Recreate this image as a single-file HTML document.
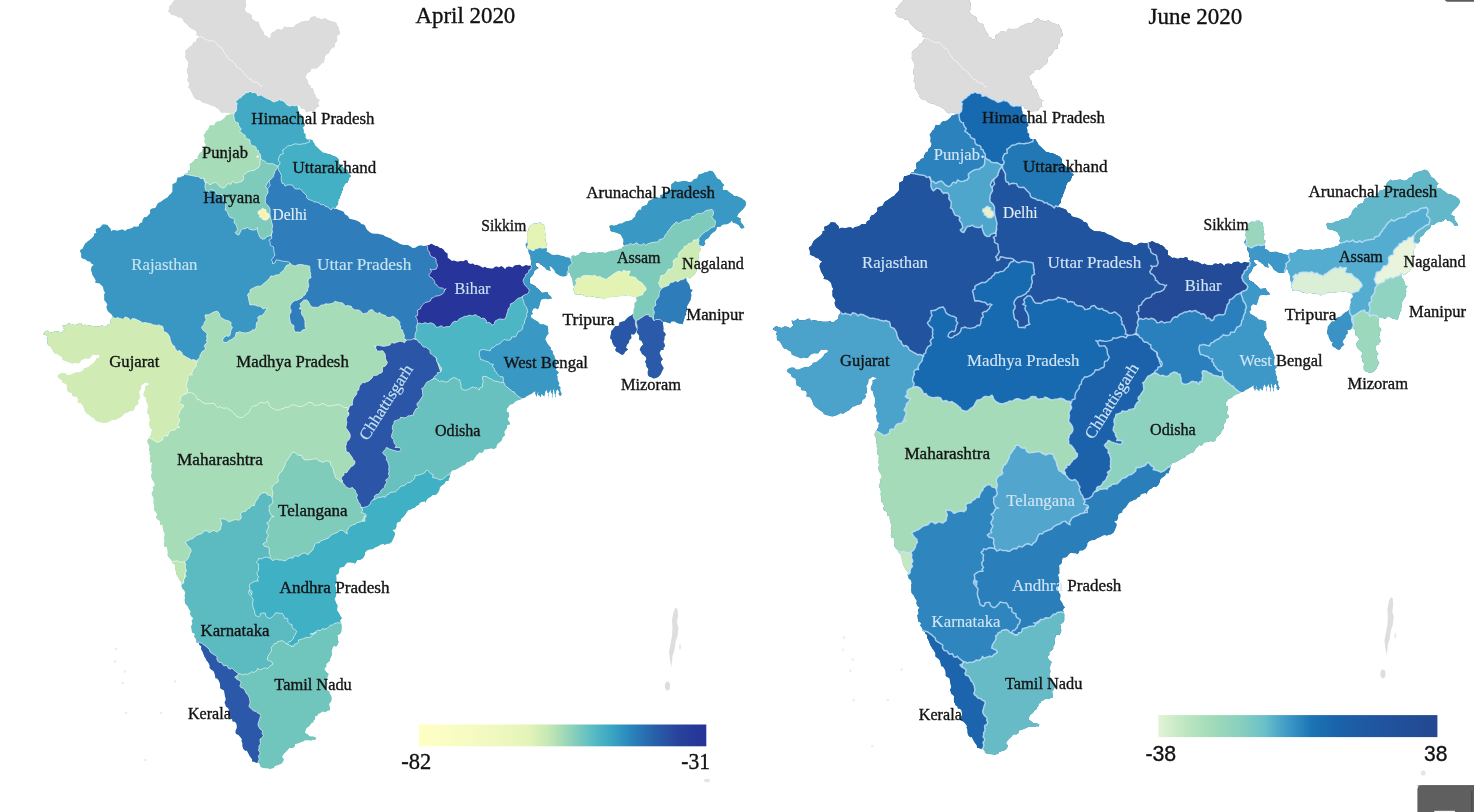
<!DOCTYPE html>
<html><head><meta charset="utf-8"><title>India maps</title>
<style>
html,body{margin:0;padding:0;background:#fff;}
body{width:1474px;height:812px;overflow:hidden;position:relative;}
svg{position:absolute;left:0;top:0;display:block;}
text{font-family:inherit;}
</style></head><body>
<svg width="1474" height="812" viewBox="0 0 1474 812">
<defs>
<linearGradient id="gl" x1="0" x2="1" y1="0" y2="0">
<stop offset="0" stop-color="#ffffc4"/><stop offset="0.10" stop-color="#fafdc4"/><stop offset="0.25" stop-color="#f1f9c0"/><stop offset="0.38" stop-color="#e4f4b9"/>
<stop offset="0.45" stop-color="#c6e8b4"/><stop offset="0.53" stop-color="#8fd2ba"/><stop offset="0.60" stop-color="#5bbec2"/><stop offset="0.67" stop-color="#3aa5c4"/>
<stop offset="0.74" stop-color="#2984bc"/><stop offset="0.82" stop-color="#2860aa"/><stop offset="0.90" stop-color="#28439c"/><stop offset="1" stop-color="#263297"/>
</linearGradient>
<linearGradient id="gr" x1="0" x2="1" y1="0" y2="0">
<stop offset="0" stop-color="#e2f4d6"/><stop offset="0.08" stop-color="#c4e8c4"/><stop offset="0.18" stop-color="#a5dcb9"/><stop offset="0.30" stop-color="#86cfbf"/>
<stop offset="0.38" stop-color="#6bc0c8"/><stop offset="0.46" stop-color="#3f9bc8"/><stop offset="0.55" stop-color="#1b74b4"/><stop offset="0.65" stop-color="#1a62aa"/>
<stop offset="0.80" stop-color="#21549f"/><stop offset="1" stop-color="#234891"/>
</linearGradient>
</defs>
<g transform="translate(0,0)">
<clipPath id="clipL"><polygon points="176.2,-1.2 177.8,-4.2 177.9,-7.2 178.8,-8.7 179.4,-10.7 178.1,-12.4 176.2,-15.0 244.5,-15.0 243.5,-12.2 243.5,-9.8 243.1,-7.5 243.9,-5.0 244.6,-3.2 244.5,-1.2 245.7,0.1 245.8,2.5 246.3,5.8 244.8,8.6 245.5,11.2 248.0,13.3 250.2,13.8 251.7,15.1 251.9,18.4 253.8,20.0 255.5,21.4 258.6,21.8 259.0,23.5 260.0,26.2 261.0,28.3 262.2,30.3 263.9,32.2 263.8,35.0 265.5,35.5 267.0,36.1 268.0,37.4 270.0,38.0 270.7,36.2 271.1,33.3 273.3,32.1 275.0,31.2 275.9,30.0 278.0,29.1 279.6,29.1 281.9,30.3 283.1,27.9 285.0,26.2 286.9,27.4 290.2,26.9 292.3,26.9 294.4,26.6 295.7,24.6 297.5,23.8 299.6,23.0 301.1,21.6 304.0,21.5 305.8,20.5 307.5,21.2 309.5,20.0 310.7,17.6 313.3,16.4 315.5,16.2 316.6,18.0 318.8,17.8 320.7,19.5 323.3,18.8 325.0,18.0 326.7,19.2 329.0,20.6 330.8,21.2 332.3,21.6 335.0,22.0 336.5,23.3 337.4,25.6 338.8,27.8 338.8,30.0 340.1,31.7 339.8,34.3 337.9,35.2 336.9,36.6 337.4,39.0 337.0,41.2 334.7,43.7 335.1,47.1 332.9,47.5 331.2,48.8 329.8,51.0 328.9,53.3 326.3,54.6 325.0,56.2 324.5,59.6 323.8,62.6 321.2,63.8 320.1,65.4 318.4,66.8 316.2,68.8 314.0,68.3 311.0,69.0 310.6,71.6 307.5,73.0 306.9,74.4 305.4,76.0 306.4,78.9 308.0,79.9 308.0,82.5 308.9,84.7 310.8,85.8 310.4,88.0 312.8,88.3 313.8,91.2 314.4,93.5 315.5,94.8 316.1,97.3 318.3,99.5 321.2,100.0 319.0,100.4 318.2,102.8 318.5,104.8 319.5,106.2 317.5,106.9 316.4,107.8 314.8,110.6 312.5,111.2 310.6,111.2 308.6,111.5 306.2,112.5 304.7,109.5 302.9,108.6 301.2,108.8 299.7,105.9 297.5,105.0 298.0,107.6 297.9,109.8 298.7,111.3 298.8,113.8 301.0,114.6 301.9,116.2 303.2,119.0 303.0,121.2 303.9,123.1 305.0,125.6 302.9,127.6 303.8,130.0 303.8,133.0 305.6,134.1 305.5,137.5 307.1,139.5 309.5,139.5 312.5,140.0 313.1,141.8 314.3,143.3 315.2,145.4 317.5,147.5 319.7,149.8 321.3,151.1 322.7,152.6 325.0,153.0 327.0,153.8 330.3,154.4 333.3,155.9 336.2,157.0 338.1,158.8 339.1,160.5 338.8,163.8 340.8,165.2 343.0,167.5 345.4,168.9 347.5,170.0 347.7,171.6 348.3,173.8 350.2,175.1 351.2,176.2 349.5,177.3 348.7,179.5 347.5,182.5 345.1,183.5 344.1,185.4 343.0,187.6 343.1,189.4 342.0,191.2 341.0,194.4 339.9,196.7 339.5,198.7 337.5,200.0 339.5,197.5 338.4,200.2 338.1,201.9 338.1,204.3 335.8,206.7 335.0,208.8 336.7,209.1 338.3,209.7 341.3,210.7 343.6,211.7 345.0,214.5 348.0,215.9 349.1,218.5 351.6,219.2 353.7,219.8 355.0,220.0 358.1,221.3 360.1,222.5 361.5,224.2 363.1,224.3 365.0,225.5 366.0,228.3 367.7,230.6 370.3,232.5 372.1,233.4 375.0,233.8 377.9,233.8 380.5,234.5 382.7,234.7 385.0,236.2 388.0,237.6 390.9,238.6 392.6,240.0 395.0,241.2 397.0,242.1 399.6,243.8 402.3,244.7 405.0,245.0 407.9,244.9 409.5,246.0 411.3,246.9 412.4,248.0 415.3,247.7 417.5,246.2 419.2,245.6 421.5,245.5 423.5,246.1 426.2,245.8 429.4,244.9 431.2,243.8 433.5,245.0 435.4,246.0 437.5,246.2 439.8,247.9 441.7,248.3 443.8,250.0 445.1,252.2 447.3,253.3 447.5,255.8 447.5,258.0 449.9,259.3 451.9,261.0 453.6,260.5 455.5,261.0 457.5,261.8 460.5,260.9 463.4,261.2 465.4,260.0 467.5,260.5 468.1,262.8 470.4,263.9 472.8,263.5 475.0,265.0 476.7,264.7 479.0,265.5 481.2,266.8 482.9,267.7 485.0,266.8 487.0,268.1 489.3,268.2 490.9,268.4 493.0,268.4 495.0,266.8 497.2,266.6 498.7,267.6 501.3,266.1 503.6,267.4 505.0,269.2 506.4,267.2 508.5,266.6 510.4,266.8 512.5,267.5 514.5,265.5 517.1,264.9 519.8,264.7 522.5,266.8 523.9,266.0 526.0,265.0 528.3,265.7 531.2,265.5 531.8,266.0 531.0,263.5 531.7,261.3 530.6,259.3 530.7,256.8 530.1,255.1 529.0,253.3 528.5,250.9 528.8,249.0 526.6,247.8 525.4,244.8 526.8,242.6 527.4,240.4 527.0,238.4 527.2,235.0 526.9,232.1 528.6,230.8 528.5,228.3 529.4,226.5 530.5,225.6 532.2,224.5 533.5,223.3 535.2,223.2 537.6,223.2 540.2,222.0 542.2,224.2 544.3,225.0 544.1,226.8 545.2,229.4 545.0,231.7 545.2,233.4 546.1,236.0 545.9,238.4 545.6,240.8 545.9,242.4 547.6,243.6 546.3,245.9 545.9,247.6 547.1,249.1 546.5,251.8 548.3,252.2 550.2,253.4 551.4,254.6 553.6,255.1 556.4,254.8 558.6,254.7 561.2,255.7 563.6,256.0 565.9,257.2 568.7,257.6 570.8,258.9 571.2,256.8 572.8,255.6 575.4,256.0 578.3,255.2 579.5,253.4 580.9,252.5 582.9,251.8 585.4,252.6 587.5,253.1 590.4,253.4 593.5,252.4 596.3,253.0 598.9,252.3 601.1,252.2 603.0,252.2 605.7,253.0 606.9,252.0 608.9,251.4 612.0,250.6 614.1,250.8 615.5,250.1 617.1,250.3 618.9,248.8 621.8,248.5 622.3,247.0 624.3,245.9 622.9,243.7 623.5,241.8 623.5,239.5 621.8,236.8 621.1,234.8 618.5,233.4 615.7,232.6 614.1,232.1 611.8,231.8 610.3,230.5 610.1,228.4 609.2,226.6 611.0,225.1 613.8,225.7 616.8,225.1 619.7,223.6 621.5,223.7 623.5,222.6 626.0,221.3 628.5,220.9 630.2,220.4 632.0,220.1 632.9,218.4 635.2,216.7 635.6,214.7 636.0,213.4 638.0,210.7 639.7,209.4 641.8,210.1 641.0,208.2 642.3,206.5 644.2,205.7 646.8,205.1 648.0,202.6 648.5,200.9 651.4,199.8 653.5,198.4 655.5,198.2 657.2,197.6 660.3,197.9 660.2,195.0 663.1,194.5 664.2,192.0 666.8,191.8 668.5,190.9 671.5,189.3 671.0,187.9 671.0,185.9 671.5,184.1 673.3,182.9 675.2,180.9 677.1,182.1 680.2,181.7 682.9,181.0 685.2,180.9 687.3,181.4 688.7,182.1 691.9,181.7 693.8,179.3 696.9,178.4 697.9,176.5 698.5,174.8 700.7,174.1 702.7,173.4 705.0,172.2 707.0,172.3 709.4,170.8 712.2,171.1 713.6,172.5 715.1,174.7 716.1,176.7 717.2,178.6 720.3,180.0 721.8,182.6 723.0,183.9 724.4,185.0 722.7,186.8 722.8,190.0 724.7,190.0 726.9,190.0 728.9,192.0 731.1,193.4 732.6,194.6 734.2,195.9 737.0,195.9 739.7,197.5 741.5,197.9 742.8,199.2 744.7,200.4 745.6,201.6 746.1,204.2 745.1,206.6 743.6,208.4 742.1,209.9 740.3,211.7 738.2,214.1 737.0,216.7 739.1,217.8 741.0,218.6 740.3,220.3 741.1,222.6 743.0,224.8 744.5,227.6 743.1,228.2 741.1,228.4 739.7,226.5 738.9,225.3 736.1,223.4 733.0,222.7 731.9,220.4 729.9,222.8 726.9,224.3 724.4,224.3 722.4,224.7 720.3,226.8 718.5,227.0 716.9,227.0 716.3,229.4 715.3,230.9 714.2,231.7 712.3,233.0 710.3,235.1 709.2,237.1 708.2,238.3 706.7,239.1 705.2,240.1 704.6,242.1 705.4,243.7 703.5,246.1 701.1,245.9 699.4,246.8 701.1,249.7 699.5,251.2 698.9,253.5 698.7,256.6 698.6,258.4 698.2,260.1 698.0,263.3 697.3,265.2 696.9,268.5 696.5,271.4 694.9,274.3 692.4,276.2 690.2,278.5 688.7,278.2 686.9,276.8 686.1,276.7 686.2,278.5 686.6,280.9 688.6,283.4 689.8,286.2 690.3,289.3 692.7,290.0 690.8,292.8 691.4,295.0 691.1,296.7 690.6,300.1 689.3,302.1 688.6,303.4 687.1,305.9 687.0,308.4 686.9,310.1 686.0,312.6 686.3,314.5 684.8,316.6 684.4,318.4 683.5,321.2 682.7,324.2 680.7,323.8 678.5,323.4 676.7,322.7 674.4,321.3 671.4,321.4 670.2,323.4 667.1,322.5 665.2,321.7 662.7,322.1 663.1,325.3 663.5,328.4 663.3,331.2 665.1,333.0 665.9,334.7 664.4,336.8 664.4,339.6 663.4,341.9 664.4,343.4 665.1,346.3 663.5,347.7 663.5,350.1 661.0,350.1 659.5,353.0 660.3,354.7 661.0,356.8 662.9,359.3 660.9,361.4 661.0,363.2 661.9,365.1 663.7,367.9 662.7,370.1 661.8,371.8 660.7,374.3 658.5,376.8 656.0,378.1 653.5,378.5 651.4,377.2 649.3,376.8 647.9,375.0 647.7,371.8 648.4,369.1 646.5,366.8 646.3,365.4 646.0,363.5 645.0,361.7 646.3,359.5 646.0,357.3 643.5,355.1 642.0,353.9 641.1,352.0 639.7,349.6 641.0,346.8 643.2,344.4 642.1,342.1 641.1,340.4 639.3,340.1 639.0,337.6 639.4,335.9 637.7,333.4 636.0,332.6 634.1,334.5 631.0,334.3 631.2,336.1 631.4,338.2 629.3,340.1 629.0,342.5 626.8,345.1 626.0,347.7 628.0,349.3 626.6,350.7 625.1,351.8 624.3,353.5 622.6,355.1 620.3,354.1 618.5,352.6 616.8,352.0 615.1,350.1 616.3,347.2 614.8,346.7 613.5,345.1 612.1,342.0 611.7,339.5 610.1,338.4 610.4,336.4 611.0,333.4 611.1,331.0 612.4,329.9 613.5,328.4 615.2,326.0 618.5,325.9 619.1,324.5 619.4,322.6 621.8,321.7 624.5,320.9 626.8,318.4 628.8,316.8 630.3,315.9 631.8,315.1 633.5,313.4 633.5,310.1 634.1,308.4 634.7,306.6 634.3,303.4 635.8,302.0 636.8,300.9 636.5,299.1 636.0,297.5 633.3,296.4 630.1,295.9 628.0,295.1 626.4,295.6 624.6,295.8 621.8,295.9 618.7,296.3 616.0,296.8 613.6,296.4 611.8,296.3 610.1,296.7 608.8,298.1 606.7,298.0 604.0,299.3 601.8,298.7 600.8,297.7 598.4,297.5 595.6,297.2 592.3,296.6 590.0,297.1 586.8,296.7 583.9,295.8 581.7,294.3 578.3,294.8 575.1,294.2 574.5,292.3 573.4,290.0 573.7,288.6 574.4,286.9 573.0,284.5 572.8,282.3 572.5,279.5 571.6,277.3 570.8,275.9 570.2,273.5 568.2,271.9 567.6,274.3 566.6,276.1 563.6,276.5 560.3,276.1 557.8,274.4 555.3,272.7 554.6,270.7 553.6,269.4 551.5,267.3 549.4,266.0 550.0,267.9 550.2,269.4 551.1,271.0 548.6,270.6 546.1,269.4 545.1,267.8 543.5,266.8 541.8,264.9 540.2,264.3 539.1,262.8 536.8,262.7 535.2,263.5 535.8,265.5 536.8,266.8 538.5,268.1 536.0,269.4 534.3,271.0 533.5,273.5 532.8,275.0 531.0,276.9 529.8,278.2 529.7,280.2 530.1,283.6 532.7,284.8 535.2,286.1 536.2,287.6 537.7,288.6 539.3,289.9 540.2,291.1 542.0,292.5 543.5,292.4 545.6,292.1 547.7,292.0 548.3,293.9 549.4,295.3 550.6,296.1 551.9,298.0 552.0,298.4 550.0,298.7 548.7,299.2 545.3,298.8 542.0,299.2 540.9,300.5 540.3,302.6 539.9,304.0 539.4,305.9 538.8,307.7 537.8,309.3 535.3,308.0 533.2,308.8 531.9,311.8 532.8,314.1 530.7,315.1 531.1,317.6 532.5,318.5 534.4,319.7 536.6,321.0 538.6,322.2 539.6,324.0 541.4,324.3 543.6,324.3 545.7,325.2 547.8,326.0 548.2,329.4 548.2,331.8 548.7,333.5 546.6,336.1 546.0,337.5 545.3,339.4 546.4,341.2 547.0,342.8 548.1,344.4 549.5,346.1 550.9,347.6 550.8,349.4 552.9,351.3 552.8,353.6 554.5,356.1 554.9,358.0 555.2,358.4 556.2,361.3 556.8,363.4 556.2,365.1 556.3,366.8 556.0,370.1 557.8,371.3 558.9,372.6 556.9,374.7 557.7,376.7 557.5,378.9 558.0,380.5 559.4,383.4 558.5,385.8 560.5,387.1 560.2,390.1 560.8,391.9 561.7,393.4 561.0,395.9 559.1,395.1 558.4,393.5 560.2,390.9 561.0,392.9 561.2,394.3 559.9,395.7 558.9,397.1 559.6,395.7 560.1,393.2 558.9,391.8 557.5,389.3 556.1,391.3 556.2,393.1 555.0,395.8 555.8,398.1 555.9,395.6 554.9,394.4 554.3,392.3 554.1,390.1 554.2,388.4 553.1,390.4 552.8,393.6 552.5,395.8 552.5,398.4 551.8,396.3 552.2,394.2 550.8,392.1 550.8,389.3 549.5,391.7 548.4,393.4 548.4,395.7 548.8,398.8 548.8,396.8 548.9,394.0 547.5,392.7 546.8,390.1 545.3,391.6 545.0,393.8 544.2,396.4 544.8,398.1 543.8,395.9 542.5,395.0 541.2,392.7 542.8,390.9 542.0,392.8 541.4,394.4 540.8,397.6 539.4,395.5 537.9,394.9 538.3,392.8 538.5,390.9 537.3,393.9 536.8,397.1 535.9,395.2 535.2,393.6 535.2,390.9 533.4,392.3 531.8,393.4 529.0,395.0 526.8,395.9 525.1,397.4 523.3,398.1 521.8,398.4 520.3,399.7 518.5,400.1 515.9,401.1 513.5,403.4 512.0,404.3 509.9,404.8 508.5,406.8 506.7,409.1 506.8,411.8 508.8,412.6 509.2,415.2 508.9,417.3 507.6,418.5 508.0,420.2 509.5,421.9 510.1,424.3 507.1,425.3 506.8,428.5 505.4,430.2 504.3,431.8 504.5,433.2 505.1,435.2 502.7,437.2 501.8,440.2 499.5,442.6 498.0,443.5 496.8,445.2 496.4,447.5 493.7,449.2 492.4,448.4 490.1,448.5 487.2,449.3 484.1,449.6 483.4,451.8 481.5,453.0 479.6,452.2 478.3,453.8 476.7,455.0 475.0,457.5 474.1,459.0 473.0,460.4 471.1,460.2 469.6,461.5 466.8,462.3 465.0,465.0 463.0,465.6 461.8,466.3 459.6,467.6 457.5,468.8 455.0,470.0 452.5,470.3 451.3,471.5 450.6,473.1 450.0,475.0 449.8,477.0 448.7,478.8 448.3,481.1 445.7,481.1 444.5,483.6 442.5,485.0 440.8,486.2 439.5,487.8 439.4,489.8 438.0,492.6 435.8,494.8 432.5,495.0 430.5,496.9 429.0,497.5 427.4,498.8 426.3,500.6 425.0,503.0 425.0,501.2 423.2,501.6 421.3,502.0 419.4,503.0 419.0,504.7 416.4,505.8 415.0,507.5 412.3,508.4 410.6,509.7 408.8,509.8 406.7,512.2 405.0,515.0 402.8,517.4 401.1,518.7 400.6,521.2 397.5,522.5 396.5,524.1 396.6,526.5 395.4,529.2 392.5,530.0 393.6,531.3 395.1,532.9 394.7,535.5 393.8,537.5 392.6,540.2 391.7,541.9 389.2,543.7 386.6,543.8 385.0,545.0 383.2,544.1 380.8,544.6 378.2,546.3 375.0,547.5 372.6,549.3 369.4,549.6 367.3,550.3 365.0,552.5 365.0,554.7 364.1,556.5 362.8,558.5 360.0,560.0 357.1,560.1 356.4,562.0 355.0,563.8 353.3,562.8 351.6,562.7 350.0,562.6 347.5,562.5 345.5,564.6 344.5,566.2 342.6,567.2 340.0,567.5 339.0,570.2 339.1,572.2 338.2,573.9 336.2,575.0 336.4,577.5 336.5,579.5 336.4,581.1 336.7,583.1 335.0,585.0 335.7,587.0 336.0,588.5 336.4,590.8 336.1,592.9 336.2,595.0 335.5,597.2 334.5,598.9 335.4,600.8 336.1,603.1 337.5,605.0 337.5,607.1 337.0,610.2 338.8,612.7 340.0,615.0 340.9,617.0 342.3,617.9 340.8,619.2 340.1,621.2 341.1,622.9 341.2,625.0 341.4,627.1 340.8,628.5 341.7,630.7 342.5,632.5 341.7,630.1 341.0,628.5 341.4,626.7 342.0,624.0 341.3,625.7 341.5,628.6 341.0,631.7 340.0,634.0 337.1,634.9 337.8,637.5 337.5,639.2 338.5,641.7 337.8,644.1 336.2,646.5 334.1,645.7 332.6,647.0 332.2,649.1 331.3,651.4 331.8,653.7 331.2,656.5 330.0,658.5 330.2,660.6 328.1,662.6 326.2,664.0 326.5,666.6 324.4,668.4 325.0,670.2 326.9,672.5 328.8,674.0 328.1,675.5 327.4,677.3 326.8,679.8 327.1,682.1 327.5,684.0 326.2,686.7 327.0,688.0 326.8,690.1 329.3,691.6 330.0,694.0 331.3,696.1 331.6,697.8 331.7,699.9 330.4,702.6 329.1,704.0 329.6,706.7 330.1,708.3 330.0,710.2 327.9,710.6 325.7,711.9 322.5,711.5 319.9,713.2 318.1,713.9 317.4,715.8 315.0,716.5 315.2,719.0 313.7,720.4 313.2,722.2 311.0,723.6 310.0,725.2 308.8,726.5 306.5,728.1 305.7,729.9 305.0,732.8 307.8,734.4 310.0,736.5 313.2,736.6 316.2,737.8 315.0,740.2 313.2,739.6 311.4,740.4 309.1,740.3 306.8,740.2 305.0,740.2 303.1,741.4 301.4,742.0 299.1,742.9 297.6,743.5 295.0,744.0 294.7,746.4 292.7,747.9 291.2,747.9 289.3,748.1 287.5,750.2 285.2,752.4 283.3,754.4 282.0,756.9 283.8,759.0 283.4,761.1 281.7,763.6 280.0,764.3 277.5,765.2 274.7,766.1 273.9,767.9 271.5,768.4 270.0,769.0 267.7,768.2 265.6,768.3 262.5,767.8 260.6,767.0 259.9,764.6 258.7,763.0 256.2,762.8 254.3,761.7 252.2,761.6 252.0,759.0 250.0,756.5 249.1,754.8 248.1,753.1 246.9,750.6 245.3,750.7 243.6,749.2 242.5,746.5 242.5,743.3 241.5,740.8 242.0,739.2 240.5,737.3 238.5,735.0 236.2,734.0 235.5,732.7 235.6,730.5 236.8,728.1 236.8,725.8 236.4,723.8 234.9,721.8 232.5,721.5 232.1,719.1 230.3,718.4 229.6,716.2 228.6,715.1 228.5,712.0 228.8,709.0 227.3,707.4 226.0,706.7 225.2,704.2 224.5,702.4 225.3,701.1 225.8,698.9 225.0,696.5 224.6,693.9 224.0,690.5 222.1,689.6 220.1,688.3 220.1,686.1 220.0,684.0 219.4,682.1 218.6,680.4 217.2,678.5 215.4,678.2 215.1,676.0 214.8,674.4 213.8,671.5 211.8,670.0 209.6,668.2 209.6,665.3 208.5,662.9 207.5,661.5 206.3,660.2 205.8,658.5 204.5,656.8 203.5,653.9 202.5,651.5 201.1,649.1 201.3,646.0 199.6,645.3 198.8,642.8 195.9,642.0 196.2,639.9 195.6,638.6 194.0,636.6 195.0,634.0 192.1,632.5 191.8,631.0 191.5,628.9 191.0,626.3 192.5,624.0 191.9,622.0 191.6,620.7 193.3,618.3 191.3,616.6 190.0,614.0 190.6,611.3 188.8,609.0 188.1,606.9 187.2,605.8 185.2,603.5 184.7,600.2 185.0,597.5 184.6,595.2 185.4,593.4 184.9,591.7 184.4,590.2 182.5,588.8 181.7,586.4 181.2,585.0 181.6,582.3 179.5,580.0 178.1,577.5 177.4,575.9 176.3,574.6 176.1,571.8 175.4,569.7 175.0,567.5 174.9,564.8 172.4,563.0 171.2,560.0 169.2,557.8 168.1,556.6 167.4,554.9 167.8,553.0 167.5,550.0 166.8,547.1 164.8,547.0 163.8,545.2 164.2,542.9 164.5,541.4 164.4,539.5 163.8,537.5 164.6,536.0 164.7,533.8 163.5,531.4 163.2,529.2 162.7,527.6 162.6,524.5 160.0,525.0 160.3,521.9 159.1,520.2 156.9,519.1 155.8,516.6 157.3,515.1 156.2,512.5 154.1,509.9 154.2,507.6 154.2,505.8 153.4,502.7 153.8,500.0 153.4,497.7 151.8,494.8 151.7,492.5 153.0,490.9 153.5,488.7 152.5,487.5 154.8,485.4 154.2,482.4 152.7,480.5 152.0,479.1 151.4,477.6 151.2,475.0 152.0,472.2 151.2,470.0 151.6,467.2 151.4,464.7 152.7,463.5 150.3,462.2 150.0,460.0 150.1,457.6 150.5,455.5 149.3,453.8 149.9,451.9 148.8,450.0 148.8,450.0 149.6,447.6 149.1,445.3 147.5,442.5 147.6,440.0 148.4,438.6 150.0,436.2 151.5,433.3 151.2,431.7 152.5,430.0 149.9,428.1 149.4,425.1 148.9,422.7 150.0,420.0 149.3,417.5 149.1,414.9 147.2,412.9 147.5,410.0 148.0,406.7 147.9,404.5 146.6,402.2 146.2,400.0 145.7,397.6 143.7,395.9 143.5,394.0 143.8,392.5 145.1,389.9 145.5,387.7 145.0,386.2 148.1,385.1 150.0,383.8 147.7,383.3 145.0,382.5 143.6,384.0 141.2,385.0 141.2,386.5 140.9,388.7 140.0,390.3 138.8,392.5 139.8,394.6 139.5,397.2 139.9,399.1 137.5,400.0 138.7,402.2 137.8,404.5 135.0,406.2 134.3,409.4 132.8,410.9 130.0,411.1 127.5,412.5 125.3,412.9 123.2,414.8 121.8,416.5 120.0,417.5 117.8,418.4 115.5,420.3 112.3,419.8 110.0,421.2 107.2,422.4 104.6,423.1 102.5,422.8 100.0,422.0 97.5,421.5 95.4,420.5 94.3,418.4 92.5,417.5 90.1,415.9 88.2,414.1 86.6,413.4 85.0,411.2 84.0,408.5 83.4,406.7 82.2,404.6 80.8,403.1 77.5,402.5 78.1,399.4 77.3,397.3 75.7,396.5 73.7,396.4 71.9,395.6 72.3,393.6 70.0,392.5 67.5,391.2 67.1,387.9 66.8,386.3 66.7,384.5 64.8,383.6 62.5,382.5 61.9,380.2 60.0,378.9 58.6,377.9 57.5,376.2 58.2,374.9 60.0,373.8 62.1,373.1 63.6,373.1 65.6,373.2 66.8,375.0 70.0,375.0 72.6,373.8 75.3,372.8 77.5,372.2 80.0,372.5 81.2,371.5 83.2,370.4 84.3,368.1 87.5,367.5 89.1,366.6 91.1,364.7 93.1,363.2 95.0,361.2 96.1,359.5 96.7,358.3 98.4,358.0 100.0,356.2 98.0,354.5 95.0,355.0 93.0,354.6 91.1,356.6 89.7,358.6 87.5,358.8 85.7,358.3 83.2,359.3 81.0,360.6 80.0,362.5 77.9,363.6 76.3,363.1 74.0,362.8 72.5,363.8 70.0,362.7 67.2,361.7 64.8,360.8 62.5,360.0 62.5,358.7 61.6,356.7 59.2,355.5 57.0,353.7 55.0,353.8 53.4,352.1 52.8,350.4 51.2,347.9 50.0,346.2 48.1,345.3 47.4,343.1 47.5,340.0 46.6,338.4 48.0,336.5 45.6,335.1 43.0,334.2 45.0,331.8 47.2,330.6 49.2,331.9 52.5,332.5 55.1,331.1 57.7,331.4 59.6,331.8 60.8,333.2 63.1,331.1 64.8,329.8 63.2,327.9 62.5,325.0 64.7,325.5 66.6,325.0 68.9,322.8 70.8,325.0 72.5,324.6 75.0,325.0 77.4,324.2 79.1,323.1 81.3,323.1 82.1,325.4 84.6,324.7 87.5,325.0 89.2,325.4 91.3,325.8 94.1,326.2 97.2,326.3 100.0,326.2 102.4,325.1 103.5,327.1 106.0,326.5 107.8,324.6 110.0,323.8 110.6,321.5 110.6,319.9 112.5,317.5 112.5,316.2 111.5,314.3 110.4,313.4 107.9,311.3 106.7,308.6 106.4,306.3 107.5,305.0 106.3,302.6 104.4,300.5 104.2,299.0 104.3,297.0 104.1,294.8 105.0,292.5 103.6,290.2 103.3,288.0 102.5,286.2 100.7,284.7 99.7,283.6 97.0,282.9 95.0,282.5 95.8,280.7 94.5,278.1 93.7,276.9 92.5,275.0 91.9,272.7 90.9,269.7 91.7,266.5 93.8,265.0 91.0,263.2 90.1,261.6 87.5,261.2 85.3,259.2 83.4,258.9 81.2,257.5 81.2,255.1 81.1,253.6 80.0,251.2 80.5,249.8 82.5,248.7 84.0,245.8 85.0,243.8 86.7,242.2 88.9,240.5 90.8,239.0 92.5,237.5 94.0,235.7 94.2,233.4 96.5,233.0 95.6,230.8 96.2,228.8 97.8,228.3 99.6,227.7 101.0,226.6 102.5,224.5 105.5,224.5 107.5,225.0 108.5,226.6 110.5,228.4 111.2,231.2 113.1,230.1 115.1,230.2 117.1,230.7 120.0,230.0 121.5,229.6 123.4,229.7 125.2,231.1 127.1,229.3 130.0,228.8 132.5,227.8 133.9,226.4 136.7,226.7 138.8,226.2 139.0,224.4 140.3,223.1 142.4,222.2 142.5,220.0 144.2,217.3 146.5,217.0 148.3,215.2 150.2,213.3 150.0,210.0 151.9,208.6 155.3,208.0 156.7,205.5 157.5,203.8 159.1,202.6 160.5,202.0 162.8,200.2 165.0,198.8 167.8,197.3 169.2,195.1 170.7,193.9 172.5,191.5 172.4,189.2 172.5,187.5 172.5,184.2 174.9,183.0 176.4,182.2 176.9,179.8 177.5,177.5 179.2,177.4 181.1,176.8 183.5,176.0 185.0,173.8 186.7,173.8 188.8,172.5 188.8,175.0 187.7,172.4 188.9,170.3 190.5,170.0 190.1,166.7 189.7,164.3 192.5,162.5 194.3,161.2 194.7,159.8 197.9,159.1 197.8,157.2 198.7,155.3 200.0,153.0 202.1,152.2 202.3,149.8 204.8,147.4 205.8,144.3 204.5,142.5 204.5,140.5 204.8,138.0 203.6,135.2 205.5,132.5 206.6,130.6 208.1,129.8 209.1,127.0 210.0,125.0 212.1,125.5 214.4,125.0 215.5,122.7 217.5,121.2 219.1,121.4 221.3,120.6 223.0,119.2 225.0,117.5 226.5,115.3 228.5,115.1 230.0,113.8 228.8,112.5 226.3,112.9 223.3,113.1 221.2,112.5 220.0,111.2 218.8,109.2 216.7,108.0 215.1,106.7 213.1,105.9 210.0,105.0 207.2,103.5 204.5,103.2 201.6,102.0 200.0,100.0 196.9,99.7 194.4,98.0 193.0,95.8 192.5,93.8 190.9,91.3 190.0,88.7 188.1,87.6 189.4,85.1 188.8,82.5 187.0,80.3 187.7,78.8 188.3,76.5 188.3,74.5 187.0,73.2 186.8,70.0 187.5,67.8 188.3,66.5 188.2,64.8 188.4,63.1 187.8,61.3 186.5,59.9 185.2,57.0 185.5,55.0 185.5,52.9 185.3,51.5 185.8,50.1 187.5,48.8 189.0,47.2 190.3,46.5 192.2,45.0 193.3,42.2 195.7,41.8 196.2,40.0 197.5,38.0 200.0,37.0 198.1,35.6 196.1,35.3 196.9,32.7 195.0,30.0 193.5,29.9 191.6,28.6 189.0,27.0 187.5,25.0 186.3,23.8 184.2,22.2 183.4,20.9 182.5,18.8 180.6,17.6 178.2,17.5 177.1,16.3 175.0,15.5 173.2,15.3 171.0,14.8 170.4,13.0 168.0,11.2 169.4,9.0 168.8,6.2 171.2,5.0 172.5,2.4 174.1,0.8"/></clipPath>
<g clip-path="url(#clipL)" stroke="#ffffff" stroke-opacity="0.6" stroke-width="1" stroke-linejoin="round">
<polygon points="176.2,-1.2 177.8,-4.2 177.9,-7.2 178.8,-8.7 179.4,-10.7 178.1,-12.4 176.2,-15.0 244.5,-15.0 243.5,-12.2 243.5,-9.8 243.1,-7.5 243.9,-5.0 244.6,-3.2 244.5,-1.2 245.7,0.1 245.8,2.5 246.3,5.8 244.8,8.6 245.5,11.2 248.0,13.3 250.2,13.8 251.7,15.1 251.9,18.4 253.8,20.0 255.5,21.4 258.6,21.8 259.0,23.5 260.0,26.2 261.0,28.3 262.2,30.3 263.9,32.2 263.8,35.0 265.5,35.5 267.0,36.1 268.0,37.4 270.0,38.0 270.7,36.2 271.1,33.3 273.3,32.1 275.0,31.2 275.9,30.0 278.0,29.1 279.6,29.1 281.9,30.3 283.1,27.9 285.0,26.2 286.9,27.4 290.2,26.9 292.3,26.9 294.4,26.6 295.7,24.6 297.5,23.8 299.6,23.0 301.1,21.6 304.0,21.5 305.8,20.5 307.5,21.2 309.5,20.0 310.7,17.6 313.3,16.4 315.5,16.2 316.6,18.0 318.8,17.8 320.7,19.5 323.3,18.8 325.0,18.0 326.7,19.2 329.0,20.6 330.8,21.2 332.3,21.6 335.0,22.0 336.5,23.3 337.4,25.6 338.8,27.8 338.8,30.0 340.1,31.7 339.8,34.3 337.9,35.2 336.9,36.6 337.4,39.0 337.0,41.2 334.7,43.7 335.1,47.1 332.9,47.5 331.2,48.8 329.8,51.0 328.9,53.3 326.3,54.6 325.0,56.2 324.5,59.6 323.8,62.6 321.2,63.8 320.1,65.4 318.4,66.8 316.2,68.8 314.0,68.3 311.0,69.0 310.6,71.6 307.5,73.0 306.9,74.4 305.4,76.0 306.4,78.9 308.0,79.9 308.0,82.5 308.9,84.7 310.8,85.8 310.4,88.0 312.8,88.3 313.8,91.2 314.4,93.5 315.5,94.8 316.1,97.3 318.3,99.5 321.2,100.0 319.0,100.4 318.2,102.8 318.5,104.8 319.5,106.2 317.5,106.9 316.4,107.8 314.8,110.6 312.5,111.2 310.6,111.2 308.6,111.5 306.2,112.5 304.7,109.5 302.9,108.6 301.2,108.8 299.7,105.9 297.5,105.0 298.0,107.6 297.9,109.8 298.7,111.3 298.8,113.8 301.0,114.6 301.9,116.2 303.2,119.0 303.0,121.2 303.9,123.1 305.0,125.6 302.9,127.6 303.8,130.0 303.8,133.0 305.6,134.1 305.5,137.5 307.1,139.5 309.5,139.5 312.5,140.0 313.1,141.8 314.3,143.3 315.2,145.4 317.5,147.5 319.7,149.8 321.3,151.1 322.7,152.6 325.0,153.0 327.0,153.8 330.3,154.4 333.3,155.9 336.2,157.0 338.1,158.8 339.1,160.5 338.8,163.8 340.8,165.2 343.0,167.5 345.4,168.9 347.5,170.0 347.7,171.6 348.3,173.8 350.2,175.1 351.2,176.2 349.5,177.3 348.7,179.5 347.5,182.5 345.1,183.5 344.1,185.4 343.0,187.6 343.1,189.4 342.0,191.2 341.0,194.4 339.9,196.7 339.5,198.7 337.5,200.0 339.5,197.5 338.4,200.2 338.1,201.9 338.1,204.3 335.8,206.7 335.0,208.8 336.7,209.1 338.3,209.7 341.3,210.7 343.6,211.7 345.0,214.5 348.0,215.9 349.1,218.5 351.6,219.2 353.7,219.8 355.0,220.0 358.1,221.3 360.1,222.5 361.5,224.2 363.1,224.3 365.0,225.5 366.0,228.3 367.7,230.6 370.3,232.5 372.1,233.4 375.0,233.8 377.9,233.8 380.5,234.5 382.7,234.7 385.0,236.2 388.0,237.6 390.9,238.6 392.6,240.0 395.0,241.2 397.0,242.1 399.6,243.8 402.3,244.7 405.0,245.0 407.9,244.9 409.5,246.0 411.3,246.9 412.4,248.0 415.3,247.7 417.5,246.2 419.2,245.6 421.5,245.5 423.5,246.1 426.2,245.8 429.4,244.9 431.2,243.8 433.5,245.0 435.4,246.0 437.5,246.2 439.8,247.9 441.7,248.3 443.8,250.0 445.1,252.2 447.3,253.3 447.5,255.8 447.5,258.0 449.9,259.3 451.9,261.0 453.6,260.5 455.5,261.0 457.5,261.8 460.5,260.9 463.4,261.2 465.4,260.0 467.5,260.5 468.1,262.8 470.4,263.9 472.8,263.5 475.0,265.0 476.7,264.7 479.0,265.5 481.2,266.8 482.9,267.7 485.0,266.8 487.0,268.1 489.3,268.2 490.9,268.4 493.0,268.4 495.0,266.8 497.2,266.6 498.7,267.6 501.3,266.1 503.6,267.4 505.0,269.2 506.4,267.2 508.5,266.6 510.4,266.8 512.5,267.5 514.5,265.5 517.1,264.9 519.8,264.7 522.5,266.8 523.9,266.0 526.0,265.0 528.3,265.7 531.2,265.5 531.8,266.0 531.0,263.5 531.7,261.3 530.6,259.3 530.7,256.8 530.1,255.1 529.0,253.3 528.5,250.9 528.8,249.0 526.6,247.8 525.4,244.8 526.8,242.6 527.4,240.4 527.0,238.4 527.2,235.0 526.9,232.1 528.6,230.8 528.5,228.3 529.4,226.5 530.5,225.6 532.2,224.5 533.5,223.3 535.2,223.2 537.6,223.2 540.2,222.0 542.2,224.2 544.3,225.0 544.1,226.8 545.2,229.4 545.0,231.7 545.2,233.4 546.1,236.0 545.9,238.4 545.6,240.8 545.9,242.4 547.6,243.6 546.3,245.9 545.9,247.6 547.1,249.1 546.5,251.8 548.3,252.2 550.2,253.4 551.4,254.6 553.6,255.1 556.4,254.8 558.6,254.7 561.2,255.7 563.6,256.0 565.9,257.2 568.7,257.6 570.8,258.9 571.2,256.8 572.8,255.6 575.4,256.0 578.3,255.2 579.5,253.4 580.9,252.5 582.9,251.8 585.4,252.6 587.5,253.1 590.4,253.4 593.5,252.4 596.3,253.0 598.9,252.3 601.1,252.2 603.0,252.2 605.7,253.0 606.9,252.0 608.9,251.4 612.0,250.6 614.1,250.8 615.5,250.1 617.1,250.3 618.9,248.8 621.8,248.5 622.3,247.0 624.3,245.9 622.9,243.7 623.5,241.8 623.5,239.5 621.8,236.8 621.1,234.8 618.5,233.4 615.7,232.6 614.1,232.1 611.8,231.8 610.3,230.5 610.1,228.4 609.2,226.6 611.0,225.1 613.8,225.7 616.8,225.1 619.7,223.6 621.5,223.7 623.5,222.6 626.0,221.3 628.5,220.9 630.2,220.4 632.0,220.1 632.9,218.4 635.2,216.7 635.6,214.7 636.0,213.4 638.0,210.7 639.7,209.4 641.8,210.1 641.0,208.2 642.3,206.5 644.2,205.7 646.8,205.1 648.0,202.6 648.5,200.9 651.4,199.8 653.5,198.4 655.5,198.2 657.2,197.6 660.3,197.9 660.2,195.0 663.1,194.5 664.2,192.0 666.8,191.8 668.5,190.9 671.5,189.3 671.0,187.9 671.0,185.9 671.5,184.1 673.3,182.9 675.2,180.9 677.1,182.1 680.2,181.7 682.9,181.0 685.2,180.9 687.3,181.4 688.7,182.1 691.9,181.7 693.8,179.3 696.9,178.4 697.9,176.5 698.5,174.8 700.7,174.1 702.7,173.4 705.0,172.2 707.0,172.3 709.4,170.8 712.2,171.1 713.6,172.5 715.1,174.7 716.1,176.7 717.2,178.6 720.3,180.0 721.8,182.6 723.0,183.9 724.4,185.0 722.7,186.8 722.8,190.0 724.7,190.0 726.9,190.0 728.9,192.0 731.1,193.4 732.6,194.6 734.2,195.9 737.0,195.9 739.7,197.5 741.5,197.9 742.8,199.2 744.7,200.4 745.6,201.6 746.1,204.2 745.1,206.6 743.6,208.4 742.1,209.9 740.3,211.7 738.2,214.1 737.0,216.7 739.1,217.8 741.0,218.6 740.3,220.3 741.1,222.6 743.0,224.8 744.5,227.6 743.1,228.2 741.1,228.4 739.7,226.5 738.9,225.3 736.1,223.4 733.0,222.7 731.9,220.4 729.9,222.8 726.9,224.3 724.4,224.3 722.4,224.7 720.3,226.8 718.5,227.0 716.9,227.0 716.3,229.4 715.3,230.9 714.2,231.7 712.3,233.0 710.3,235.1 709.2,237.1 708.2,238.3 706.7,239.1 705.2,240.1 704.6,242.1 705.4,243.7 703.5,246.1 701.1,245.9 699.4,246.8 701.1,249.7 699.5,251.2 698.9,253.5 698.7,256.6 698.6,258.4 698.2,260.1 698.0,263.3 697.3,265.2 696.9,268.5 696.5,271.4 694.9,274.3 692.4,276.2 690.2,278.5 688.7,278.2 686.9,276.8 686.1,276.7 686.2,278.5 686.6,280.9 688.6,283.4 689.8,286.2 690.3,289.3 692.7,290.0 690.8,292.8 691.4,295.0 691.1,296.7 690.6,300.1 689.3,302.1 688.6,303.4 687.1,305.9 687.0,308.4 686.9,310.1 686.0,312.6 686.3,314.5 684.8,316.6 684.4,318.4 683.5,321.2 682.7,324.2 680.7,323.8 678.5,323.4 676.7,322.7 674.4,321.3 671.4,321.4 670.2,323.4 667.1,322.5 665.2,321.7 662.7,322.1 663.1,325.3 663.5,328.4 663.3,331.2 665.1,333.0 665.9,334.7 664.4,336.8 664.4,339.6 663.4,341.9 664.4,343.4 665.1,346.3 663.5,347.7 663.5,350.1 661.0,350.1 659.5,353.0 660.3,354.7 661.0,356.8 662.9,359.3 660.9,361.4 661.0,363.2 661.9,365.1 663.7,367.9 662.7,370.1 661.8,371.8 660.7,374.3 658.5,376.8 656.0,378.1 653.5,378.5 651.4,377.2 649.3,376.8 647.9,375.0 647.7,371.8 648.4,369.1 646.5,366.8 646.3,365.4 646.0,363.5 645.0,361.7 646.3,359.5 646.0,357.3 643.5,355.1 642.0,353.9 641.1,352.0 639.7,349.6 641.0,346.8 643.2,344.4 642.1,342.1 641.1,340.4 639.3,340.1 639.0,337.6 639.4,335.9 637.7,333.4 636.0,332.6 634.1,334.5 631.0,334.3 631.2,336.1 631.4,338.2 629.3,340.1 629.0,342.5 626.8,345.1 626.0,347.7 628.0,349.3 626.6,350.7 625.1,351.8 624.3,353.5 622.6,355.1 620.3,354.1 618.5,352.6 616.8,352.0 615.1,350.1 616.3,347.2 614.8,346.7 613.5,345.1 612.1,342.0 611.7,339.5 610.1,338.4 610.4,336.4 611.0,333.4 611.1,331.0 612.4,329.9 613.5,328.4 615.2,326.0 618.5,325.9 619.1,324.5 619.4,322.6 621.8,321.7 624.5,320.9 626.8,318.4 628.8,316.8 630.3,315.9 631.8,315.1 633.5,313.4 633.5,310.1 634.1,308.4 634.7,306.6 634.3,303.4 635.8,302.0 636.8,300.9 636.5,299.1 636.0,297.5 633.3,296.4 630.1,295.9 628.0,295.1 626.4,295.6 624.6,295.8 621.8,295.9 618.7,296.3 616.0,296.8 613.6,296.4 611.8,296.3 610.1,296.7 608.8,298.1 606.7,298.0 604.0,299.3 601.8,298.7 600.8,297.7 598.4,297.5 595.6,297.2 592.3,296.6 590.0,297.1 586.8,296.7 583.9,295.8 581.7,294.3 578.3,294.8 575.1,294.2 574.5,292.3 573.4,290.0 573.7,288.6 574.4,286.9 573.0,284.5 572.8,282.3 572.5,279.5 571.6,277.3 570.8,275.9 570.2,273.5 568.2,271.9 567.6,274.3 566.6,276.1 563.6,276.5 560.3,276.1 557.8,274.4 555.3,272.7 554.6,270.7 553.6,269.4 551.5,267.3 549.4,266.0 550.0,267.9 550.2,269.4 551.1,271.0 548.6,270.6 546.1,269.4 545.1,267.8 543.5,266.8 541.8,264.9 540.2,264.3 539.1,262.8 536.8,262.7 535.2,263.5 535.8,265.5 536.8,266.8 538.5,268.1 536.0,269.4 534.3,271.0 533.5,273.5 532.8,275.0 531.0,276.9 529.8,278.2 529.7,280.2 530.1,283.6 532.7,284.8 535.2,286.1 536.2,287.6 537.7,288.6 539.3,289.9 540.2,291.1 542.0,292.5 543.5,292.4 545.6,292.1 547.7,292.0 548.3,293.9 549.4,295.3 550.6,296.1 551.9,298.0 552.0,298.4 550.0,298.7 548.7,299.2 545.3,298.8 542.0,299.2 540.9,300.5 540.3,302.6 539.9,304.0 539.4,305.9 538.8,307.7 537.8,309.3 535.3,308.0 533.2,308.8 531.9,311.8 532.8,314.1 530.7,315.1 531.1,317.6 532.5,318.5 534.4,319.7 536.6,321.0 538.6,322.2 539.6,324.0 541.4,324.3 543.6,324.3 545.7,325.2 547.8,326.0 548.2,329.4 548.2,331.8 548.7,333.5 546.6,336.1 546.0,337.5 545.3,339.4 546.4,341.2 547.0,342.8 548.1,344.4 549.5,346.1 550.9,347.6 550.8,349.4 552.9,351.3 552.8,353.6 554.5,356.1 554.9,358.0 555.2,358.4 556.2,361.3 556.8,363.4 556.2,365.1 556.3,366.8 556.0,370.1 557.8,371.3 558.9,372.6 556.9,374.7 557.7,376.7 557.5,378.9 558.0,380.5 559.4,383.4 558.5,385.8 560.5,387.1 560.2,390.1 560.8,391.9 561.7,393.4 561.0,395.9 559.1,395.1 558.4,393.5 560.2,390.9 561.0,392.9 561.2,394.3 559.9,395.7 558.9,397.1 559.6,395.7 560.1,393.2 558.9,391.8 557.5,389.3 556.1,391.3 556.2,393.1 555.0,395.8 555.8,398.1 555.9,395.6 554.9,394.4 554.3,392.3 554.1,390.1 554.2,388.4 553.1,390.4 552.8,393.6 552.5,395.8 552.5,398.4 551.8,396.3 552.2,394.2 550.8,392.1 550.8,389.3 549.5,391.7 548.4,393.4 548.4,395.7 548.8,398.8 548.8,396.8 548.9,394.0 547.5,392.7 546.8,390.1 545.3,391.6 545.0,393.8 544.2,396.4 544.8,398.1 543.8,395.9 542.5,395.0 541.2,392.7 542.8,390.9 542.0,392.8 541.4,394.4 540.8,397.6 539.4,395.5 537.9,394.9 538.3,392.8 538.5,390.9 537.3,393.9 536.8,397.1 535.9,395.2 535.2,393.6 535.2,390.9 533.4,392.3 531.8,393.4 529.0,395.0 526.8,395.9 525.1,397.4 523.3,398.1 521.8,398.4 520.3,399.7 518.5,400.1 515.9,401.1 513.5,403.4 512.0,404.3 509.9,404.8 508.5,406.8 506.7,409.1 506.8,411.8 508.8,412.6 509.2,415.2 508.9,417.3 507.6,418.5 508.0,420.2 509.5,421.9 510.1,424.3 507.1,425.3 506.8,428.5 505.4,430.2 504.3,431.8 504.5,433.2 505.1,435.2 502.7,437.2 501.8,440.2 499.5,442.6 498.0,443.5 496.8,445.2 496.4,447.5 493.7,449.2 492.4,448.4 490.1,448.5 487.2,449.3 484.1,449.6 483.4,451.8 481.5,453.0 479.6,452.2 478.3,453.8 476.7,455.0 475.0,457.5 474.1,459.0 473.0,460.4 471.1,460.2 469.6,461.5 466.8,462.3 465.0,465.0 463.0,465.6 461.8,466.3 459.6,467.6 457.5,468.8 455.0,470.0 452.5,470.3 451.3,471.5 450.6,473.1 450.0,475.0 449.8,477.0 448.7,478.8 448.3,481.1 445.7,481.1 444.5,483.6 442.5,485.0 440.8,486.2 439.5,487.8 439.4,489.8 438.0,492.6 435.8,494.8 432.5,495.0 430.5,496.9 429.0,497.5 427.4,498.8 426.3,500.6 425.0,503.0 425.0,501.2 423.2,501.6 421.3,502.0 419.4,503.0 419.0,504.7 416.4,505.8 415.0,507.5 412.3,508.4 410.6,509.7 408.8,509.8 406.7,512.2 405.0,515.0 402.8,517.4 401.1,518.7 400.6,521.2 397.5,522.5 396.5,524.1 396.6,526.5 395.4,529.2 392.5,530.0 393.6,531.3 395.1,532.9 394.7,535.5 393.8,537.5 392.6,540.2 391.7,541.9 389.2,543.7 386.6,543.8 385.0,545.0 383.2,544.1 380.8,544.6 378.2,546.3 375.0,547.5 372.6,549.3 369.4,549.6 367.3,550.3 365.0,552.5 365.0,554.7 364.1,556.5 362.8,558.5 360.0,560.0 357.1,560.1 356.4,562.0 355.0,563.8 353.3,562.8 351.6,562.7 350.0,562.6 347.5,562.5 345.5,564.6 344.5,566.2 342.6,567.2 340.0,567.5 339.0,570.2 339.1,572.2 338.2,573.9 336.2,575.0 336.4,577.5 336.5,579.5 336.4,581.1 336.7,583.1 335.0,585.0 335.7,587.0 336.0,588.5 336.4,590.8 336.1,592.9 336.2,595.0 335.5,597.2 334.5,598.9 335.4,600.8 336.1,603.1 337.5,605.0 337.5,607.1 337.0,610.2 338.8,612.7 340.0,615.0 340.9,617.0 342.3,617.9 340.8,619.2 340.1,621.2 341.1,622.9 341.2,625.0 341.4,627.1 340.8,628.5 341.7,630.7 342.5,632.5 341.7,630.1 341.0,628.5 341.4,626.7 342.0,624.0 341.3,625.7 341.5,628.6 341.0,631.7 340.0,634.0 337.1,634.9 337.8,637.5 337.5,639.2 338.5,641.7 337.8,644.1 336.2,646.5 334.1,645.7 332.6,647.0 332.2,649.1 331.3,651.4 331.8,653.7 331.2,656.5 330.0,658.5 330.2,660.6 328.1,662.6 326.2,664.0 326.5,666.6 324.4,668.4 325.0,670.2 326.9,672.5 328.8,674.0 328.1,675.5 327.4,677.3 326.8,679.8 327.1,682.1 327.5,684.0 326.2,686.7 327.0,688.0 326.8,690.1 329.3,691.6 330.0,694.0 331.3,696.1 331.6,697.8 331.7,699.9 330.4,702.6 329.1,704.0 329.6,706.7 330.1,708.3 330.0,710.2 327.9,710.6 325.7,711.9 322.5,711.5 319.9,713.2 318.1,713.9 317.4,715.8 315.0,716.5 315.2,719.0 313.7,720.4 313.2,722.2 311.0,723.6 310.0,725.2 308.8,726.5 306.5,728.1 305.7,729.9 305.0,732.8 307.8,734.4 310.0,736.5 313.2,736.6 316.2,737.8 315.0,740.2 313.2,739.6 311.4,740.4 309.1,740.3 306.8,740.2 305.0,740.2 303.1,741.4 301.4,742.0 299.1,742.9 297.6,743.5 295.0,744.0 294.7,746.4 292.7,747.9 291.2,747.9 289.3,748.1 287.5,750.2 285.2,752.4 283.3,754.4 282.0,756.9 283.8,759.0 283.4,761.1 281.7,763.6 280.0,764.3 277.5,765.2 274.7,766.1 273.9,767.9 271.5,768.4 270.0,769.0 267.7,768.2 265.6,768.3 262.5,767.8 260.6,767.0 259.9,764.6 258.7,763.0 256.2,762.8 254.3,761.7 252.2,761.6 252.0,759.0 250.0,756.5 249.1,754.8 248.1,753.1 246.9,750.6 245.3,750.7 243.6,749.2 242.5,746.5 242.5,743.3 241.5,740.8 242.0,739.2 240.5,737.3 238.5,735.0 236.2,734.0 235.5,732.7 235.6,730.5 236.8,728.1 236.8,725.8 236.4,723.8 234.9,721.8 232.5,721.5 232.1,719.1 230.3,718.4 229.6,716.2 228.6,715.1 228.5,712.0 228.8,709.0 227.3,707.4 226.0,706.7 225.2,704.2 224.5,702.4 225.3,701.1 225.8,698.9 225.0,696.5 224.6,693.9 224.0,690.5 222.1,689.6 220.1,688.3 220.1,686.1 220.0,684.0 219.4,682.1 218.6,680.4 217.2,678.5 215.4,678.2 215.1,676.0 214.8,674.4 213.8,671.5 211.8,670.0 209.6,668.2 209.6,665.3 208.5,662.9 207.5,661.5 206.3,660.2 205.8,658.5 204.5,656.8 203.5,653.9 202.5,651.5 201.1,649.1 201.3,646.0 199.6,645.3 198.8,642.8 195.9,642.0 196.2,639.9 195.6,638.6 194.0,636.6 195.0,634.0 192.1,632.5 191.8,631.0 191.5,628.9 191.0,626.3 192.5,624.0 191.9,622.0 191.6,620.7 193.3,618.3 191.3,616.6 190.0,614.0 190.6,611.3 188.8,609.0 188.1,606.9 187.2,605.8 185.2,603.5 184.7,600.2 185.0,597.5 184.6,595.2 185.4,593.4 184.9,591.7 184.4,590.2 182.5,588.8 181.7,586.4 181.2,585.0 181.6,582.3 179.5,580.0 178.1,577.5 177.4,575.9 176.3,574.6 176.1,571.8 175.4,569.7 175.0,567.5 174.9,564.8 172.4,563.0 171.2,560.0 169.2,557.8 168.1,556.6 167.4,554.9 167.8,553.0 167.5,550.0 166.8,547.1 164.8,547.0 163.8,545.2 164.2,542.9 164.5,541.4 164.4,539.5 163.8,537.5 164.6,536.0 164.7,533.8 163.5,531.4 163.2,529.2 162.7,527.6 162.6,524.5 160.0,525.0 160.3,521.9 159.1,520.2 156.9,519.1 155.8,516.6 157.3,515.1 156.2,512.5 154.1,509.9 154.2,507.6 154.2,505.8 153.4,502.7 153.8,500.0 153.4,497.7 151.8,494.8 151.7,492.5 153.0,490.9 153.5,488.7 152.5,487.5 154.8,485.4 154.2,482.4 152.7,480.5 152.0,479.1 151.4,477.6 151.2,475.0 152.0,472.2 151.2,470.0 151.6,467.2 151.4,464.7 152.7,463.5 150.3,462.2 150.0,460.0 150.1,457.6 150.5,455.5 149.3,453.8 149.9,451.9 148.8,450.0 148.8,450.0 149.6,447.6 149.1,445.3 147.5,442.5 147.6,440.0 148.4,438.6 150.0,436.2 151.5,433.3 151.2,431.7 152.5,430.0 149.9,428.1 149.4,425.1 148.9,422.7 150.0,420.0 149.3,417.5 149.1,414.9 147.2,412.9 147.5,410.0 148.0,406.7 147.9,404.5 146.6,402.2 146.2,400.0 145.7,397.6 143.7,395.9 143.5,394.0 143.8,392.5 145.1,389.9 145.5,387.7 145.0,386.2 148.1,385.1 150.0,383.8 147.7,383.3 145.0,382.5 143.6,384.0 141.2,385.0 141.2,386.5 140.9,388.7 140.0,390.3 138.8,392.5 139.8,394.6 139.5,397.2 139.9,399.1 137.5,400.0 138.7,402.2 137.8,404.5 135.0,406.2 134.3,409.4 132.8,410.9 130.0,411.1 127.5,412.5 125.3,412.9 123.2,414.8 121.8,416.5 120.0,417.5 117.8,418.4 115.5,420.3 112.3,419.8 110.0,421.2 107.2,422.4 104.6,423.1 102.5,422.8 100.0,422.0 97.5,421.5 95.4,420.5 94.3,418.4 92.5,417.5 90.1,415.9 88.2,414.1 86.6,413.4 85.0,411.2 84.0,408.5 83.4,406.7 82.2,404.6 80.8,403.1 77.5,402.5 78.1,399.4 77.3,397.3 75.7,396.5 73.7,396.4 71.9,395.6 72.3,393.6 70.0,392.5 67.5,391.2 67.1,387.9 66.8,386.3 66.7,384.5 64.8,383.6 62.5,382.5 61.9,380.2 60.0,378.9 58.6,377.9 57.5,376.2 58.2,374.9 60.0,373.8 62.1,373.1 63.6,373.1 65.6,373.2 66.8,375.0 70.0,375.0 72.6,373.8 75.3,372.8 77.5,372.2 80.0,372.5 81.2,371.5 83.2,370.4 84.3,368.1 87.5,367.5 89.1,366.6 91.1,364.7 93.1,363.2 95.0,361.2 96.1,359.5 96.7,358.3 98.4,358.0 100.0,356.2 98.0,354.5 95.0,355.0 93.0,354.6 91.1,356.6 89.7,358.6 87.5,358.8 85.7,358.3 83.2,359.3 81.0,360.6 80.0,362.5 77.9,363.6 76.3,363.1 74.0,362.8 72.5,363.8 70.0,362.7 67.2,361.7 64.8,360.8 62.5,360.0 62.5,358.7 61.6,356.7 59.2,355.5 57.0,353.7 55.0,353.8 53.4,352.1 52.8,350.4 51.2,347.9 50.0,346.2 48.1,345.3 47.4,343.1 47.5,340.0 46.6,338.4 48.0,336.5 45.6,335.1 43.0,334.2 45.0,331.8 47.2,330.6 49.2,331.9 52.5,332.5 55.1,331.1 57.7,331.4 59.6,331.8 60.8,333.2 63.1,331.1 64.8,329.8 63.2,327.9 62.5,325.0 64.7,325.5 66.6,325.0 68.9,322.8 70.8,325.0 72.5,324.6 75.0,325.0 77.4,324.2 79.1,323.1 81.3,323.1 82.1,325.4 84.6,324.7 87.5,325.0 89.2,325.4 91.3,325.8 94.1,326.2 97.2,326.3 100.0,326.2 102.4,325.1 103.5,327.1 106.0,326.5 107.8,324.6 110.0,323.8 110.6,321.5 110.6,319.9 112.5,317.5 112.5,316.2 111.5,314.3 110.4,313.4 107.9,311.3 106.7,308.6 106.4,306.3 107.5,305.0 106.3,302.6 104.4,300.5 104.2,299.0 104.3,297.0 104.1,294.8 105.0,292.5 103.6,290.2 103.3,288.0 102.5,286.2 100.7,284.7 99.7,283.6 97.0,282.9 95.0,282.5 95.8,280.7 94.5,278.1 93.7,276.9 92.5,275.0 91.9,272.7 90.9,269.7 91.7,266.5 93.8,265.0 91.0,263.2 90.1,261.6 87.5,261.2 85.3,259.2 83.4,258.9 81.2,257.5 81.2,255.1 81.1,253.6 80.0,251.2 80.5,249.8 82.5,248.7 84.0,245.8 85.0,243.8 86.7,242.2 88.9,240.5 90.8,239.0 92.5,237.5 94.0,235.7 94.2,233.4 96.5,233.0 95.6,230.8 96.2,228.8 97.8,228.3 99.6,227.7 101.0,226.6 102.5,224.5 105.5,224.5 107.5,225.0 108.5,226.6 110.5,228.4 111.2,231.2 113.1,230.1 115.1,230.2 117.1,230.7 120.0,230.0 121.5,229.6 123.4,229.7 125.2,231.1 127.1,229.3 130.0,228.8 132.5,227.8 133.9,226.4 136.7,226.7 138.8,226.2 139.0,224.4 140.3,223.1 142.4,222.2 142.5,220.0 144.2,217.3 146.5,217.0 148.3,215.2 150.2,213.3 150.0,210.0 151.9,208.6 155.3,208.0 156.7,205.5 157.5,203.8 159.1,202.6 160.5,202.0 162.8,200.2 165.0,198.8 167.8,197.3 169.2,195.1 170.7,193.9 172.5,191.5 172.4,189.2 172.5,187.5 172.5,184.2 174.9,183.0 176.4,182.2 176.9,179.8 177.5,177.5 179.2,177.4 181.1,176.8 183.5,176.0 185.0,173.8 186.7,173.8 188.8,172.5 188.8,175.0 187.7,172.4 188.9,170.3 190.5,170.0 190.1,166.7 189.7,164.3 192.5,162.5 194.3,161.2 194.7,159.8 197.9,159.1 197.8,157.2 198.7,155.3 200.0,153.0 202.1,152.2 202.3,149.8 204.8,147.4 205.8,144.3 204.5,142.5 204.5,140.5 204.8,138.0 203.6,135.2 205.5,132.5 206.6,130.6 208.1,129.8 209.1,127.0 210.0,125.0 212.1,125.5 214.4,125.0 215.5,122.7 217.5,121.2 219.1,121.4 221.3,120.6 223.0,119.2 225.0,117.5 226.5,115.3 228.5,115.1 230.0,113.8 228.8,112.5 226.3,112.9 223.3,113.1 221.2,112.5 220.0,111.2 218.8,109.2 216.7,108.0 215.1,106.7 213.1,105.9 210.0,105.0 207.2,103.5 204.5,103.2 201.6,102.0 200.0,100.0 196.9,99.7 194.4,98.0 193.0,95.8 192.5,93.8 190.9,91.3 190.0,88.7 188.1,87.6 189.4,85.1 188.8,82.5 187.0,80.3 187.7,78.8 188.3,76.5 188.3,74.5 187.0,73.2 186.8,70.0 187.5,67.8 188.3,66.5 188.2,64.8 188.4,63.1 187.8,61.3 186.5,59.9 185.2,57.0 185.5,55.0 185.5,52.9 185.3,51.5 185.8,50.1 187.5,48.8 189.0,47.2 190.3,46.5 192.2,45.0 193.3,42.2 195.7,41.8 196.2,40.0 197.5,38.0 200.0,37.0 198.1,35.6 196.1,35.3 196.9,32.7 195.0,30.0 193.5,29.9 191.6,28.6 189.0,27.0 187.5,25.0 186.3,23.8 184.2,22.2 183.4,20.9 182.5,18.8 180.6,17.6 178.2,17.5 177.1,16.3 175.0,15.5 173.2,15.3 171.0,14.8 170.4,13.0 168.0,11.2 169.4,9.0 168.8,6.2 171.2,5.0 172.5,2.4 174.1,0.8" fill="#a6dcb8" stroke="none"/>
<polygon points="150.0,-20.0 350.0,-20.0 350.0,125.0 150.0,125.0" fill="#dcdcdc"/>
<polygon points="197.5,361.2 197.6,359.4 199.7,358.0 200.0,355.0 201.0,353.7 201.8,351.8 203.3,350.8 205.0,350.0 205.3,348.1 204.2,346.0 205.8,343.6 207.5,342.5 206.3,340.9 207.0,338.7 206.5,336.0 207.2,334.5 206.2,332.5 204.3,331.2 203.1,330.0 201.5,327.7 202.4,326.0 203.8,325.0 204.4,322.3 206.2,320.0 205.4,317.7 205.0,315.0 207.1,314.7 208.4,314.7 210.3,314.0 212.5,312.5 214.7,311.7 217.5,311.2 219.5,313.9 220.0,316.2 221.1,317.6 222.7,318.6 225.0,320.0 226.6,320.4 228.5,320.8 231.2,322.5 230.7,325.1 232.5,327.5 231.5,329.2 230.9,330.6 230.6,332.5 230.0,335.0 228.9,336.4 226.6,335.8 223.8,337.5 223.0,339.2 222.5,341.2 224.1,342.3 226.2,342.5 228.0,341.7 229.2,340.2 230.9,339.9 232.5,338.8 233.9,337.8 235.3,336.3 235.8,334.2 236.2,332.5 238.1,332.5 239.6,331.6 241.8,332.5 245.2,333.0 247.5,332.5 249.5,332.1 251.2,331.1 252.5,329.8 255.0,330.0 256.1,327.5 256.2,325.0 256.8,322.2 258.5,321.4 258.2,319.1 257.5,317.5 259.7,315.8 261.7,315.8 263.1,314.2 265.0,312.5 265.4,310.5 267.5,308.8 265.3,308.0 263.1,309.0 261.6,307.5 260.0,306.2 257.4,306.1 254.8,305.0 252.5,304.7 250.0,305.0 249.5,302.8 248.8,300.0 248.3,297.0 247.5,295.0 248.7,293.2 250.1,292.8 250.0,290.0 252.1,288.5 253.7,287.9 255.9,286.7 257.5,286.2 260.5,286.2 263.1,284.2 264.8,282.4 266.7,281.5 267.5,280.0 269.8,278.1 270.8,275.9 273.6,276.2 275.8,274.9 277.5,275.0 279.7,274.2 281.5,271.8 284.2,269.9 285.0,267.5 286.9,265.1 289.1,264.7 290.0,263.0 290.7,260.8 291.6,259.1 293.9,259.8 296.2,258.5 296.2,255.7 298.1,253.9 299.1,252.3 300.0,250.0 290.0,200.0 260.0,150.0 150.0,150.0 20.0,250.0 20.0,340.0 21.9,340.4 23.8,340.3 25.6,341.1 26.9,341.7 29.2,340.8 32.3,341.5 34.9,342.9 36.3,344.3 37.5,345.4 39.6,346.2 42.5,345.8 44.2,346.1 46.5,346.8 48.9,345.8 51.0,344.8 52.3,343.8 54.7,342.8 57.0,343.6 60.0,345.0 61.6,342.4 64.0,341.2 65.8,341.4 68.3,341.9 71.0,342.6 72.7,341.9 74.5,341.3 76.0,341.6 77.9,341.9 80.2,342.8 83.5,342.0 85.6,341.9 87.2,341.3 88.9,340.7 91.0,341.8 92.8,343.0 95.6,343.0 97.3,343.8 100.0,345.0 150.0,350.0 151.6,350.5 153.7,352.1 156.2,352.6 159.2,352.7 160.7,353.8 161.9,355.6 164.1,355.4 165.5,355.8 167.8,356.6 170.5,356.6 172.2,357.4 173.8,357.8 176.8,359.3 180.0,360.0 183.1,360.6 184.5,358.8 186.8,359.5 188.3,360.4 190.7,360.1 192.1,360.8 194.2,361.5" fill="#3a97c3"/>
<polygon points="271.2,235.0 271.6,236.6 271.7,238.5 268.8,240.0 270.3,242.3 270.0,245.0 271.4,245.9 273.5,246.9 273.8,250.0 274.0,252.0 275.0,255.0 273.9,256.5 273.2,258.1 271.2,260.0 272.7,261.7 272.5,263.8 275.0,262.9 276.1,259.8 278.0,260.1 280.0,260.5 283.0,261.3 286.2,261.4 288.4,261.8 290.0,263.0 290.0,263.0 291.4,264.2 292.6,265.2 295.1,266.0 297.7,264.8 300.0,264.5 302.9,264.7 304.3,265.2 306.7,265.4 309.6,266.2 310.0,269.5 310.0,271.7 310.8,273.5 310.4,275.3 311.2,277.5 308.5,279.2 308.0,281.9 308.7,284.6 308.8,286.2 307.7,288.7 307.7,290.9 306.1,292.2 305.0,295.0 303.2,295.9 302.2,297.7 300.0,298.8 297.6,300.1 295.3,300.6 293.8,301.2 291.5,303.6 290.1,305.9 290.0,308.2 291.2,310.0 290.9,312.8 289.5,314.5 289.4,316.8 290.0,320.0 290.3,322.0 291.1,323.9 292.7,324.8 294.0,325.7 293.8,328.8 294.8,331.9 297.3,332.1 299.3,331.9 301.2,332.5 301.7,330.6 303.7,329.6 306.2,328.8 305.1,327.2 305.0,325.1 304.9,323.3 305.0,321.2 304.4,319.3 303.8,317.6 302.7,315.7 301.8,314.7 301.2,312.5 302.1,309.8 299.0,308.5 301.0,306.8 300.0,303.8 302.0,301.7 303.8,300.0 306.8,299.9 308.3,301.5 309.5,303.6 310.0,305.0 312.0,307.0 314.1,307.3 315.7,307.2 317.5,307.5 319.7,306.2 321.5,304.9 323.9,305.0 325.0,303.8 328.1,304.0 330.4,303.8 333.4,302.9 335.0,301.2 337.2,302.0 339.3,302.4 342.6,303.0 344.3,304.6 345.0,306.2 347.8,305.5 350.0,306.1 351.4,306.3 352.2,308.3 355.0,310.0 356.8,309.8 359.4,310.3 361.5,311.9 362.5,313.8 364.7,313.5 367.7,312.7 368.7,310.7 370.0,310.0 372.3,309.6 374.3,311.9 375.6,312.7 377.6,313.4 380.0,312.5 381.8,314.5 385.1,315.2 387.2,317.3 390.0,317.5 392.9,316.2 394.9,317.5 396.3,318.8 398.0,320.0 400.0,322.5 399.6,324.5 400.7,326.2 400.3,328.9 402.5,330.0 402.7,331.4 403.5,333.3 404.5,335.8 403.8,338.8 405.8,339.2 406.9,340.5 408.5,343.2 410.9,343.9 413.6,343.9 415.7,343.6 417.0,345.2 419.4,344.7 421.5,345.0 422.7,346.2 425.7,346.3 427.3,344.8 430.0,345.0 450.0,300.0 450.0,240.0 340.0,150.0 280.0,160.0 278.3,161.8 277.5,163.1 275.9,165.3 273.9,166.6 272.5,169.3 274.0,171.9 273.3,174.3 270.8,176.0 269.4,177.8 269.1,180.2 269.5,183.4 270.2,185.4 268.6,187.4 267.0,189.7 264.3,191.1 263.7,193.2 263.6,195.5 264.4,197.8 262.0,200.0 261.7,201.9 262.7,203.5 264.0,204.1 265.3,206.0 265.4,208.3 265.6,210.8 263.7,213.2 264.4,215.4 265.4,217.7 265.2,219.6 266.3,221.1 267.3,222.3 269.7,222.9 269.8,225.4 270.6,227.3 271.2,229.4 272.3,231.9" fill="#2f7ebb"/>
<polygon points="112.5,316.2 113.5,317.6 115.1,318.5 117.5,317.5 119.1,318.2 121.1,318.7 123.2,319.4 125.0,317.0 127.7,317.8 129.0,318.6 130.7,320.2 132.3,318.6 135.0,318.8 137.6,320.1 140.2,321.3 142.8,322.9 145.0,322.5 147.2,323.0 148.6,323.3 150.9,323.7 153.2,324.9 155.0,325.0 156.7,325.4 159.1,324.9 160.6,325.7 162.5,326.2 163.4,328.5 163.4,330.3 164.0,331.7 166.2,332.5 167.5,333.3 168.7,335.1 170.0,337.5 170.1,339.3 171.0,342.0 172.5,345.0 174.6,346.2 175.2,348.6 176.4,350.1 177.5,351.2 179.4,350.5 181.5,351.9 182.8,354.9 185.0,356.2 187.8,357.9 189.5,358.5 191.2,360.0 193.8,359.6 195.9,360.5 197.5,361.2 196.3,363.7 196.2,365.9 195.0,367.5 193.3,369.4 192.4,371.4 191.7,373.4 192.5,375.0 189.3,374.9 187.5,377.5 188.2,379.7 187.1,381.9 186.2,385.0 186.7,387.7 187.8,388.9 187.5,391.2 186.2,393.8 186.1,396.3 187.1,397.9 185.8,398.8 184.0,400.0 184.5,401.9 185.4,404.1 185.2,407.2 186.0,410.0 184.1,412.6 184.6,414.8 182.7,416.4 181.5,418.1 181.0,420.4 179.6,422.6 181.7,425.0 181.6,428.2 181.0,430.4 179.5,431.3 179.0,433.9 178.5,436.4 179.4,438.4 179.4,440.2 180.1,441.8 179.2,444.2 177.5,445.0 179.4,447.5 180.0,450.0 20.0,450.0 20.0,310.0 100.0,318.0 102.2,317.5 103.2,316.5 105.1,315.1 107.6,315.8 109.2,316.3" fill="#d0ecb4"/>
<polygon points="151.2,438.8 153.0,440.0 154.3,440.7 155.9,441.8 157.5,442.5 160.3,441.3 162.5,440.0 163.1,436.8 164.8,435.7 167.5,436.2 168.5,433.3 170.0,431.2 172.2,430.1 175.0,430.0 176.2,428.1 177.4,427.3 180.0,427.5 177.4,426.0 178.2,423.9 178.8,422.5 180.0,419.6 178.6,417.5 177.5,416.2 178.8,414.3 179.7,412.8 180.0,410.0 181.2,409.0 182.7,407.7 183.8,405.0 181.2,404.5 178.8,402.5 181.0,400.1 180.5,398.3 181.2,396.2 183.8,394.6 186.2,393.8 188.8,392.5 191.3,392.7 193.8,393.8 195.2,395.3 196.4,397.0 197.5,400.0 199.9,399.5 201.6,402.1 203.9,403.0 206.0,403.5 207.5,403.8 209.5,403.6 212.5,403.3 215.1,404.0 215.7,405.6 217.5,407.5 220.5,406.7 222.4,407.8 224.1,408.4 226.6,407.7 227.8,409.0 230.0,410.0 231.8,411.3 233.4,412.8 235.0,414.0 236.2,416.2 238.0,416.9 240.0,417.5 242.2,417.6 243.5,416.6 245.5,414.8 247.5,413.8 249.5,411.6 250.4,409.3 251.6,407.5 252.5,406.2 254.5,405.9 256.6,405.4 257.8,404.2 260.0,402.5 261.9,402.5 264.7,403.1 267.5,401.2 268.6,402.9 269.1,405.2 271.2,407.5 274.1,409.1 275.4,409.8 277.5,410.0 279.1,410.0 280.9,409.2 283.6,408.5 285.6,407.2 287.5,407.5 289.2,406.9 290.7,405.8 292.3,405.0 295.0,405.0 297.2,406.0 299.2,406.6 302.5,406.2 304.4,405.2 306.1,404.7 307.4,402.9 310.0,402.5 312.4,402.8 313.0,404.4 315.3,405.5 317.4,405.0 320.0,405.0 321.8,403.2 324.6,404.2 327.2,405.7 330.0,406.2 332.0,405.3 334.7,405.2 336.9,404.5 340.0,405.0 341.5,405.7 343.0,407.0 344.7,407.5 347.5,407.5 348.2,410.8 347.9,413.0 348.8,415.0 350.6,417.0 349.5,418.7 349.2,420.3 352.5,421.0 353.6,423.5 354.4,424.9 356.2,426.4 358.1,428.7 360.0,430.0 370.0,500.0 368.8,503.0 367.0,504.2 365.7,505.9 364.0,507.9 362.0,507.4 360.4,507.1 359.1,509.9 357.6,510.2 355.9,511.2 355.8,513.9 355.8,516.3 354.3,517.5 352.4,518.4 350.0,520.0 300.0,560.0 250.0,600.0 200.0,600.0 150.0,610.0 120.0,560.0 120.0,450.0 122.4,450.2 124.0,450.1 126.9,448.8 128.4,448.3 130.0,446.7 132.9,447.4 133.8,445.9 135.6,444.0 138.1,444.9 139.9,445.0 141.8,443.7 143.8,442.4 145.8,440.5 146.8,438.5 149.4,438.2" fill="#a6dcb8"/>
<polygon points="342.5,482.5 342.6,480.5 341.2,478.8 342.2,476.2 344.1,475.1 343.8,472.5 346.6,472.8 348.5,469.9 349.9,468.4 350.3,467.0 352.5,466.2 354.7,463.9 355.0,461.2 353.1,459.7 352.2,457.3 350.3,454.8 348.8,452.5 346.1,451.5 346.0,448.4 345.6,446.3 346.2,445.0 346.6,442.1 348.8,440.0 350.1,437.7 350.3,435.5 349.8,433.5 349.2,432.3 347.5,430.0 345.8,427.5 346.4,425.4 346.5,424.0 346.9,422.2 346.2,420.0 346.8,417.6 348.8,415.0 348.9,412.8 347.6,411.3 348.7,408.9 349.6,406.0 352.5,405.0 352.4,402.4 353.0,399.5 353.8,397.7 355.0,396.2 356.4,394.7 356.8,393.3 356.8,391.3 358.8,390.0 359.0,388.1 359.6,385.8 361.0,384.4 362.5,382.5 364.6,382.7 366.7,381.8 368.8,380.9 370.0,380.0 372.2,377.9 373.3,375.2 375.7,375.6 377.5,375.0 379.3,373.5 381.5,373.0 382.5,371.4 382.5,368.8 382.7,366.9 385.2,366.2 386.5,364.5 387.5,362.5 386.4,360.6 385.5,358.5 385.5,356.4 385.0,353.8 384.1,352.6 382.8,350.7 380.5,350.9 377.5,351.2 375.8,348.3 375.7,346.4 373.8,345.5 375.3,346.7 377.4,345.2 379.6,345.6 382.5,346.2 384.4,346.3 386.9,345.8 390.0,345.0 391.6,342.6 394.4,343.2 396.8,342.3 400.0,341.2 402.1,341.6 404.7,342.7 405.6,340.8 407.5,340.0 410.3,339.9 412.0,339.5 413.8,338.8 416.2,339.8 419.3,339.1 421.2,339.9 422.3,341.6 423.9,340.7 426.5,340.9 428.7,340.7 430.0,340.0 450.0,400.0 420.0,470.0 380.0,520.0 376.8,520.2 375.2,518.9 374.6,517.2 372.8,517.7 370.5,516.7 367.8,516.9 365.5,517.0 364.7,514.9 362.7,513.4 359.7,512.3 357.8,511.0 357.5,508.5 355.5,509.0 354.0,509.0 352.0,509.6 349.7,508.3 347.8,508.7 346.2,508.3 344.9,507.2 343.4,505.8 344.3,504.0 343.7,502.1 341.4,501.9 340.0,500.0 338.5,497.9 340.2,496.3 339.1,494.7 338.8,492.6 340.7,490.1 343.0,487.6 342.7,485.4" fill="#2b56a8"/>
<polygon points="203.8,178.8 204.3,180.8 205.4,182.3 205.1,185.0 205.0,187.5 205.8,190.3 207.5,192.5 209.3,191.0 210.7,189.7 213.2,190.2 215.0,191.2 216.2,193.4 217.9,195.1 219.9,194.4 222.5,195.0 223.7,197.8 223.2,200.4 225.0,202.5 225.8,204.1 225.6,206.5 225.6,208.0 225.0,210.0 226.6,210.6 227.7,212.8 228.6,215.3 230.0,217.5 233.1,218.3 234.8,219.8 233.9,221.7 234.6,223.3 236.2,225.0 236.8,226.9 237.7,229.8 236.6,231.0 235.0,232.5 236.8,234.6 238.8,235.0 240.2,232.4 241.2,230.3 242.5,228.8 245.1,228.7 247.5,227.5 249.7,229.3 252.5,230.0 254.4,229.9 256.0,229.6 257.5,227.5 257.2,230.0 258.0,232.5 258.7,234.6 260.0,237.5 262.6,239.2 265.0,238.8 266.4,236.9 267.8,236.4 269.9,235.6 271.2,236.2 271.5,234.0 272.3,231.1 271.9,229.3 272.5,227.5 272.6,225.2 271.9,222.9 271.2,220.0 270.4,216.8 270.1,214.6 270.0,212.5 270.1,209.2 268.9,206.6 267.5,205.0 265.8,203.7 265.2,201.3 265.7,199.5 265.5,197.5 266.4,195.2 268.1,192.5 267.7,189.4 266.2,187.5 265.9,186.0 266.8,184.1 267.7,182.2 270.0,180.0 272.0,178.3 273.5,176.6 273.8,174.4 274.5,173.2 275.0,171.2 277.0,168.6 277.5,166.2 278.6,163.9 276.1,161.7 275.7,159.7 274.8,158.1 273.0,156.5 273.2,154.2 274.6,152.7 275.0,150.0 272.4,149.5 270.9,149.3 268.7,148.2 267.3,149.4 264.9,150.6 263.3,153.1 260.8,151.7 259.0,152.0 256.5,152.2 253.7,151.5 251.7,151.2 248.9,149.9 246.7,148.7 244.7,149.1 242.7,148.2 240.0,150.0 237.9,151.1 236.4,151.6 233.6,151.6 231.7,150.9 229.5,151.8 227.4,152.1 226.3,153.1 225.4,154.5 223.4,155.4 222.3,157.1 220.3,159.0 217.8,160.1 215.0,160.0 214.9,162.8 213.6,165.0 211.7,166.6 209.5,166.3 208.1,168.4 205.4,168.7 203.6,170.4 201.6,170.4 200.0,170.0 201.3,172.6 203.2,174.3 203.3,176.6" fill="#7fcbbb"/>
<polygon points="230.0,113.8 233.2,113.3 234.9,112.7 236.2,110.5 238.5,109.8 240.0,110.0 240.5,112.7 242.6,114.8 244.2,115.7 245.3,117.4 246.9,119.8 248.1,121.2 248.2,123.8 247.6,125.9 248.7,128.3 250.0,130.0 252.3,131.0 254.5,132.6 255.8,134.7 256.5,137.9 257.7,139.5 259.3,140.1 260.3,141.4 260.2,143.4 261.4,145.7 262.5,147.5 262.2,149.2 262.5,150.9 261.1,152.9 261.9,154.4 262.5,156.2 260.5,158.0 260.1,161.4 260.0,163.8 259.6,165.8 258.0,168.0 256.3,168.6 255.0,170.0 253.1,170.5 250.2,170.8 247.6,172.0 245.0,173.8 243.2,175.6 243.8,178.8 242.0,181.4 239.9,181.8 238.8,182.5 237.3,182.8 234.9,182.9 232.5,181.2 231.5,182.9 230.9,184.5 229.0,183.7 227.5,183.8 225.8,186.4 224.3,187.7 222.5,188.0 220.7,186.8 219.4,186.3 217.5,183.8 215.6,182.4 212.8,183.1 210.0,185.0 207.5,182.8 205.0,182.5 204.8,180.1 203.8,178.0 200.7,178.7 198.6,176.7 196.6,176.6 195.0,176.2 192.0,175.7 188.8,175.0 186.9,174.7 184.2,174.3 181.8,175.3 180.2,175.9 177.0,175.7 175.0,175.0 187.5,125.0 189.7,124.9 192.3,124.2 194.0,122.7 196.2,121.6 199.0,121.2 200.9,120.1 202.5,121.3 203.9,122.8 207.1,122.7 207.9,121.5 208.8,119.5 211.8,119.2 213.0,118.4 215.0,117.5 217.4,116.0 219.2,115.2 221.5,116.0 222.5,113.6 225.0,112.8 226.2,114.5 228.4,114.2" fill="#a6dcb8"/>
<polygon points="236.2,111.2 236.7,108.3 236.5,105.4 237.3,103.5 235.4,101.8 237.5,100.0 239.4,98.1 241.3,97.4 242.3,95.5 243.8,95.0 246.0,92.7 248.7,92.4 250.0,91.2 252.3,92.7 255.0,92.5 257.1,94.0 257.5,95.8 259.2,95.5 261.2,95.0 263.6,96.7 265.9,98.0 267.5,98.8 270.3,99.7 271.9,101.1 273.8,102.0 276.5,101.1 278.5,100.4 280.0,98.8 280.6,100.6 282.8,100.7 285.0,102.5 287.1,105.0 290.0,106.2 291.5,105.5 293.5,105.6 295.4,105.9 297.5,105.0 298.1,107.6 298.9,108.7 300.0,110.5 301.3,113.0 302.2,115.6 305.2,115.4 307.5,117.5 307.1,120.6 306.6,123.3 307.5,125.3 307.3,128.1 308.2,130.9 309.3,134.1 309.6,136.5 310.9,138.7 312.5,140.0 312.0,141.5 310.6,143.3 310.2,145.0 309.3,147.4 307.4,148.4 304.4,149.9 302.6,151.0 299.3,151.5 296.8,152.8 295.0,155.0 292.8,155.7 290.4,156.3 288.9,158.8 286.6,159.9 284.4,161.8 281.9,164.2 279.9,165.1 278.0,166.2 275.0,165.0 272.7,163.6 270.0,163.8 266.7,163.3 265.0,161.2 262.3,160.2 260.5,158.0 260.7,155.1 258.8,152.5 258.4,150.5 256.2,149.9 256.3,147.9 255.0,146.2 252.5,145.8 250.6,144.2 250.0,142.1 250.0,140.0 247.9,139.0 246.4,138.3 245.4,137.2 245.0,135.0 243.5,134.6 242.1,132.9 239.7,131.6 241.2,128.8 239.6,127.1 238.5,125.1 238.2,122.8 236.2,122.5 234.5,120.2 234.3,118.5 233.8,116.2 233.8,114.8 234.4,112.8" fill="#42aac5"/>
<polygon points="309.5,139.5 309.4,142.0 307.2,142.7 304.8,143.7 302.5,143.8 300.4,144.4 298.3,144.2 295.0,143.8 293.0,144.5 291.6,145.3 289.4,145.6 287.5,146.2 285.5,148.1 283.9,149.4 282.5,150.0 283.0,151.5 283.1,153.9 280.4,154.5 279.5,156.2 278.3,159.1 278.7,161.0 280.0,162.5 279.6,164.7 278.0,166.2 278.3,168.0 278.3,169.8 280.0,172.5 281.4,175.3 281.2,177.9 281.2,180.0 282.0,183.3 284.2,183.9 285.0,186.2 286.5,185.2 289.1,184.8 291.0,185.1 292.5,185.0 293.7,187.5 295.0,188.7 297.1,189.1 300.0,188.8 302.2,191.1 303.8,192.9 305.0,193.8 306.5,195.6 306.8,197.9 308.0,199.2 310.0,200.0 310.0,200.0 312.2,200.5 313.9,202.1 315.8,201.9 317.5,202.5 319.8,203.3 320.9,204.8 323.7,204.5 325.0,206.2 327.1,206.7 329.1,208.1 331.2,210.0 332.8,207.6 335.0,208.8 337.3,206.7 339.9,205.9 341.7,204.6 344.7,205.3 347.1,205.3 348.8,203.1 350.0,201.3 352.1,202.4 353.9,201.6 355.5,201.1 357.3,200.4 360.0,200.0 360.0,130.0 310.0,130.0 308.4,132.5 308.5,134.6 309.5,136.9" fill="#44b0c6"/>
<polygon points="262.5,208.2 264.1,209.1 266.2,210.0 265.9,212.3 268.8,213.8 269.5,217.0 268.4,218.5 267.0,220.0 265.0,220.0 262.5,219.5 261.9,217.8 259.5,217.0 260.0,215.1 258.0,213.8 258.1,211.2 260.0,210.5" fill="#f7f3b4"/>
<polygon points="427.5,246.2 427.6,247.9 427.8,250.6 429.6,251.9 430.0,255.0 431.4,256.3 433.3,257.4 435.1,257.8 436.1,259.5 436.2,262.5 437.1,263.9 437.5,266.2 436.1,269.2 433.5,269.5 431.6,269.8 430.0,268.8 431.5,270.9 430.5,272.8 428.8,275.0 429.8,276.9 431.9,277.8 433.8,280.0 434.9,282.1 434.6,283.7 436.7,284.7 437.5,286.2 439.7,287.8 442.7,288.1 444.3,289.5 446.2,288.8 444.8,289.9 443.8,292.5 442.4,294.1 439.9,295.3 438.0,295.9 435.0,296.2 433.7,297.6 431.7,298.0 430.3,301.0 428.1,301.9 425.0,302.5 423.6,304.1 421.4,306.2 420.3,309.0 417.5,310.0 417.7,313.0 417.6,315.7 415.5,316.2 416.3,317.9 417.3,319.9 417.6,321.9 417.5,323.8 419.0,326.3 420.5,327.7 421.7,328.8 424.1,329.3 425.7,330.1 427.6,331.1 428.3,332.4 430.0,335.0 500.0,330.0 540.0,300.0 545.0,250.0 420.0,230.0 420.8,232.6 422.0,234.6 423.5,237.2 425.0,239.5 426.5,242.0 426.7,244.7" fill="#27349a"/>
<polygon points="431.2,380.0 433.1,379.1 433.8,377.5 434.9,375.9 436.9,375.2 437.5,372.5 439.7,372.3 440.9,371.6 441.6,369.8 441.2,367.5 439.5,365.8 438.8,363.8 436.6,361.4 436.7,358.4 435.3,356.7 433.8,356.2 432.2,354.6 430.3,353.5 430.0,352.0 430.0,350.0 428.2,349.0 425.9,347.1 424.1,347.2 422.5,346.2 420.8,343.3 418.5,342.2 417.5,340.0 415.8,338.6 413.8,338.8 415.0,337.5 415.1,334.4 415.8,332.2 417.0,330.0 416.2,326.8 417.5,323.8 417.5,323.8 419.7,322.9 421.4,323.8 422.9,323.6 425.0,322.5 427.9,323.8 430.1,322.7 433.0,323.5 435.0,325.0 436.1,327.3 438.5,327.0 441.2,325.7 443.8,327.5 446.4,326.6 449.8,326.6 450.9,325.1 452.5,322.5 455.0,321.1 456.9,321.6 458.5,319.6 460.0,318.4 462.5,317.5 464.4,316.3 466.7,316.3 468.2,315.6 470.0,315.0 472.0,316.0 474.2,314.9 476.1,314.8 477.5,316.2 479.4,316.7 481.4,318.5 483.4,318.1 485.0,318.8 486.6,321.0 486.6,322.9 489.1,322.3 491.2,323.8 491.7,325.2 494.2,324.2 495.1,321.0 496.9,320.1 499.3,318.9 501.6,319.1 503.4,319.3 505.5,318.5 506.0,316.8 506.6,314.4 507.6,311.8 508.1,308.9 510.1,306.7 510.5,303.8 513.5,302.6 515.6,300.5 517.7,298.4 520.3,297.6 522.7,296.3 524.1,296.8 526.4,296.7 528.3,296.1 529.8,295.6 532.5,296.8 533.8,298.5 535.5,299.5 537.4,301.3 540.0,300.0 539.3,301.5 539.0,303.7 538.5,307.0 537.5,309.4 536.7,311.1 535.8,312.4 537.2,314.7 536.7,316.8 537.8,318.9 539.8,321.0 540.9,322.9 540.4,325.9 539.4,327.6 540.7,329.7 540.5,331.6 539.0,334.1 539.7,336.5 539.4,338.5 540.0,340.0 520.0,400.0 450.0,420.0 449.9,417.8 450.6,415.9 450.0,414.3 449.5,411.7 449.0,408.5 447.1,407.2 445.9,405.2 443.8,405.0 443.9,401.9 442.0,400.1 441.5,398.3 440.1,395.5 437.3,393.8 435.2,391.2 433.5,388.4 433.2,386.4 433.1,384.2 432.1,381.7" fill="#4db6c4"/>
<polygon points="431.2,379.9 433.3,378.9 435.0,378.4 437.4,379.9 439.5,381.5 441.7,380.9 443.8,381.5 446.1,382.3 448.7,381.2 450.0,379.2 451.8,378.5 453.4,377.6 456.7,378.4 457.7,379.6 460.1,380.1 460.0,381.7 461.0,384.1 460.9,386.8 461.8,389.0 464.2,390.1 466.9,389.9 468.9,389.2 470.1,388.4 471.9,387.2 473.3,387.1 475.2,388.0 476.7,387.6 477.8,388.8 479.2,390.1 479.8,387.8 482.6,386.8 482.5,383.8 483.4,381.7 482.6,379.1 482.6,376.7 484.3,376.3 486.8,376.7 488.7,378.0 491.8,379.2 492.9,380.5 495.5,381.2 498.4,381.7 500.7,382.7 502.8,382.0 504.3,383.4 505.9,380.8 508.0,380.1 509.8,379.6 512.6,379.2 514.1,378.9 515.9,377.7 516.4,375.8 518.3,374.7 519.4,372.0 520.0,370.0 519.5,373.1 520.8,375.5 521.9,377.3 522.9,378.7 524.6,380.5 526.6,380.5 527.7,382.6 527.1,384.3 528.8,385.8 529.2,387.8 531.3,387.8 533.7,388.0 535.1,389.6 535.9,392.0 535.1,393.5 535.8,396.1 536.6,397.3 538.5,398.3 540.0,400.0 540.0,401.5 539.0,403.5 537.1,405.8 535.1,406.1 532.0,406.9 529.7,407.2 526.6,408.5 525.3,410.8 524.8,413.3 524.0,414.7 521.2,415.8 520.0,418.0 520.0,420.0 480.0,470.0 440.0,500.0 437.3,498.9 435.4,500.1 434.3,501.7 431.2,503.1 428.7,503.9 427.1,505.5 424.9,506.8 422.4,506.2 419.5,506.8 417.5,507.9 415.8,508.7 413.6,509.3 410.9,508.2 408.6,507.7 406.6,507.0 404.4,507.0 403.3,509.5 400.0,510.0 398.1,509.6 395.8,511.0 393.7,510.5 392.1,512.0 390.0,512.4 388.4,512.2 387.3,509.7 385.4,507.1 383.2,506.1 381.6,506.3 379.1,505.0 377.4,504.0 375.0,505.0 374.0,502.2 372.5,500.0 374.4,498.5 374.4,496.1 376.2,494.5 378.1,494.3 380.0,492.5 381.1,490.2 383.0,488.8 384.4,487.3 385.0,485.0 386.9,482.2 385.5,480.1 387.3,478.8 388.8,477.5 389.2,475.8 388.4,473.9 389.0,471.7 388.8,470.0 388.8,468.1 389.1,466.4 388.3,463.7 387.6,461.2 386.2,460.0 386.6,458.2 386.2,456.2 384.3,455.0 382.5,452.5 384.2,450.5 385.6,449.5 386.2,447.5 388.1,448.1 389.5,449.0 392.5,450.0 395.6,450.8 397.6,451.3 400.0,451.2 401.2,448.8 399.9,447.9 397.9,447.5 395.0,447.5 396.2,445.7 394.4,443.5 393.7,441.6 393.8,440.0 392.7,439.0 391.5,437.2 391.7,434.8 392.5,432.5 393.1,430.6 392.3,429.0 392.5,425.7 393.8,423.8 394.3,420.9 397.5,420.0 399.6,419.2 400.6,417.3 404.0,417.8 406.2,417.5 408.1,415.8 409.9,415.8 412.2,415.0 413.8,415.0 413.5,413.2 414.5,411.3 416.1,408.6 418.8,407.5 417.0,405.4 417.2,403.1 419.2,401.6 420.0,400.0 421.3,398.1 422.9,395.8 422.5,392.5 422.5,390.5 421.6,388.6 423.7,387.4 425.0,385.0 426.0,383.3 427.1,381.9 429.5,380.9 431.2,380.0" fill="#68c1be"/>
<polygon points="531.8,266.0 530.9,267.5 531.0,269.4 528.9,270.0 528.5,272.7 525.8,274.3 525.1,276.9 523.7,278.5 523.0,281.1 523.7,282.3 524.3,284.4 526.2,286.6 527.6,287.8 529.3,290.3 528.5,292.8 526.9,294.2 525.1,294.5 522.6,296.1 522.7,296.3 522.4,298.6 523.5,300.9 524.1,303.3 524.4,304.9 526.1,306.7 527.1,308.9 527.7,311.8 526.5,314.3 526.8,316.2 525.6,318.5 524.7,320.8 524.4,323.5 522.9,325.2 522.7,327.7 522.1,329.6 520.2,331.0 518.1,331.8 516.8,334.4 515.6,336.9 513.5,336.9 511.6,337.0 511.0,339.4 509.1,340.2 507.6,340.2 505.6,340.0 504.3,339.4 502.6,341.1 501.0,342.1 500.1,343.6 497.9,344.4 495.9,345.3 493.7,347.3 491.7,347.8 490.9,349.2 490.0,351.1 488.8,350.4 486.7,350.3 485.2,349.8 483.3,349.4 481.8,349.9 480.0,350.3 479.2,353.4 479.4,355.4 480.1,357.6 480.6,359.6 483.4,360.1 485.8,361.3 488.4,361.7 490.2,363.9 493.4,364.2 492.4,366.9 494.3,368.4 494.5,370.7 496.0,371.6 496.8,373.4 498.8,375.4 500.1,376.7 503.0,376.8 503.4,380.1 503.3,381.5 504.3,383.4 505.0,385.4 506.8,386.8 508.3,388.1 511.0,390.1 512.2,391.5 514.3,391.8 515.4,394.0 516.8,395.1 518.1,396.2 520.1,397.6 521.8,398.4 522.2,400.5 523.8,401.7 523.2,404.5 524.5,407.3 524.2,409.4 525.6,412.3 527.1,414.1 529.5,415.2 528.9,417.4 530.0,420.0 600.0,420.0 600.0,200.0 515.0,200.0 515.0,264.0 516.8,262.8 519.5,264.2 521.3,264.8 522.9,264.0 524.9,263.0 528.2,263.0 529.3,264.5" fill="#3a98c4"/>
<polygon points="526.8,247.8 528.9,249.1 530.6,249.5 532.1,250.6 534.1,250.5 535.2,248.8 537.6,248.6 539.4,247.6 542.4,248.3 543.9,248.1 545.9,247.8 547.4,245.9 548.4,243.8 549.3,241.8 549.7,240.5 550.2,238.4 551.4,235.7 552.1,234.0 550.5,232.2 549.6,230.9 550.3,227.6 551.8,225.4 550.3,223.7 550.2,221.6 548.4,222.0 546.4,221.6 544.7,222.1 542.9,221.7 541.4,222.8 538.8,222.2 536.5,223.8 534.1,223.5 532.1,223.6 529.6,223.7 527.8,222.7 525.1,221.6 524.9,223.6 524.6,225.3 526.1,226.7 526.2,228.6 526.3,231.4 525.6,233.5 524.4,235.9 525.1,238.4 525.1,240.5 527.7,242.1 528.1,244.6" fill="#e4f4b4"/>
<polygon points="571.2,256.8 570.8,260.1 572.3,263.1 570.3,265.2 568.2,266.9 568.7,269.4 567.4,272.3 566.9,274.3 567.3,276.9 567.6,279.9 567.8,282.1 568.0,285.0 568.0,420.0 700.0,420.0 770.0,300.0 770.0,150.0 560.0,150.0" fill="#7ecbbb"/>
<polygon points="624.3,245.9 626.8,245.1 628.6,244.9 630.1,243.4 632.5,244.5 634.4,244.1 636.8,242.6 637.6,244.0 639.5,244.9 641.7,244.9 643.5,243.4 645.7,245.1 648.6,243.5 651.8,242.6 655.1,242.1 656.9,242.0 658.5,241.8 659.2,239.6 661.2,239.2 663.5,238.4 664.5,236.7 665.0,235.2 666.9,233.4 667.9,231.0 669.4,230.2 670.2,228.4 671.8,226.1 673.5,224.3 674.8,223.6 676.3,221.8 678.5,223.4 680.5,222.5 682.3,221.2 685.2,220.1 687.8,219.8 689.5,219.8 691.2,218.6 691.9,216.7 694.7,215.8 696.5,214.1 698.6,213.4 700.3,213.8 702.3,213.0 703.8,212.5 705.2,210.9 707.9,210.0 710.0,210.0 711.9,209.2 713.6,211.7 713.2,214.9 711.9,216.7 712.5,218.2 714.2,219.6 715.4,221.1 715.3,223.4 714.8,225.4 714.4,226.8 711.9,227.4 710.3,228.4 708.1,230.3 705.2,231.8 703.2,233.5 701.1,235.1 700.0,237.0 698.6,238.4 696.9,241.0 696.9,243.1 697.4,244.6 699.1,246.0 700.2,248.5 703.2,249.2 704.0,247.0 704.8,245.6 706.4,245.6 708.2,246.0 710.0,246.2 711.9,246.8 760.0,260.0 770.0,150.0 600.0,150.0 600.0,240.0 602.2,239.5 603.3,240.4 605.1,241.4 606.8,240.4 608.1,239.1 610.4,240.8 612.5,241.5 614.3,242.3 616.3,244.7 619.2,244.4 621.8,244.0" fill="#3a98c4"/>
<polygon points="701.1,245.9 698.9,245.4 698.5,242.8 699.1,240.6 698.6,238.4 696.7,239.8 693.6,240.1 692.7,241.8 691.5,243.3 688.6,243.4 687.1,245.8 684.3,246.4 683.6,248.5 681.7,250.0 680.6,251.1 678.5,253.5 678.2,255.6 678.8,257.0 676.9,258.3 675.2,258.5 673.0,260.9 673.5,263.5 673.2,266.2 671.9,268.5 670.3,269.2 668.3,269.1 666.9,271.8 665.3,274.2 663.5,275.2 660.9,275.6 660.2,278.5 659.8,280.6 658.5,282.7 659.3,284.6 660.2,286.8 661.9,288.5 662.6,290.1 662.6,292.0 665.2,293.5 667.2,293.0 669.8,291.8 672.3,292.0 674.1,291.6 675.0,289.8 677.8,290.7 681.0,290.9 684.1,290.3 686.9,290.2 689.3,288.9 691.2,288.6 692.8,286.1 693.5,284.1 695.6,283.0 696.6,281.0 699.1,280.5 701.8,280.3 703.3,281.7 705.5,279.7 707.6,278.6 710.2,278.4 711.9,276.8 713.7,274.0 713.0,272.1 712.8,270.4 714.8,268.1 715.1,266.0 714.1,262.8 714.4,260.8 714.0,258.4 713.7,256.4 715.0,254.6 713.3,251.8 712.6,248.9 711.9,246.8 709.8,247.5 707.3,248.1 705.4,248.6 703.6,247.5" fill="#cdebb4"/>
<polygon points="686.1,276.7 685.2,278.3 682.8,279.6 680.2,280.0 678.1,281.8 675.2,280.8 673.0,282.3 670.2,282.5 668.7,285.4 667.0,286.0 665.2,286.7 663.1,287.4 661.9,288.4 660.8,289.7 659.4,291.7 659.1,294.6 659.1,296.3 657.7,298.4 655.6,300.9 655.5,302.8 656.0,305.0 654.8,306.3 653.2,307.1 653.1,309.1 654.3,311.7 654.2,313.8 653.4,315.4 653.5,318.4 654.3,320.9 655.2,322.4 656.6,324.2 658.5,326.7 660.6,327.4 662.0,326.5 664.4,326.8 666.4,327.1 667.8,328.0 670.2,328.4 672.2,327.1 673.3,325.6 676.2,325.5 677.8,326.6 679.7,327.9 682.4,329.1 685.1,329.3 687.6,328.2 689.0,326.8 690.5,326.2 692.7,327.4 694.2,327.2 696.3,326.4 698.0,324.8 699.9,325.6 702.0,327.1 703.6,328.4 705.4,326.1 705.8,324.4 705.6,322.6 705.0,320.8 703.3,318.3 702.7,315.8 700.8,314.2 700.1,312.4 699.2,310.8 701.6,308.8 703.3,307.7 704.9,305.3 704.7,303.2 703.7,301.6 702.1,300.2 701.5,297.1 702.0,295.0 702.6,293.4 703.4,292.0 703.6,290.0 701.4,289.0 698.7,287.5 697.1,286.8 695.3,286.2 695.6,283.9 693.9,281.0 692.3,280.6 690.2,280.0 687.1,278.6" fill="#2e7cba"/>
<polygon points="636.8,320.1 638.5,319.7 640.2,318.4 642.5,317.0 645.2,315.1 646.7,314.9 648.5,314.2 649.4,316.5 651.8,316.7 652.5,318.3 653.5,320.1 654.3,320.9 655.7,319.5 658.1,319.5 660.7,319.8 662.7,322.1 665.2,324.0 667.2,324.9 668.6,326.7 670.7,327.2 673.4,327.2 675.7,325.9 677.8,326.9 680.6,327.7 682.8,326.8 684.5,326.5 686.9,325.1 686.9,386.8 636.8,386.8 636.8,333.4 636.0,331.2 636.3,329.7 637.3,327.5 637.0,325.2 636.1,322.5" fill="#2a5aa9"/>
<polygon points="633.5,313.7 633.1,315.3 633.5,317.6 635.2,320.1 635.5,321.6 635.4,323.8 636.0,326.7 637.4,329.6 636.0,332.6 635.4,334.0 634.0,335.5 635.0,338.1 634.5,340.2 635.1,342.0 636.4,343.1 635.2,345.4 637.3,346.5 637.5,348.3 636.8,351.0 636.6,354.4 635.8,356.1 636.1,359.0 635.0,360.8 633.7,362.2 633.4,364.8 633.1,368.2 635.2,370.1 633.6,371.2 632.6,372.9 629.9,371.5 627.6,371.6 624.8,372.0 622.3,372.3 620.2,371.0 618.6,370.8 616.4,371.4 614.7,373.7 612.4,372.5 609.6,373.1 607.5,372.0 605.9,371.5 603.4,370.1 603.4,320.1 606.8,319.4 608.5,317.5 610.4,318.1 612.5,315.5 614.8,314.0 617.4,313.3 619.5,311.9 620.9,312.2 622.9,312.7 624.8,313.7 627.5,313.3 629.7,311.5 631.8,311.3 633.5,310.1 632.9,311.8" fill="#2a56a7"/>
<polygon points="573.7,288.6 574.4,286.9 575.4,285.3 576.8,282.9 575.4,280.2 576.7,279.1 577.9,277.7 580.2,278.5 582.1,276.1 584.9,275.6 587.1,275.6 590.2,275.6 592.1,276.1 594.8,275.2 597.1,276.9 600.1,276.4 602.2,278.1 604.8,278.8 606.3,279.8 608.0,277.7 610.0,276.8 611.4,275.6 613.9,273.8 615.5,272.7 617.4,271.7 618.9,271.0 620.4,271.8 623.0,271.9 623.5,270.1 626.4,271.6 627.9,271.0 630.1,271.0 629.6,272.9 628.5,275.2 629.6,276.5 631.8,276.8 635.2,277.2 636.8,279.3 639.3,281.5 641.8,282.7 643.8,285.2 645.2,286.8 646.0,288.6 646.0,290.2 646.0,290.2 644.4,291.3 643.5,292.5 642.4,295.0 640.3,295.3 638.7,295.9 636.8,296.7 634.2,297.3 632.0,298.5 630.1,298.4 570.1,311.7 570.0,308.5 568.2,307.0 566.8,306.2 566.9,303.6 567.9,302.0 567.9,299.6 567.3,297.9 567.1,295.7 568.9,293.1 569.8,289.9 570.1,286.7 571.8,288.8" fill="#e3f3b3"/>
<polygon points="361.2,507.5 360.6,505.3 360.0,503.8 358.4,502.0 357.8,499.9 356.6,497.8 357.5,495.0 356.0,492.9 355.4,490.6 353.6,488.8 352.5,487.5 349.5,488.4 347.2,487.5 345.3,485.9 343.8,483.8 342.5,482.5 340.0,481.2 338.8,479.5 336.3,478.6 335.4,477.1 335.0,475.0 333.7,472.3 333.6,470.3 332.5,467.5 330.9,465.2 330.4,463.0 330.0,461.2 328.3,461.7 326.5,460.6 324.8,461.5 322.5,462.5 321.2,461.6 318.9,460.9 316.9,459.2 315.0,458.8 313.1,459.1 311.0,459.6 308.2,459.9 305.0,460.0 302.8,458.5 302.2,457.0 301.7,455.2 299.9,455.5 297.5,455.0 296.4,454.0 295.0,452.4 292.4,452.4 291.2,453.8 290.6,455.7 289.0,457.4 287.5,460.0 286.0,461.7 285.3,463.3 285.0,465.5 283.8,467.5 282.7,470.2 281.2,472.1 279.4,472.9 278.8,475.0 277.7,477.0 277.8,478.7 278.6,480.6 277.5,482.5 275.3,483.1 273.6,484.9 272.4,486.5 271.8,488.3 272.5,491.2 272.9,493.1 272.7,494.8 272.0,497.5 269.0,498.3 267.7,499.9 266.5,500.9 264.4,503.5 262.0,505.0 262.0,565.0 264.5,563.5 267.0,563.4 268.6,564.8 270.9,566.0 273.3,565.9 275.0,566.4 277.3,567.6 279.2,567.0 280.8,567.3 283.2,567.0 285.9,568.5 287.9,569.8 290.2,569.0 292.6,568.9 294.9,570.1 297.0,570.4 300.0,570.0 350.0,540.0 351.5,538.1 351.2,536.1 351.5,534.5 353.5,533.4 354.2,531.1 354.7,528.9 355.4,527.4 357.3,526.7 359.2,526.4 360.3,525.0 361.3,523.5 362.3,521.5 362.3,519.9 363.9,518.3 364.3,516.0 366.8,517.2 368.7,516.2 370.0,515.0 369.6,513.4 368.0,511.6 366.0,509.7 363.5,508.1" fill="#80ccbb"/>
<polygon points="185.5,542.2 187.0,540.8 188.7,540.3 190.4,539.3 191.9,538.9 193.8,537.7 196.3,535.5 198.9,534.5 202.0,533.6 203.4,532.1 204.0,530.7 207.3,531.0 209.1,532.6 211.7,531.5 214.2,530.1 215.2,531.3 217.3,532.0 218.9,530.6 220.6,529.4 220.9,526.6 221.9,523.7 220.6,520.7 220.6,518.6 223.2,519.0 225.7,519.2 227.5,521.0 228.8,522.0 230.9,521.2 232.1,520.5 234.9,519.8 237.1,519.6 238.5,520.5 241.0,518.6 241.3,516.4 240.4,514.1 242.0,512.1 243.6,511.6 245.9,511.2 247.4,509.0 250.0,507.8 251.3,505.8 254.4,505.6 255.1,502.6 255.8,501.2 257.0,499.4 258.3,498.2 258.4,496.4 260.0,495.0 262.2,493.0 264.6,492.9 266.2,492.5 267.0,494.7 268.8,495.3 270.6,495.6 272.0,497.5 272.3,499.4 273.0,502.0 271.5,504.3 269.1,505.8 269.3,508.6 269.1,510.9 270.0,512.7 270.4,514.1 271.5,515.7 274.2,516.7 271.5,516.9 270.4,518.6 269.3,521.2 266.6,523.0 268.3,525.1 268.7,527.0 267.9,528.8 266.3,531.5 267.1,533.4 268.5,535.2 267.0,537.9 266.2,539.7 267.2,541.5 264.5,542.7 262.8,544.1 264.6,546.4 266.6,546.6 269.1,547.9 269.3,550.0 269.1,553.0 270.3,556.0 269.8,558.1 271.0,560.1 270.4,562.8 272.0,564.2 272.5,566.8 272.7,569.9 273.9,572.2 274.0,573.8 274.4,576.5 275.9,579.0 276.7,580.3 278.8,581.6 281.2,583.2 282.5,585.2 282.7,587.2 284.2,589.0 285.3,591.3 284.8,594.4 286.5,596.3 286.1,598.0 285.0,600.0 310.0,650.0 260.0,690.0 257.3,689.7 255.0,689.2 253.4,688.8 250.3,689.7 248.2,690.0 245.0,689.9 243.0,687.5 240.6,688.9 238.9,689.4 237.1,689.7 235.3,689.4 232.5,689.5 230.0,690.0 190.0,640.0 187.9,639.0 187.4,637.2 185.1,636.2 183.2,633.9 183.2,630.9 181.9,629.1 179.6,626.6 180.2,624.8 180.4,622.8 180.1,620.5 179.4,618.1 180.5,616.1 181.3,614.7 179.7,612.6 179.6,609.3 179.3,607.7 178.1,606.2 175.8,604.8 174.7,602.6 175.0,600.0 175.5,597.4 176.1,595.7 176.4,593.7 178.2,592.5 178.4,591.0 180.5,589.3 180.4,586.2 181.0,584.9 183.7,583.0 183.6,579.8 184.5,577.5 186.3,576.4 184.8,573.4 185.7,571.9 184.3,569.8 184.8,567.1 185.1,564.9 184.2,561.9 185.9,560.7 187.4,559.4 188.6,557.5 189.3,555.6 189.6,553.7 191.2,551.7 190.6,548.6 188.7,547.0 187.4,545.4 186.2,543.6" fill="#5bbbc0"/>
<polygon points="269.8,558.1 271.4,558.9 272.3,560.6 274.5,559.9 275.5,558.8 277.0,559.4 279.1,560.1 281.9,560.0 283.9,560.7 285.7,560.7 287.7,559.1 289.6,558.1 291.1,558.0 293.0,558.1 294.7,555.6 296.9,556.1 298.5,556.4 301.1,554.3 302.5,553.4 304.9,553.0 306.4,554.0 308.4,554.6 309.5,552.6 311.3,551.7 313.1,549.2 313.8,547.3 314.9,544.5 316.4,542.8 319.3,542.8 320.7,540.9 323.2,540.0 325.7,539.0 328.6,538.0 330.0,536.2 331.5,535.0 334.2,533.6 335.9,533.1 337.5,532.5 339.4,530.7 342.5,530.0 344.7,532.3 347.5,533.8 346.7,531.0 348.0,529.4 348.8,527.5 350.1,526.3 352.5,525.0 355.5,524.1 357.5,522.5 360.7,521.9 362.4,521.2 365.0,521.2 364.8,517.9 366.2,516.2 365.8,514.2 364.1,513.4 361.2,512.5 362.9,510.0 361.2,507.5 363.2,507.6 365.0,507.0 367.2,506.6 368.7,505.2 370.0,504.5 371.1,501.5 372.5,500.0 372.5,500.0 375.1,499.3 376.7,498.4 377.7,497.2 380.0,497.5 382.9,496.6 385.3,497.3 386.5,494.9 389.0,494.1 390.0,492.5 393.3,492.1 395.4,491.9 397.5,490.0 399.1,488.2 400.8,486.2 403.0,485.9 405.0,485.0 407.4,482.7 409.8,482.6 412.3,480.8 414.5,478.6 415.0,476.6 415.0,475.0 417.4,475.5 419.4,474.9 420.7,474.4 422.9,473.8 425.0,472.5 425.7,471.0 427.5,470.0 428.9,471.6 430.4,473.4 433.2,474.7 432.5,477.5 435.8,478.1 437.7,478.7 440.0,480.0 441.9,479.4 443.4,478.7 445.9,476.6 447.5,475.0 449.6,474.6 450.3,472.6 451.8,472.2 453.8,471.2 455.7,472.5 457.8,473.0 459.1,473.5 459.7,475.6 461.2,476.5 463.5,477.7 463.4,480.9 466.1,482.7 467.7,482.8 469.5,482.1 471.5,484.4 472.8,486.7 474.7,487.8 476.2,488.1 478.0,488.5 480.0,490.0 400.0,600.0 350.0,660.0 300.0,660.0 299.2,658.6 297.3,657.9 296.8,655.9 296.2,653.3 294.7,650.6 293.6,648.1 293.7,646.3 291.3,646.1 289.6,646.3 287.7,643.7 288.4,642.1 290.9,641.2 292.3,639.6 293.4,638.6 293.9,636.1 295.3,634.8 296.1,632.5 296.6,631.0 294.8,629.5 292.8,628.4 291.9,626.3 292.1,624.6 289.5,623.8 287.7,622.0 288.0,620.2 287.4,618.4 284.5,618.2 284.0,616.2 282.5,613.7 280.4,613.3 278.1,613.1 275.7,612.7 274.2,615.0 272.6,616.5 270.4,618.2 268.7,618.2 266.6,616.9 265.6,615.3 265.3,613.1 262.2,613.0 260.2,613.7 260.2,615.7 258.9,616.9 257.2,616.2 255.7,615.6 254.6,613.0 254.7,610.7 253.8,609.3 253.0,607.0 252.5,604.2 252.8,601.7 253.2,599.1 251.7,597.1 250.0,595.2 248.5,592.7 249.3,590.1 250.3,592.4 251.9,595.1 251.6,593.3 252.4,591.7 250.0,590.0 249.7,586.8 249.3,584.9 250.7,583.7 252.5,582.4 255.3,581.1 258.3,581.1 257.3,578.9 258.9,577.3 257.4,575.2 257.0,572.2 258.8,570.1 258.3,567.1 258.9,564.3 257.7,563.6 256.4,561.9 258.5,560.1 258.9,558.1 261.1,559.1 264.0,557.5 266.7,557.1" fill="#40b0c5"/>
<polygon points="342.0,624.0 339.8,622.8 337.5,622.8 334.3,623.4 332.5,625.2 330.5,625.0 329.1,626.5 327.0,628.6 325.0,629.0 322.0,628.8 320.4,630.6 317.5,630.2 315.8,631.7 314.2,633.2 311.8,634.0 310.0,634.0 313.0,633.8 314.4,632.6 316.4,632.2 314.4,633.9 312.6,634.8 310.9,637.1 308.7,637.3 305.6,637.6 303.6,638.6 300.6,639.5 298.5,639.9 298.3,641.9 297.2,643.7 294.7,644.1 293.7,646.3 290.9,646.3 289.5,645.1 287.7,644.3 285.8,643.6 284.5,641.8 282.1,640.7 279.4,641.2 277.4,641.7 276.6,643.3 274.2,643.7 273.3,645.5 271.1,647.5 271.8,649.9 270.4,652.6 269.0,654.7 267.9,656.5 267.2,659.7 269.5,660.8 271.7,661.6 273.0,664.1 271.1,665.3 269.1,666.7 267.5,668.6 265.3,667.9 263.5,668.6 261.5,669.2 259.5,670.1 257.8,668.2 256.4,671.1 253.7,672.4 251.3,671.8 250.0,673.2 247.4,674.3 244.6,674.1 242.3,675.0 240.2,673.7 238.5,673.7 236.8,676.0 237.2,678.2 235.3,680.0 234.2,681.1 232.8,682.5 231.8,685.1 229.9,685.8 229.1,688.2 228.0,690.0 245.0,760.0 245.7,762.1 246.2,764.4 248.0,766.9 250.8,767.7 252.9,767.9 255.0,770.1 257.3,772.6 260.5,773.5 262.0,775.0 264.2,777.1 267.0,777.2 269.4,778.5 272.1,780.1 274.6,780.9 275.9,782.4 278.8,781.1 281.9,780.5 284.2,781.2 285.0,782.7 286.7,784.1 289.1,784.1 291.7,783.2 293.1,785.0 295.9,786.9 298.4,787.1 300.0,790.0 360.0,720.0 360.0,630.0 357.6,630.1 355.5,629.5 353.1,628.2 351.5,626.2 349.5,625.7 347.7,626.2 345.0,625.7 343.9,624.9" fill="#70c5bc"/>
<polygon points="199.5,642.4 201.8,643.3 204.0,645.0 206.2,646.4 207.5,648.0 209.1,648.8 210.0,651.8 211.2,652.9 212.9,653.9 215.7,655.7 217.2,656.8 216.8,659.0 217.7,661.0 218.7,662.2 221.9,662.8 222.4,664.2 223.7,665.9 227.0,665.4 227.7,667.0 228.4,668.6 230.7,669.0 232.1,667.9 233.5,669.8 235.9,671.8 238.5,673.7 237.1,675.8 234.7,676.9 235.9,678.4 237.2,679.4 239.7,680.8 241.0,682.0 240.6,684.1 239.8,685.8 240.8,687.5 243.6,688.4 245.2,690.9 246.1,693.3 247.9,694.7 248.5,696.8 249.4,697.8 249.5,699.5 250.0,701.5 249.8,703.9 248.9,706.1 250.0,707.8 251.7,708.8 252.6,710.2 253.9,711.0 256.2,711.5 257.4,712.9 260.0,714.0 260.6,715.6 259.9,718.0 259.3,719.5 258.8,721.5 258.0,724.3 258.3,726.1 260.0,729.0 261.5,729.9 262.5,731.5 262.0,733.3 263.3,735.5 262.2,737.8 260.0,739.0 260.0,741.4 260.5,743.6 258.8,746.5 259.1,748.1 258.4,750.3 259.9,752.3 260.0,754.0 258.3,756.1 259.2,759.2 258.4,761.3 257.5,762.8 256.6,764.8 256.5,767.3 254.7,767.7 253.3,768.5 253.4,770.9 251.7,772.4 250.0,775.0 200.0,720.0 190.0,640.0 192.1,640.5 195.4,640.2 197.4,642.1" fill="#2b58a8"/>
<polygon points="169.5,560.4 171.9,561.3 174.6,561.3 176.9,560.6 178.5,561.5 181.0,562.2 182.5,562.1 184.5,561.7 185.6,564.3 185.1,567.1 185.8,568.7 186.5,571.0 184.8,573.4 184.6,576.0 184.5,578.4 183.6,579.8 183.6,581.5 182.8,583.2 181.0,584.9 180.4,586.4 178.2,586.7 175.6,585.6 172.7,586.6 170.8,587.5 171.1,584.7 170.7,582.7 170.5,580.2 170.6,578.3 170.2,576.1 169.0,574.8 167.4,573.3 168.5,571.0 168.3,569.3 167.3,567.6 167.2,565.0 165.5,563.6 164.4,561.9 166.7,560.3" fill="#bde5b5"/>
<polyline points="199.5,37.5 201.2,36.5 203.3,38.0 205.5,39.6 207.5,40.0 209.1,41.3 210.8,40.8 213.1,40.7 214.6,41.7 215.9,42.8 217.5,45.0 218.7,46.5 220.8,47.1 222.5,49.1 223.3,51.0 225.0,53.8 226.9,56.2 227.9,58.4 230.5,60.3 232.5,61.2 234.1,63.2 235.7,64.6 236.7,67.1 238.4,68.5 240.0,68.8 242.3,70.6 243.9,73.3 245.7,74.9 247.5,77.5 249.2,79.0 251.0,78.9 252.3,81.0 255.0,82.5 257.6,82.3 258.9,84.1 260.6,86.1 262.5,86.2" fill="none" stroke="#ffffff" stroke-opacity="0.7" stroke-width="0.9"/>
</g>
</g>
<g transform="translate(730.5,2.5) scale(0.9775,0.9786)">
<clipPath id="clipR"><polygon points="176.2,-1.2 177.8,-4.2 177.9,-7.2 178.8,-8.7 179.4,-10.7 178.1,-12.4 176.2,-15.0 244.5,-15.0 243.5,-12.2 243.5,-9.8 243.1,-7.5 243.9,-5.0 244.6,-3.2 244.5,-1.2 245.7,0.1 245.8,2.5 246.3,5.8 244.8,8.6 245.5,11.2 248.0,13.3 250.2,13.8 251.7,15.1 251.9,18.4 253.8,20.0 255.5,21.4 258.6,21.8 259.0,23.5 260.0,26.2 261.0,28.3 262.2,30.3 263.9,32.2 263.8,35.0 265.5,35.5 267.0,36.1 268.0,37.4 270.0,38.0 270.7,36.2 271.1,33.3 273.3,32.1 275.0,31.2 275.9,30.0 278.0,29.1 279.6,29.1 281.9,30.3 283.1,27.9 285.0,26.2 286.9,27.4 290.2,26.9 292.3,26.9 294.4,26.6 295.7,24.6 297.5,23.8 299.6,23.0 301.1,21.6 304.0,21.5 305.8,20.5 307.5,21.2 309.5,20.0 310.7,17.6 313.3,16.4 315.5,16.2 316.6,18.0 318.8,17.8 320.7,19.5 323.3,18.8 325.0,18.0 326.7,19.2 329.0,20.6 330.8,21.2 332.3,21.6 335.0,22.0 336.5,23.3 337.4,25.6 338.8,27.8 338.8,30.0 340.1,31.7 339.8,34.3 337.9,35.2 336.9,36.6 337.4,39.0 337.0,41.2 334.7,43.7 335.1,47.1 332.9,47.5 331.2,48.8 329.8,51.0 328.9,53.3 326.3,54.6 325.0,56.2 324.5,59.6 323.8,62.6 321.2,63.8 320.1,65.4 318.4,66.8 316.2,68.8 314.0,68.3 311.0,69.0 310.6,71.6 307.5,73.0 306.9,74.4 305.4,76.0 306.4,78.9 308.0,79.9 308.0,82.5 308.9,84.7 310.8,85.8 310.4,88.0 312.8,88.3 313.8,91.2 314.4,93.5 315.5,94.8 316.1,97.3 318.3,99.5 321.2,100.0 319.0,100.4 318.2,102.8 318.5,104.8 319.5,106.2 317.5,106.9 316.4,107.8 314.8,110.6 312.5,111.2 310.6,111.2 308.6,111.5 306.2,112.5 304.7,109.5 302.9,108.6 301.2,108.8 299.7,105.9 297.5,105.0 298.0,107.6 297.9,109.8 298.7,111.3 298.8,113.8 301.0,114.6 301.9,116.2 303.2,119.0 303.0,121.2 303.9,123.1 305.0,125.6 302.9,127.6 303.8,130.0 303.8,133.0 305.6,134.1 305.5,137.5 307.1,139.5 309.5,139.5 312.5,140.0 313.1,141.8 314.3,143.3 315.2,145.4 317.5,147.5 319.7,149.8 321.3,151.1 322.7,152.6 325.0,153.0 327.0,153.8 330.3,154.4 333.3,155.9 336.2,157.0 338.1,158.8 339.1,160.5 338.8,163.8 340.8,165.2 343.0,167.5 345.4,168.9 347.5,170.0 347.7,171.6 348.3,173.8 350.2,175.1 351.2,176.2 349.5,177.3 348.7,179.5 347.5,182.5 345.1,183.5 344.1,185.4 343.0,187.6 343.1,189.4 342.0,191.2 341.0,194.4 339.9,196.7 339.5,198.7 337.5,200.0 339.5,197.5 338.4,200.2 338.1,201.9 338.1,204.3 335.8,206.7 335.0,208.8 336.7,209.1 338.3,209.7 341.3,210.7 343.6,211.7 345.0,214.5 348.0,215.9 349.1,218.5 351.6,219.2 353.7,219.8 355.0,220.0 358.1,221.3 360.1,222.5 361.5,224.2 363.1,224.3 365.0,225.5 366.0,228.3 367.7,230.6 370.3,232.5 372.1,233.4 375.0,233.8 377.9,233.8 380.5,234.5 382.7,234.7 385.0,236.2 388.0,237.6 390.9,238.6 392.6,240.0 395.0,241.2 397.0,242.1 399.6,243.8 402.3,244.7 405.0,245.0 407.9,244.9 409.5,246.0 411.3,246.9 412.4,248.0 415.3,247.7 417.5,246.2 419.2,245.6 421.5,245.5 423.5,246.1 426.2,245.8 429.4,244.9 431.2,243.8 433.5,245.0 435.4,246.0 437.5,246.2 439.8,247.9 441.7,248.3 443.8,250.0 445.1,252.2 447.3,253.3 447.5,255.8 447.5,258.0 449.9,259.3 451.9,261.0 453.6,260.5 455.5,261.0 457.5,261.8 460.5,260.9 463.4,261.2 465.4,260.0 467.5,260.5 468.1,262.8 470.4,263.9 472.8,263.5 475.0,265.0 476.7,264.7 479.0,265.5 481.2,266.8 482.9,267.7 485.0,266.8 487.0,268.1 489.3,268.2 490.9,268.4 493.0,268.4 495.0,266.8 497.2,266.6 498.7,267.6 501.3,266.1 503.6,267.4 505.0,269.2 506.4,267.2 508.5,266.6 510.4,266.8 512.5,267.5 514.5,265.5 517.1,264.9 519.8,264.7 522.5,266.8 523.9,266.0 526.0,265.0 528.3,265.7 531.2,265.5 531.8,266.0 531.0,263.5 531.7,261.3 530.6,259.3 530.7,256.8 530.1,255.1 529.0,253.3 528.5,250.9 528.8,249.0 526.6,247.8 525.4,244.8 526.8,242.6 527.4,240.4 527.0,238.4 527.2,235.0 526.9,232.1 528.6,230.8 528.5,228.3 529.4,226.5 530.5,225.6 532.2,224.5 533.5,223.3 535.2,223.2 537.6,223.2 540.2,222.0 542.2,224.2 544.3,225.0 544.1,226.8 545.2,229.4 545.0,231.7 545.2,233.4 546.1,236.0 545.9,238.4 545.6,240.8 545.9,242.4 547.6,243.6 546.3,245.9 545.9,247.6 547.1,249.1 546.5,251.8 548.3,252.2 550.2,253.4 551.4,254.6 553.6,255.1 556.4,254.8 558.6,254.7 561.2,255.7 563.6,256.0 565.9,257.2 568.7,257.6 570.8,258.9 571.2,256.8 572.8,255.6 575.4,256.0 578.3,255.2 579.5,253.4 580.9,252.5 582.9,251.8 585.4,252.6 587.5,253.1 590.4,253.4 593.5,252.4 596.3,253.0 598.9,252.3 601.1,252.2 603.0,252.2 605.7,253.0 606.9,252.0 608.9,251.4 612.0,250.6 614.1,250.8 615.5,250.1 617.1,250.3 618.9,248.8 621.8,248.5 622.3,247.0 624.3,245.9 622.9,243.7 623.5,241.8 623.5,239.5 621.8,236.8 621.1,234.8 618.5,233.4 615.7,232.6 614.1,232.1 611.8,231.8 610.3,230.5 610.1,228.4 609.2,226.6 611.0,225.1 613.8,225.7 616.8,225.1 619.7,223.6 621.5,223.7 623.5,222.6 626.0,221.3 628.5,220.9 630.2,220.4 632.0,220.1 632.9,218.4 635.2,216.7 635.6,214.7 636.0,213.4 638.0,210.7 639.7,209.4 641.8,210.1 641.0,208.2 642.3,206.5 644.2,205.7 646.8,205.1 648.0,202.6 648.5,200.9 651.4,199.8 653.5,198.4 655.5,198.2 657.2,197.6 660.3,197.9 660.2,195.0 663.1,194.5 664.2,192.0 666.8,191.8 668.5,190.9 671.5,189.3 671.0,187.9 671.0,185.9 671.5,184.1 673.3,182.9 675.2,180.9 677.1,182.1 680.2,181.7 682.9,181.0 685.2,180.9 687.3,181.4 688.7,182.1 691.9,181.7 693.8,179.3 696.9,178.4 697.9,176.5 698.5,174.8 700.7,174.1 702.7,173.4 705.0,172.2 707.0,172.3 709.4,170.8 712.2,171.1 713.6,172.5 715.1,174.7 716.1,176.7 717.2,178.6 720.3,180.0 721.8,182.6 723.0,183.9 724.4,185.0 722.7,186.8 722.8,190.0 724.7,190.0 726.9,190.0 728.9,192.0 731.1,193.4 732.6,194.6 734.2,195.9 737.0,195.9 739.7,197.5 741.5,197.9 742.8,199.2 744.7,200.4 745.6,201.6 746.1,204.2 745.1,206.6 743.6,208.4 742.1,209.9 740.3,211.7 738.2,214.1 737.0,216.7 739.1,217.8 741.0,218.6 740.3,220.3 741.1,222.6 743.0,224.8 744.5,227.6 743.1,228.2 741.1,228.4 739.7,226.5 738.9,225.3 736.1,223.4 733.0,222.7 731.9,220.4 729.9,222.8 726.9,224.3 724.4,224.3 722.4,224.7 720.3,226.8 718.5,227.0 716.9,227.0 716.3,229.4 715.3,230.9 714.2,231.7 712.3,233.0 710.3,235.1 709.2,237.1 708.2,238.3 706.7,239.1 705.2,240.1 704.6,242.1 705.4,243.7 703.5,246.1 701.1,245.9 699.4,246.8 701.1,249.7 699.5,251.2 698.9,253.5 698.7,256.6 698.6,258.4 698.2,260.1 698.0,263.3 697.3,265.2 696.9,268.5 696.5,271.4 694.9,274.3 692.4,276.2 690.2,278.5 688.7,278.2 686.9,276.8 686.1,276.7 686.2,278.5 686.6,280.9 688.6,283.4 689.8,286.2 690.3,289.3 692.7,290.0 690.8,292.8 691.4,295.0 691.1,296.7 690.6,300.1 689.3,302.1 688.6,303.4 687.1,305.9 687.0,308.4 686.9,310.1 686.0,312.6 686.3,314.5 684.8,316.6 684.4,318.4 683.5,321.2 682.7,324.2 680.7,323.8 678.5,323.4 676.7,322.7 674.4,321.3 671.4,321.4 670.2,323.4 667.1,322.5 665.2,321.7 662.7,322.1 663.1,325.3 663.5,328.4 663.3,331.2 665.1,333.0 665.9,334.7 664.4,336.8 664.4,339.6 663.4,341.9 664.4,343.4 665.1,346.3 663.5,347.7 663.5,350.1 661.0,350.1 659.5,353.0 660.3,354.7 661.0,356.8 662.9,359.3 660.9,361.4 661.0,363.2 661.9,365.1 663.7,367.9 662.7,370.1 661.8,371.8 660.7,374.3 658.5,376.8 656.0,378.1 653.5,378.5 651.4,377.2 649.3,376.8 647.9,375.0 647.7,371.8 648.4,369.1 646.5,366.8 646.3,365.4 646.0,363.5 645.0,361.7 646.3,359.5 646.0,357.3 643.5,355.1 642.0,353.9 641.1,352.0 639.7,349.6 641.0,346.8 643.2,344.4 642.1,342.1 641.1,340.4 639.3,340.1 639.0,337.6 639.4,335.9 637.7,333.4 636.0,332.6 634.1,334.5 631.0,334.3 631.2,336.1 631.4,338.2 629.3,340.1 629.0,342.5 626.8,345.1 626.0,347.7 628.0,349.3 626.6,350.7 625.1,351.8 624.3,353.5 622.6,355.1 620.3,354.1 618.5,352.6 616.8,352.0 615.1,350.1 616.3,347.2 614.8,346.7 613.5,345.1 612.1,342.0 611.7,339.5 610.1,338.4 610.4,336.4 611.0,333.4 611.1,331.0 612.4,329.9 613.5,328.4 615.2,326.0 618.5,325.9 619.1,324.5 619.4,322.6 621.8,321.7 624.5,320.9 626.8,318.4 628.8,316.8 630.3,315.9 631.8,315.1 633.5,313.4 633.5,310.1 634.1,308.4 634.7,306.6 634.3,303.4 635.8,302.0 636.8,300.9 636.5,299.1 636.0,297.5 633.3,296.4 630.1,295.9 628.0,295.1 626.4,295.6 624.6,295.8 621.8,295.9 618.7,296.3 616.0,296.8 613.6,296.4 611.8,296.3 610.1,296.7 608.8,298.1 606.7,298.0 604.0,299.3 601.8,298.7 600.8,297.7 598.4,297.5 595.6,297.2 592.3,296.6 590.0,297.1 586.8,296.7 583.9,295.8 581.7,294.3 578.3,294.8 575.1,294.2 574.5,292.3 573.4,290.0 573.7,288.6 574.4,286.9 573.0,284.5 572.8,282.3 572.5,279.5 571.6,277.3 570.8,275.9 570.2,273.5 568.2,271.9 567.6,274.3 566.6,276.1 563.6,276.5 560.3,276.1 557.8,274.4 555.3,272.7 554.6,270.7 553.6,269.4 551.5,267.3 549.4,266.0 550.0,267.9 550.2,269.4 551.1,271.0 548.6,270.6 546.1,269.4 545.1,267.8 543.5,266.8 541.8,264.9 540.2,264.3 539.1,262.8 536.8,262.7 535.2,263.5 535.8,265.5 536.8,266.8 538.5,268.1 536.0,269.4 534.3,271.0 533.5,273.5 532.8,275.0 531.0,276.9 529.8,278.2 529.7,280.2 530.1,283.6 532.7,284.8 535.2,286.1 536.2,287.6 537.7,288.6 539.3,289.9 540.2,291.1 542.0,292.5 543.5,292.4 545.6,292.1 547.7,292.0 548.3,293.9 549.4,295.3 550.6,296.1 551.9,298.0 552.0,298.4 550.0,298.7 548.7,299.2 545.3,298.8 542.0,299.2 540.9,300.5 540.3,302.6 539.9,304.0 539.4,305.9 538.8,307.7 537.8,309.3 535.3,308.0 533.2,308.8 531.9,311.8 532.8,314.1 530.7,315.1 531.1,317.6 532.5,318.5 534.4,319.7 536.6,321.0 538.6,322.2 539.6,324.0 541.4,324.3 543.6,324.3 545.7,325.2 547.8,326.0 548.2,329.4 548.2,331.8 548.7,333.5 546.6,336.1 546.0,337.5 545.3,339.4 546.4,341.2 547.0,342.8 548.1,344.4 549.5,346.1 550.9,347.6 550.8,349.4 552.9,351.3 552.8,353.6 554.5,356.1 554.9,358.0 555.2,358.4 556.2,361.3 556.8,363.4 556.2,365.1 556.3,366.8 556.0,370.1 557.8,371.3 558.9,372.6 556.9,374.7 557.7,376.7 557.5,378.9 558.0,380.5 559.4,383.4 558.5,385.8 560.5,387.1 560.2,390.1 560.8,391.9 561.7,393.4 561.0,395.9 559.1,395.1 558.4,393.5 560.2,390.9 561.0,392.9 561.2,394.3 559.9,395.7 558.9,397.1 559.6,395.7 560.1,393.2 558.9,391.8 557.5,389.3 556.1,391.3 556.2,393.1 555.0,395.8 555.8,398.1 555.9,395.6 554.9,394.4 554.3,392.3 554.1,390.1 554.2,388.4 553.1,390.4 552.8,393.6 552.5,395.8 552.5,398.4 551.8,396.3 552.2,394.2 550.8,392.1 550.8,389.3 549.5,391.7 548.4,393.4 548.4,395.7 548.8,398.8 548.8,396.8 548.9,394.0 547.5,392.7 546.8,390.1 545.3,391.6 545.0,393.8 544.2,396.4 544.8,398.1 543.8,395.9 542.5,395.0 541.2,392.7 542.8,390.9 542.0,392.8 541.4,394.4 540.8,397.6 539.4,395.5 537.9,394.9 538.3,392.8 538.5,390.9 537.3,393.9 536.8,397.1 535.9,395.2 535.2,393.6 535.2,390.9 533.4,392.3 531.8,393.4 529.0,395.0 526.8,395.9 525.1,397.4 523.3,398.1 521.8,398.4 520.3,399.7 518.5,400.1 515.9,401.1 513.5,403.4 512.0,404.3 509.9,404.8 508.5,406.8 506.7,409.1 506.8,411.8 508.8,412.6 509.2,415.2 508.9,417.3 507.6,418.5 508.0,420.2 509.5,421.9 510.1,424.3 507.1,425.3 506.8,428.5 505.4,430.2 504.3,431.8 504.5,433.2 505.1,435.2 502.7,437.2 501.8,440.2 499.5,442.6 498.0,443.5 496.8,445.2 496.4,447.5 493.7,449.2 492.4,448.4 490.1,448.5 487.2,449.3 484.1,449.6 483.4,451.8 481.5,453.0 479.6,452.2 478.3,453.8 476.7,455.0 475.0,457.5 474.1,459.0 473.0,460.4 471.1,460.2 469.6,461.5 466.8,462.3 465.0,465.0 463.0,465.6 461.8,466.3 459.6,467.6 457.5,468.8 455.0,470.0 452.5,470.3 451.3,471.5 450.6,473.1 450.0,475.0 449.8,477.0 448.7,478.8 448.3,481.1 445.7,481.1 444.5,483.6 442.5,485.0 440.8,486.2 439.5,487.8 439.4,489.8 438.0,492.6 435.8,494.8 432.5,495.0 430.5,496.9 429.0,497.5 427.4,498.8 426.3,500.6 425.0,503.0 425.0,501.2 423.2,501.6 421.3,502.0 419.4,503.0 419.0,504.7 416.4,505.8 415.0,507.5 412.3,508.4 410.6,509.7 408.8,509.8 406.7,512.2 405.0,515.0 402.8,517.4 401.1,518.7 400.6,521.2 397.5,522.5 396.5,524.1 396.6,526.5 395.4,529.2 392.5,530.0 393.6,531.3 395.1,532.9 394.7,535.5 393.8,537.5 392.6,540.2 391.7,541.9 389.2,543.7 386.6,543.8 385.0,545.0 383.2,544.1 380.8,544.6 378.2,546.3 375.0,547.5 372.6,549.3 369.4,549.6 367.3,550.3 365.0,552.5 365.0,554.7 364.1,556.5 362.8,558.5 360.0,560.0 357.1,560.1 356.4,562.0 355.0,563.8 353.3,562.8 351.6,562.7 350.0,562.6 347.5,562.5 345.5,564.6 344.5,566.2 342.6,567.2 340.0,567.5 339.0,570.2 339.1,572.2 338.2,573.9 336.2,575.0 336.4,577.5 336.5,579.5 336.4,581.1 336.7,583.1 335.0,585.0 335.7,587.0 336.0,588.5 336.4,590.8 336.1,592.9 336.2,595.0 335.5,597.2 334.5,598.9 335.4,600.8 336.1,603.1 337.5,605.0 337.5,607.1 337.0,610.2 338.8,612.7 340.0,615.0 340.9,617.0 342.3,617.9 340.8,619.2 340.1,621.2 341.1,622.9 341.2,625.0 341.4,627.1 340.8,628.5 341.7,630.7 342.5,632.5 341.7,630.1 341.0,628.5 341.4,626.7 342.0,624.0 341.3,625.7 341.5,628.6 341.0,631.7 340.0,634.0 337.1,634.9 337.8,637.5 337.5,639.2 338.5,641.7 337.8,644.1 336.2,646.5 334.1,645.7 332.6,647.0 332.2,649.1 331.3,651.4 331.8,653.7 331.2,656.5 330.0,658.5 330.2,660.6 328.1,662.6 326.2,664.0 326.5,666.6 324.4,668.4 325.0,670.2 326.9,672.5 328.8,674.0 328.1,675.5 327.4,677.3 326.8,679.8 327.1,682.1 327.5,684.0 326.2,686.7 327.0,688.0 326.8,690.1 329.3,691.6 330.0,694.0 331.3,696.1 331.6,697.8 331.7,699.9 330.4,702.6 329.1,704.0 329.6,706.7 330.1,708.3 330.0,710.2 327.9,710.6 325.7,711.9 322.5,711.5 319.9,713.2 318.1,713.9 317.4,715.8 315.0,716.5 315.2,719.0 313.7,720.4 313.2,722.2 311.0,723.6 310.0,725.2 308.8,726.5 306.5,728.1 305.7,729.9 305.0,732.8 307.8,734.4 310.0,736.5 313.2,736.6 316.2,737.8 315.0,740.2 313.2,739.6 311.4,740.4 309.1,740.3 306.8,740.2 305.0,740.2 303.1,741.4 301.4,742.0 299.1,742.9 297.6,743.5 295.0,744.0 294.7,746.4 292.7,747.9 291.2,747.9 289.3,748.1 287.5,750.2 285.2,752.4 283.3,754.4 282.0,756.9 283.8,759.0 283.4,761.1 281.7,763.6 280.0,764.3 277.5,765.2 274.7,766.1 273.9,767.9 271.5,768.4 270.0,769.0 267.7,768.2 265.6,768.3 262.5,767.8 260.6,767.0 259.9,764.6 258.7,763.0 256.2,762.8 254.3,761.7 252.2,761.6 252.0,759.0 250.0,756.5 249.1,754.8 248.1,753.1 246.9,750.6 245.3,750.7 243.6,749.2 242.5,746.5 242.5,743.3 241.5,740.8 242.0,739.2 240.5,737.3 238.5,735.0 236.2,734.0 235.5,732.7 235.6,730.5 236.8,728.1 236.8,725.8 236.4,723.8 234.9,721.8 232.5,721.5 232.1,719.1 230.3,718.4 229.6,716.2 228.6,715.1 228.5,712.0 228.8,709.0 227.3,707.4 226.0,706.7 225.2,704.2 224.5,702.4 225.3,701.1 225.8,698.9 225.0,696.5 224.6,693.9 224.0,690.5 222.1,689.6 220.1,688.3 220.1,686.1 220.0,684.0 219.4,682.1 218.6,680.4 217.2,678.5 215.4,678.2 215.1,676.0 214.8,674.4 213.8,671.5 211.8,670.0 209.6,668.2 209.6,665.3 208.5,662.9 207.5,661.5 206.3,660.2 205.8,658.5 204.5,656.8 203.5,653.9 202.5,651.5 201.1,649.1 201.3,646.0 199.6,645.3 198.8,642.8 195.9,642.0 196.2,639.9 195.6,638.6 194.0,636.6 195.0,634.0 192.1,632.5 191.8,631.0 191.5,628.9 191.0,626.3 192.5,624.0 191.9,622.0 191.6,620.7 193.3,618.3 191.3,616.6 190.0,614.0 190.6,611.3 188.8,609.0 188.1,606.9 187.2,605.8 185.2,603.5 184.7,600.2 185.0,597.5 184.6,595.2 185.4,593.4 184.9,591.7 184.4,590.2 182.5,588.8 181.7,586.4 181.2,585.0 181.6,582.3 179.5,580.0 178.1,577.5 177.4,575.9 176.3,574.6 176.1,571.8 175.4,569.7 175.0,567.5 174.9,564.8 172.4,563.0 171.2,560.0 169.2,557.8 168.1,556.6 167.4,554.9 167.8,553.0 167.5,550.0 166.8,547.1 164.8,547.0 163.8,545.2 164.2,542.9 164.5,541.4 164.4,539.5 163.8,537.5 164.6,536.0 164.7,533.8 163.5,531.4 163.2,529.2 162.7,527.6 162.6,524.5 160.0,525.0 160.3,521.9 159.1,520.2 156.9,519.1 155.8,516.6 157.3,515.1 156.2,512.5 154.1,509.9 154.2,507.6 154.2,505.8 153.4,502.7 153.8,500.0 153.4,497.7 151.8,494.8 151.7,492.5 153.0,490.9 153.5,488.7 152.5,487.5 154.8,485.4 154.2,482.4 152.7,480.5 152.0,479.1 151.4,477.6 151.2,475.0 152.0,472.2 151.2,470.0 151.6,467.2 151.4,464.7 152.7,463.5 150.3,462.2 150.0,460.0 150.1,457.6 150.5,455.5 149.3,453.8 149.9,451.9 148.8,450.0 148.8,450.0 149.6,447.6 149.1,445.3 147.5,442.5 147.6,440.0 148.4,438.6 150.0,436.2 151.5,433.3 151.2,431.7 152.5,430.0 149.9,428.1 149.4,425.1 148.9,422.7 150.0,420.0 149.3,417.5 149.1,414.9 147.2,412.9 147.5,410.0 148.0,406.7 147.9,404.5 146.6,402.2 146.2,400.0 145.7,397.6 143.7,395.9 143.5,394.0 143.8,392.5 145.1,389.9 145.5,387.7 145.0,386.2 148.1,385.1 150.0,383.8 147.7,383.3 145.0,382.5 143.6,384.0 141.2,385.0 141.2,386.5 140.9,388.7 140.0,390.3 138.8,392.5 139.8,394.6 139.5,397.2 139.9,399.1 137.5,400.0 138.7,402.2 137.8,404.5 135.0,406.2 134.3,409.4 132.8,410.9 130.0,411.1 127.5,412.5 125.3,412.9 123.2,414.8 121.8,416.5 120.0,417.5 117.8,418.4 115.5,420.3 112.3,419.8 110.0,421.2 107.2,422.4 104.6,423.1 102.5,422.8 100.0,422.0 97.5,421.5 95.4,420.5 94.3,418.4 92.5,417.5 90.1,415.9 88.2,414.1 86.6,413.4 85.0,411.2 84.0,408.5 83.4,406.7 82.2,404.6 80.8,403.1 77.5,402.5 78.1,399.4 77.3,397.3 75.7,396.5 73.7,396.4 71.9,395.6 72.3,393.6 70.0,392.5 67.5,391.2 67.1,387.9 66.8,386.3 66.7,384.5 64.8,383.6 62.5,382.5 61.9,380.2 60.0,378.9 58.6,377.9 57.5,376.2 58.2,374.9 60.0,373.8 62.1,373.1 63.6,373.1 65.6,373.2 66.8,375.0 70.0,375.0 72.6,373.8 75.3,372.8 77.5,372.2 80.0,372.5 81.2,371.5 83.2,370.4 84.3,368.1 87.5,367.5 89.1,366.6 91.1,364.7 93.1,363.2 95.0,361.2 96.1,359.5 96.7,358.3 98.4,358.0 100.0,356.2 98.0,354.5 95.0,355.0 93.0,354.6 91.1,356.6 89.7,358.6 87.5,358.8 85.7,358.3 83.2,359.3 81.0,360.6 80.0,362.5 77.9,363.6 76.3,363.1 74.0,362.8 72.5,363.8 70.0,362.7 67.2,361.7 64.8,360.8 62.5,360.0 62.5,358.7 61.6,356.7 59.2,355.5 57.0,353.7 55.0,353.8 53.4,352.1 52.8,350.4 51.2,347.9 50.0,346.2 48.1,345.3 47.4,343.1 47.5,340.0 46.6,338.4 48.0,336.5 45.6,335.1 43.0,334.2 45.0,331.8 47.2,330.6 49.2,331.9 52.5,332.5 55.1,331.1 57.7,331.4 59.6,331.8 60.8,333.2 63.1,331.1 64.8,329.8 63.2,327.9 62.5,325.0 64.7,325.5 66.6,325.0 68.9,322.8 70.8,325.0 72.5,324.6 75.0,325.0 77.4,324.2 79.1,323.1 81.3,323.1 82.1,325.4 84.6,324.7 87.5,325.0 89.2,325.4 91.3,325.8 94.1,326.2 97.2,326.3 100.0,326.2 102.4,325.1 103.5,327.1 106.0,326.5 107.8,324.6 110.0,323.8 110.6,321.5 110.6,319.9 112.5,317.5 112.5,316.2 111.5,314.3 110.4,313.4 107.9,311.3 106.7,308.6 106.4,306.3 107.5,305.0 106.3,302.6 104.4,300.5 104.2,299.0 104.3,297.0 104.1,294.8 105.0,292.5 103.6,290.2 103.3,288.0 102.5,286.2 100.7,284.7 99.7,283.6 97.0,282.9 95.0,282.5 95.8,280.7 94.5,278.1 93.7,276.9 92.5,275.0 91.9,272.7 90.9,269.7 91.7,266.5 93.8,265.0 91.0,263.2 90.1,261.6 87.5,261.2 85.3,259.2 83.4,258.9 81.2,257.5 81.2,255.1 81.1,253.6 80.0,251.2 80.5,249.8 82.5,248.7 84.0,245.8 85.0,243.8 86.7,242.2 88.9,240.5 90.8,239.0 92.5,237.5 94.0,235.7 94.2,233.4 96.5,233.0 95.6,230.8 96.2,228.8 97.8,228.3 99.6,227.7 101.0,226.6 102.5,224.5 105.5,224.5 107.5,225.0 108.5,226.6 110.5,228.4 111.2,231.2 113.1,230.1 115.1,230.2 117.1,230.7 120.0,230.0 121.5,229.6 123.4,229.7 125.2,231.1 127.1,229.3 130.0,228.8 132.5,227.8 133.9,226.4 136.7,226.7 138.8,226.2 139.0,224.4 140.3,223.1 142.4,222.2 142.5,220.0 144.2,217.3 146.5,217.0 148.3,215.2 150.2,213.3 150.0,210.0 151.9,208.6 155.3,208.0 156.7,205.5 157.5,203.8 159.1,202.6 160.5,202.0 162.8,200.2 165.0,198.8 167.8,197.3 169.2,195.1 170.7,193.9 172.5,191.5 172.4,189.2 172.5,187.5 172.5,184.2 174.9,183.0 176.4,182.2 176.9,179.8 177.5,177.5 179.2,177.4 181.1,176.8 183.5,176.0 185.0,173.8 186.7,173.8 188.8,172.5 188.8,175.0 187.7,172.4 188.9,170.3 190.5,170.0 190.1,166.7 189.7,164.3 192.5,162.5 194.3,161.2 194.7,159.8 197.9,159.1 197.8,157.2 198.7,155.3 200.0,153.0 202.1,152.2 202.3,149.8 204.8,147.4 205.8,144.3 204.5,142.5 204.5,140.5 204.8,138.0 203.6,135.2 205.5,132.5 206.6,130.6 208.1,129.8 209.1,127.0 210.0,125.0 212.1,125.5 214.4,125.0 215.5,122.7 217.5,121.2 219.1,121.4 221.3,120.6 223.0,119.2 225.0,117.5 226.5,115.3 228.5,115.1 230.0,113.8 228.8,112.5 226.3,112.9 223.3,113.1 221.2,112.5 220.0,111.2 218.8,109.2 216.7,108.0 215.1,106.7 213.1,105.9 210.0,105.0 207.2,103.5 204.5,103.2 201.6,102.0 200.0,100.0 196.9,99.7 194.4,98.0 193.0,95.8 192.5,93.8 190.9,91.3 190.0,88.7 188.1,87.6 189.4,85.1 188.8,82.5 187.0,80.3 187.7,78.8 188.3,76.5 188.3,74.5 187.0,73.2 186.8,70.0 187.5,67.8 188.3,66.5 188.2,64.8 188.4,63.1 187.8,61.3 186.5,59.9 185.2,57.0 185.5,55.0 185.5,52.9 185.3,51.5 185.8,50.1 187.5,48.8 189.0,47.2 190.3,46.5 192.2,45.0 193.3,42.2 195.7,41.8 196.2,40.0 197.5,38.0 200.0,37.0 198.1,35.6 196.1,35.3 196.9,32.7 195.0,30.0 193.5,29.9 191.6,28.6 189.0,27.0 187.5,25.0 186.3,23.8 184.2,22.2 183.4,20.9 182.5,18.8 180.6,17.6 178.2,17.5 177.1,16.3 175.0,15.5 173.2,15.3 171.0,14.8 170.4,13.0 168.0,11.2 169.4,9.0 168.8,6.2 171.2,5.0 172.5,2.4 174.1,0.8"/></clipPath>
<g clip-path="url(#clipR)" stroke="#c4e2fb" stroke-opacity="0.8" stroke-width="1.5" stroke-linejoin="round">
<polygon points="176.2,-1.2 177.8,-4.2 177.9,-7.2 178.8,-8.7 179.4,-10.7 178.1,-12.4 176.2,-15.0 244.5,-15.0 243.5,-12.2 243.5,-9.8 243.1,-7.5 243.9,-5.0 244.6,-3.2 244.5,-1.2 245.7,0.1 245.8,2.5 246.3,5.8 244.8,8.6 245.5,11.2 248.0,13.3 250.2,13.8 251.7,15.1 251.9,18.4 253.8,20.0 255.5,21.4 258.6,21.8 259.0,23.5 260.0,26.2 261.0,28.3 262.2,30.3 263.9,32.2 263.8,35.0 265.5,35.5 267.0,36.1 268.0,37.4 270.0,38.0 270.7,36.2 271.1,33.3 273.3,32.1 275.0,31.2 275.9,30.0 278.0,29.1 279.6,29.1 281.9,30.3 283.1,27.9 285.0,26.2 286.9,27.4 290.2,26.9 292.3,26.9 294.4,26.6 295.7,24.6 297.5,23.8 299.6,23.0 301.1,21.6 304.0,21.5 305.8,20.5 307.5,21.2 309.5,20.0 310.7,17.6 313.3,16.4 315.5,16.2 316.6,18.0 318.8,17.8 320.7,19.5 323.3,18.8 325.0,18.0 326.7,19.2 329.0,20.6 330.8,21.2 332.3,21.6 335.0,22.0 336.5,23.3 337.4,25.6 338.8,27.8 338.8,30.0 340.1,31.7 339.8,34.3 337.9,35.2 336.9,36.6 337.4,39.0 337.0,41.2 334.7,43.7 335.1,47.1 332.9,47.5 331.2,48.8 329.8,51.0 328.9,53.3 326.3,54.6 325.0,56.2 324.5,59.6 323.8,62.6 321.2,63.8 320.1,65.4 318.4,66.8 316.2,68.8 314.0,68.3 311.0,69.0 310.6,71.6 307.5,73.0 306.9,74.4 305.4,76.0 306.4,78.9 308.0,79.9 308.0,82.5 308.9,84.7 310.8,85.8 310.4,88.0 312.8,88.3 313.8,91.2 314.4,93.5 315.5,94.8 316.1,97.3 318.3,99.5 321.2,100.0 319.0,100.4 318.2,102.8 318.5,104.8 319.5,106.2 317.5,106.9 316.4,107.8 314.8,110.6 312.5,111.2 310.6,111.2 308.6,111.5 306.2,112.5 304.7,109.5 302.9,108.6 301.2,108.8 299.7,105.9 297.5,105.0 298.0,107.6 297.9,109.8 298.7,111.3 298.8,113.8 301.0,114.6 301.9,116.2 303.2,119.0 303.0,121.2 303.9,123.1 305.0,125.6 302.9,127.6 303.8,130.0 303.8,133.0 305.6,134.1 305.5,137.5 307.1,139.5 309.5,139.5 312.5,140.0 313.1,141.8 314.3,143.3 315.2,145.4 317.5,147.5 319.7,149.8 321.3,151.1 322.7,152.6 325.0,153.0 327.0,153.8 330.3,154.4 333.3,155.9 336.2,157.0 338.1,158.8 339.1,160.5 338.8,163.8 340.8,165.2 343.0,167.5 345.4,168.9 347.5,170.0 347.7,171.6 348.3,173.8 350.2,175.1 351.2,176.2 349.5,177.3 348.7,179.5 347.5,182.5 345.1,183.5 344.1,185.4 343.0,187.6 343.1,189.4 342.0,191.2 341.0,194.4 339.9,196.7 339.5,198.7 337.5,200.0 339.5,197.5 338.4,200.2 338.1,201.9 338.1,204.3 335.8,206.7 335.0,208.8 336.7,209.1 338.3,209.7 341.3,210.7 343.6,211.7 345.0,214.5 348.0,215.9 349.1,218.5 351.6,219.2 353.7,219.8 355.0,220.0 358.1,221.3 360.1,222.5 361.5,224.2 363.1,224.3 365.0,225.5 366.0,228.3 367.7,230.6 370.3,232.5 372.1,233.4 375.0,233.8 377.9,233.8 380.5,234.5 382.7,234.7 385.0,236.2 388.0,237.6 390.9,238.6 392.6,240.0 395.0,241.2 397.0,242.1 399.6,243.8 402.3,244.7 405.0,245.0 407.9,244.9 409.5,246.0 411.3,246.9 412.4,248.0 415.3,247.7 417.5,246.2 419.2,245.6 421.5,245.5 423.5,246.1 426.2,245.8 429.4,244.9 431.2,243.8 433.5,245.0 435.4,246.0 437.5,246.2 439.8,247.9 441.7,248.3 443.8,250.0 445.1,252.2 447.3,253.3 447.5,255.8 447.5,258.0 449.9,259.3 451.9,261.0 453.6,260.5 455.5,261.0 457.5,261.8 460.5,260.9 463.4,261.2 465.4,260.0 467.5,260.5 468.1,262.8 470.4,263.9 472.8,263.5 475.0,265.0 476.7,264.7 479.0,265.5 481.2,266.8 482.9,267.7 485.0,266.8 487.0,268.1 489.3,268.2 490.9,268.4 493.0,268.4 495.0,266.8 497.2,266.6 498.7,267.6 501.3,266.1 503.6,267.4 505.0,269.2 506.4,267.2 508.5,266.6 510.4,266.8 512.5,267.5 514.5,265.5 517.1,264.9 519.8,264.7 522.5,266.8 523.9,266.0 526.0,265.0 528.3,265.7 531.2,265.5 531.8,266.0 531.0,263.5 531.7,261.3 530.6,259.3 530.7,256.8 530.1,255.1 529.0,253.3 528.5,250.9 528.8,249.0 526.6,247.8 525.4,244.8 526.8,242.6 527.4,240.4 527.0,238.4 527.2,235.0 526.9,232.1 528.6,230.8 528.5,228.3 529.4,226.5 530.5,225.6 532.2,224.5 533.5,223.3 535.2,223.2 537.6,223.2 540.2,222.0 542.2,224.2 544.3,225.0 544.1,226.8 545.2,229.4 545.0,231.7 545.2,233.4 546.1,236.0 545.9,238.4 545.6,240.8 545.9,242.4 547.6,243.6 546.3,245.9 545.9,247.6 547.1,249.1 546.5,251.8 548.3,252.2 550.2,253.4 551.4,254.6 553.6,255.1 556.4,254.8 558.6,254.7 561.2,255.7 563.6,256.0 565.9,257.2 568.7,257.6 570.8,258.9 571.2,256.8 572.8,255.6 575.4,256.0 578.3,255.2 579.5,253.4 580.9,252.5 582.9,251.8 585.4,252.6 587.5,253.1 590.4,253.4 593.5,252.4 596.3,253.0 598.9,252.3 601.1,252.2 603.0,252.2 605.7,253.0 606.9,252.0 608.9,251.4 612.0,250.6 614.1,250.8 615.5,250.1 617.1,250.3 618.9,248.8 621.8,248.5 622.3,247.0 624.3,245.9 622.9,243.7 623.5,241.8 623.5,239.5 621.8,236.8 621.1,234.8 618.5,233.4 615.7,232.6 614.1,232.1 611.8,231.8 610.3,230.5 610.1,228.4 609.2,226.6 611.0,225.1 613.8,225.7 616.8,225.1 619.7,223.6 621.5,223.7 623.5,222.6 626.0,221.3 628.5,220.9 630.2,220.4 632.0,220.1 632.9,218.4 635.2,216.7 635.6,214.7 636.0,213.4 638.0,210.7 639.7,209.4 641.8,210.1 641.0,208.2 642.3,206.5 644.2,205.7 646.8,205.1 648.0,202.6 648.5,200.9 651.4,199.8 653.5,198.4 655.5,198.2 657.2,197.6 660.3,197.9 660.2,195.0 663.1,194.5 664.2,192.0 666.8,191.8 668.5,190.9 671.5,189.3 671.0,187.9 671.0,185.9 671.5,184.1 673.3,182.9 675.2,180.9 677.1,182.1 680.2,181.7 682.9,181.0 685.2,180.9 687.3,181.4 688.7,182.1 691.9,181.7 693.8,179.3 696.9,178.4 697.9,176.5 698.5,174.8 700.7,174.1 702.7,173.4 705.0,172.2 707.0,172.3 709.4,170.8 712.2,171.1 713.6,172.5 715.1,174.7 716.1,176.7 717.2,178.6 720.3,180.0 721.8,182.6 723.0,183.9 724.4,185.0 722.7,186.8 722.8,190.0 724.7,190.0 726.9,190.0 728.9,192.0 731.1,193.4 732.6,194.6 734.2,195.9 737.0,195.9 739.7,197.5 741.5,197.9 742.8,199.2 744.7,200.4 745.6,201.6 746.1,204.2 745.1,206.6 743.6,208.4 742.1,209.9 740.3,211.7 738.2,214.1 737.0,216.7 739.1,217.8 741.0,218.6 740.3,220.3 741.1,222.6 743.0,224.8 744.5,227.6 743.1,228.2 741.1,228.4 739.7,226.5 738.9,225.3 736.1,223.4 733.0,222.7 731.9,220.4 729.9,222.8 726.9,224.3 724.4,224.3 722.4,224.7 720.3,226.8 718.5,227.0 716.9,227.0 716.3,229.4 715.3,230.9 714.2,231.7 712.3,233.0 710.3,235.1 709.2,237.1 708.2,238.3 706.7,239.1 705.2,240.1 704.6,242.1 705.4,243.7 703.5,246.1 701.1,245.9 699.4,246.8 701.1,249.7 699.5,251.2 698.9,253.5 698.7,256.6 698.6,258.4 698.2,260.1 698.0,263.3 697.3,265.2 696.9,268.5 696.5,271.4 694.9,274.3 692.4,276.2 690.2,278.5 688.7,278.2 686.9,276.8 686.1,276.7 686.2,278.5 686.6,280.9 688.6,283.4 689.8,286.2 690.3,289.3 692.7,290.0 690.8,292.8 691.4,295.0 691.1,296.7 690.6,300.1 689.3,302.1 688.6,303.4 687.1,305.9 687.0,308.4 686.9,310.1 686.0,312.6 686.3,314.5 684.8,316.6 684.4,318.4 683.5,321.2 682.7,324.2 680.7,323.8 678.5,323.4 676.7,322.7 674.4,321.3 671.4,321.4 670.2,323.4 667.1,322.5 665.2,321.7 662.7,322.1 663.1,325.3 663.5,328.4 663.3,331.2 665.1,333.0 665.9,334.7 664.4,336.8 664.4,339.6 663.4,341.9 664.4,343.4 665.1,346.3 663.5,347.7 663.5,350.1 661.0,350.1 659.5,353.0 660.3,354.7 661.0,356.8 662.9,359.3 660.9,361.4 661.0,363.2 661.9,365.1 663.7,367.9 662.7,370.1 661.8,371.8 660.7,374.3 658.5,376.8 656.0,378.1 653.5,378.5 651.4,377.2 649.3,376.8 647.9,375.0 647.7,371.8 648.4,369.1 646.5,366.8 646.3,365.4 646.0,363.5 645.0,361.7 646.3,359.5 646.0,357.3 643.5,355.1 642.0,353.9 641.1,352.0 639.7,349.6 641.0,346.8 643.2,344.4 642.1,342.1 641.1,340.4 639.3,340.1 639.0,337.6 639.4,335.9 637.7,333.4 636.0,332.6 634.1,334.5 631.0,334.3 631.2,336.1 631.4,338.2 629.3,340.1 629.0,342.5 626.8,345.1 626.0,347.7 628.0,349.3 626.6,350.7 625.1,351.8 624.3,353.5 622.6,355.1 620.3,354.1 618.5,352.6 616.8,352.0 615.1,350.1 616.3,347.2 614.8,346.7 613.5,345.1 612.1,342.0 611.7,339.5 610.1,338.4 610.4,336.4 611.0,333.4 611.1,331.0 612.4,329.9 613.5,328.4 615.2,326.0 618.5,325.9 619.1,324.5 619.4,322.6 621.8,321.7 624.5,320.9 626.8,318.4 628.8,316.8 630.3,315.9 631.8,315.1 633.5,313.4 633.5,310.1 634.1,308.4 634.7,306.6 634.3,303.4 635.8,302.0 636.8,300.9 636.5,299.1 636.0,297.5 633.3,296.4 630.1,295.9 628.0,295.1 626.4,295.6 624.6,295.8 621.8,295.9 618.7,296.3 616.0,296.8 613.6,296.4 611.8,296.3 610.1,296.7 608.8,298.1 606.7,298.0 604.0,299.3 601.8,298.7 600.8,297.7 598.4,297.5 595.6,297.2 592.3,296.6 590.0,297.1 586.8,296.7 583.9,295.8 581.7,294.3 578.3,294.8 575.1,294.2 574.5,292.3 573.4,290.0 573.7,288.6 574.4,286.9 573.0,284.5 572.8,282.3 572.5,279.5 571.6,277.3 570.8,275.9 570.2,273.5 568.2,271.9 567.6,274.3 566.6,276.1 563.6,276.5 560.3,276.1 557.8,274.4 555.3,272.7 554.6,270.7 553.6,269.4 551.5,267.3 549.4,266.0 550.0,267.9 550.2,269.4 551.1,271.0 548.6,270.6 546.1,269.4 545.1,267.8 543.5,266.8 541.8,264.9 540.2,264.3 539.1,262.8 536.8,262.7 535.2,263.5 535.8,265.5 536.8,266.8 538.5,268.1 536.0,269.4 534.3,271.0 533.5,273.5 532.8,275.0 531.0,276.9 529.8,278.2 529.7,280.2 530.1,283.6 532.7,284.8 535.2,286.1 536.2,287.6 537.7,288.6 539.3,289.9 540.2,291.1 542.0,292.5 543.5,292.4 545.6,292.1 547.7,292.0 548.3,293.9 549.4,295.3 550.6,296.1 551.9,298.0 552.0,298.4 550.0,298.7 548.7,299.2 545.3,298.8 542.0,299.2 540.9,300.5 540.3,302.6 539.9,304.0 539.4,305.9 538.8,307.7 537.8,309.3 535.3,308.0 533.2,308.8 531.9,311.8 532.8,314.1 530.7,315.1 531.1,317.6 532.5,318.5 534.4,319.7 536.6,321.0 538.6,322.2 539.6,324.0 541.4,324.3 543.6,324.3 545.7,325.2 547.8,326.0 548.2,329.4 548.2,331.8 548.7,333.5 546.6,336.1 546.0,337.5 545.3,339.4 546.4,341.2 547.0,342.8 548.1,344.4 549.5,346.1 550.9,347.6 550.8,349.4 552.9,351.3 552.8,353.6 554.5,356.1 554.9,358.0 555.2,358.4 556.2,361.3 556.8,363.4 556.2,365.1 556.3,366.8 556.0,370.1 557.8,371.3 558.9,372.6 556.9,374.7 557.7,376.7 557.5,378.9 558.0,380.5 559.4,383.4 558.5,385.8 560.5,387.1 560.2,390.1 560.8,391.9 561.7,393.4 561.0,395.9 559.1,395.1 558.4,393.5 560.2,390.9 561.0,392.9 561.2,394.3 559.9,395.7 558.9,397.1 559.6,395.7 560.1,393.2 558.9,391.8 557.5,389.3 556.1,391.3 556.2,393.1 555.0,395.8 555.8,398.1 555.9,395.6 554.9,394.4 554.3,392.3 554.1,390.1 554.2,388.4 553.1,390.4 552.8,393.6 552.5,395.8 552.5,398.4 551.8,396.3 552.2,394.2 550.8,392.1 550.8,389.3 549.5,391.7 548.4,393.4 548.4,395.7 548.8,398.8 548.8,396.8 548.9,394.0 547.5,392.7 546.8,390.1 545.3,391.6 545.0,393.8 544.2,396.4 544.8,398.1 543.8,395.9 542.5,395.0 541.2,392.7 542.8,390.9 542.0,392.8 541.4,394.4 540.8,397.6 539.4,395.5 537.9,394.9 538.3,392.8 538.5,390.9 537.3,393.9 536.8,397.1 535.9,395.2 535.2,393.6 535.2,390.9 533.4,392.3 531.8,393.4 529.0,395.0 526.8,395.9 525.1,397.4 523.3,398.1 521.8,398.4 520.3,399.7 518.5,400.1 515.9,401.1 513.5,403.4 512.0,404.3 509.9,404.8 508.5,406.8 506.7,409.1 506.8,411.8 508.8,412.6 509.2,415.2 508.9,417.3 507.6,418.5 508.0,420.2 509.5,421.9 510.1,424.3 507.1,425.3 506.8,428.5 505.4,430.2 504.3,431.8 504.5,433.2 505.1,435.2 502.7,437.2 501.8,440.2 499.5,442.6 498.0,443.5 496.8,445.2 496.4,447.5 493.7,449.2 492.4,448.4 490.1,448.5 487.2,449.3 484.1,449.6 483.4,451.8 481.5,453.0 479.6,452.2 478.3,453.8 476.7,455.0 475.0,457.5 474.1,459.0 473.0,460.4 471.1,460.2 469.6,461.5 466.8,462.3 465.0,465.0 463.0,465.6 461.8,466.3 459.6,467.6 457.5,468.8 455.0,470.0 452.5,470.3 451.3,471.5 450.6,473.1 450.0,475.0 449.8,477.0 448.7,478.8 448.3,481.1 445.7,481.1 444.5,483.6 442.5,485.0 440.8,486.2 439.5,487.8 439.4,489.8 438.0,492.6 435.8,494.8 432.5,495.0 430.5,496.9 429.0,497.5 427.4,498.8 426.3,500.6 425.0,503.0 425.0,501.2 423.2,501.6 421.3,502.0 419.4,503.0 419.0,504.7 416.4,505.8 415.0,507.5 412.3,508.4 410.6,509.7 408.8,509.8 406.7,512.2 405.0,515.0 402.8,517.4 401.1,518.7 400.6,521.2 397.5,522.5 396.5,524.1 396.6,526.5 395.4,529.2 392.5,530.0 393.6,531.3 395.1,532.9 394.7,535.5 393.8,537.5 392.6,540.2 391.7,541.9 389.2,543.7 386.6,543.8 385.0,545.0 383.2,544.1 380.8,544.6 378.2,546.3 375.0,547.5 372.6,549.3 369.4,549.6 367.3,550.3 365.0,552.5 365.0,554.7 364.1,556.5 362.8,558.5 360.0,560.0 357.1,560.1 356.4,562.0 355.0,563.8 353.3,562.8 351.6,562.7 350.0,562.6 347.5,562.5 345.5,564.6 344.5,566.2 342.6,567.2 340.0,567.5 339.0,570.2 339.1,572.2 338.2,573.9 336.2,575.0 336.4,577.5 336.5,579.5 336.4,581.1 336.7,583.1 335.0,585.0 335.7,587.0 336.0,588.5 336.4,590.8 336.1,592.9 336.2,595.0 335.5,597.2 334.5,598.9 335.4,600.8 336.1,603.1 337.5,605.0 337.5,607.1 337.0,610.2 338.8,612.7 340.0,615.0 340.9,617.0 342.3,617.9 340.8,619.2 340.1,621.2 341.1,622.9 341.2,625.0 341.4,627.1 340.8,628.5 341.7,630.7 342.5,632.5 341.7,630.1 341.0,628.5 341.4,626.7 342.0,624.0 341.3,625.7 341.5,628.6 341.0,631.7 340.0,634.0 337.1,634.9 337.8,637.5 337.5,639.2 338.5,641.7 337.8,644.1 336.2,646.5 334.1,645.7 332.6,647.0 332.2,649.1 331.3,651.4 331.8,653.7 331.2,656.5 330.0,658.5 330.2,660.6 328.1,662.6 326.2,664.0 326.5,666.6 324.4,668.4 325.0,670.2 326.9,672.5 328.8,674.0 328.1,675.5 327.4,677.3 326.8,679.8 327.1,682.1 327.5,684.0 326.2,686.7 327.0,688.0 326.8,690.1 329.3,691.6 330.0,694.0 331.3,696.1 331.6,697.8 331.7,699.9 330.4,702.6 329.1,704.0 329.6,706.7 330.1,708.3 330.0,710.2 327.9,710.6 325.7,711.9 322.5,711.5 319.9,713.2 318.1,713.9 317.4,715.8 315.0,716.5 315.2,719.0 313.7,720.4 313.2,722.2 311.0,723.6 310.0,725.2 308.8,726.5 306.5,728.1 305.7,729.9 305.0,732.8 307.8,734.4 310.0,736.5 313.2,736.6 316.2,737.8 315.0,740.2 313.2,739.6 311.4,740.4 309.1,740.3 306.8,740.2 305.0,740.2 303.1,741.4 301.4,742.0 299.1,742.9 297.6,743.5 295.0,744.0 294.7,746.4 292.7,747.9 291.2,747.9 289.3,748.1 287.5,750.2 285.2,752.4 283.3,754.4 282.0,756.9 283.8,759.0 283.4,761.1 281.7,763.6 280.0,764.3 277.5,765.2 274.7,766.1 273.9,767.9 271.5,768.4 270.0,769.0 267.7,768.2 265.6,768.3 262.5,767.8 260.6,767.0 259.9,764.6 258.7,763.0 256.2,762.8 254.3,761.7 252.2,761.6 252.0,759.0 250.0,756.5 249.1,754.8 248.1,753.1 246.9,750.6 245.3,750.7 243.6,749.2 242.5,746.5 242.5,743.3 241.5,740.8 242.0,739.2 240.5,737.3 238.5,735.0 236.2,734.0 235.5,732.7 235.6,730.5 236.8,728.1 236.8,725.8 236.4,723.8 234.9,721.8 232.5,721.5 232.1,719.1 230.3,718.4 229.6,716.2 228.6,715.1 228.5,712.0 228.8,709.0 227.3,707.4 226.0,706.7 225.2,704.2 224.5,702.4 225.3,701.1 225.8,698.9 225.0,696.5 224.6,693.9 224.0,690.5 222.1,689.6 220.1,688.3 220.1,686.1 220.0,684.0 219.4,682.1 218.6,680.4 217.2,678.5 215.4,678.2 215.1,676.0 214.8,674.4 213.8,671.5 211.8,670.0 209.6,668.2 209.6,665.3 208.5,662.9 207.5,661.5 206.3,660.2 205.8,658.5 204.5,656.8 203.5,653.9 202.5,651.5 201.1,649.1 201.3,646.0 199.6,645.3 198.8,642.8 195.9,642.0 196.2,639.9 195.6,638.6 194.0,636.6 195.0,634.0 192.1,632.5 191.8,631.0 191.5,628.9 191.0,626.3 192.5,624.0 191.9,622.0 191.6,620.7 193.3,618.3 191.3,616.6 190.0,614.0 190.6,611.3 188.8,609.0 188.1,606.9 187.2,605.8 185.2,603.5 184.7,600.2 185.0,597.5 184.6,595.2 185.4,593.4 184.9,591.7 184.4,590.2 182.5,588.8 181.7,586.4 181.2,585.0 181.6,582.3 179.5,580.0 178.1,577.5 177.4,575.9 176.3,574.6 176.1,571.8 175.4,569.7 175.0,567.5 174.9,564.8 172.4,563.0 171.2,560.0 169.2,557.8 168.1,556.6 167.4,554.9 167.8,553.0 167.5,550.0 166.8,547.1 164.8,547.0 163.8,545.2 164.2,542.9 164.5,541.4 164.4,539.5 163.8,537.5 164.6,536.0 164.7,533.8 163.5,531.4 163.2,529.2 162.7,527.6 162.6,524.5 160.0,525.0 160.3,521.9 159.1,520.2 156.9,519.1 155.8,516.6 157.3,515.1 156.2,512.5 154.1,509.9 154.2,507.6 154.2,505.8 153.4,502.7 153.8,500.0 153.4,497.7 151.8,494.8 151.7,492.5 153.0,490.9 153.5,488.7 152.5,487.5 154.8,485.4 154.2,482.4 152.7,480.5 152.0,479.1 151.4,477.6 151.2,475.0 152.0,472.2 151.2,470.0 151.6,467.2 151.4,464.7 152.7,463.5 150.3,462.2 150.0,460.0 150.1,457.6 150.5,455.5 149.3,453.8 149.9,451.9 148.8,450.0 148.8,450.0 149.6,447.6 149.1,445.3 147.5,442.5 147.6,440.0 148.4,438.6 150.0,436.2 151.5,433.3 151.2,431.7 152.5,430.0 149.9,428.1 149.4,425.1 148.9,422.7 150.0,420.0 149.3,417.5 149.1,414.9 147.2,412.9 147.5,410.0 148.0,406.7 147.9,404.5 146.6,402.2 146.2,400.0 145.7,397.6 143.7,395.9 143.5,394.0 143.8,392.5 145.1,389.9 145.5,387.7 145.0,386.2 148.1,385.1 150.0,383.8 147.7,383.3 145.0,382.5 143.6,384.0 141.2,385.0 141.2,386.5 140.9,388.7 140.0,390.3 138.8,392.5 139.8,394.6 139.5,397.2 139.9,399.1 137.5,400.0 138.7,402.2 137.8,404.5 135.0,406.2 134.3,409.4 132.8,410.9 130.0,411.1 127.5,412.5 125.3,412.9 123.2,414.8 121.8,416.5 120.0,417.5 117.8,418.4 115.5,420.3 112.3,419.8 110.0,421.2 107.2,422.4 104.6,423.1 102.5,422.8 100.0,422.0 97.5,421.5 95.4,420.5 94.3,418.4 92.5,417.5 90.1,415.9 88.2,414.1 86.6,413.4 85.0,411.2 84.0,408.5 83.4,406.7 82.2,404.6 80.8,403.1 77.5,402.5 78.1,399.4 77.3,397.3 75.7,396.5 73.7,396.4 71.9,395.6 72.3,393.6 70.0,392.5 67.5,391.2 67.1,387.9 66.8,386.3 66.7,384.5 64.8,383.6 62.5,382.5 61.9,380.2 60.0,378.9 58.6,377.9 57.5,376.2 58.2,374.9 60.0,373.8 62.1,373.1 63.6,373.1 65.6,373.2 66.8,375.0 70.0,375.0 72.6,373.8 75.3,372.8 77.5,372.2 80.0,372.5 81.2,371.5 83.2,370.4 84.3,368.1 87.5,367.5 89.1,366.6 91.1,364.7 93.1,363.2 95.0,361.2 96.1,359.5 96.7,358.3 98.4,358.0 100.0,356.2 98.0,354.5 95.0,355.0 93.0,354.6 91.1,356.6 89.7,358.6 87.5,358.8 85.7,358.3 83.2,359.3 81.0,360.6 80.0,362.5 77.9,363.6 76.3,363.1 74.0,362.8 72.5,363.8 70.0,362.7 67.2,361.7 64.8,360.8 62.5,360.0 62.5,358.7 61.6,356.7 59.2,355.5 57.0,353.7 55.0,353.8 53.4,352.1 52.8,350.4 51.2,347.9 50.0,346.2 48.1,345.3 47.4,343.1 47.5,340.0 46.6,338.4 48.0,336.5 45.6,335.1 43.0,334.2 45.0,331.8 47.2,330.6 49.2,331.9 52.5,332.5 55.1,331.1 57.7,331.4 59.6,331.8 60.8,333.2 63.1,331.1 64.8,329.8 63.2,327.9 62.5,325.0 64.7,325.5 66.6,325.0 68.9,322.8 70.8,325.0 72.5,324.6 75.0,325.0 77.4,324.2 79.1,323.1 81.3,323.1 82.1,325.4 84.6,324.7 87.5,325.0 89.2,325.4 91.3,325.8 94.1,326.2 97.2,326.3 100.0,326.2 102.4,325.1 103.5,327.1 106.0,326.5 107.8,324.6 110.0,323.8 110.6,321.5 110.6,319.9 112.5,317.5 112.5,316.2 111.5,314.3 110.4,313.4 107.9,311.3 106.7,308.6 106.4,306.3 107.5,305.0 106.3,302.6 104.4,300.5 104.2,299.0 104.3,297.0 104.1,294.8 105.0,292.5 103.6,290.2 103.3,288.0 102.5,286.2 100.7,284.7 99.7,283.6 97.0,282.9 95.0,282.5 95.8,280.7 94.5,278.1 93.7,276.9 92.5,275.0 91.9,272.7 90.9,269.7 91.7,266.5 93.8,265.0 91.0,263.2 90.1,261.6 87.5,261.2 85.3,259.2 83.4,258.9 81.2,257.5 81.2,255.1 81.1,253.6 80.0,251.2 80.5,249.8 82.5,248.7 84.0,245.8 85.0,243.8 86.7,242.2 88.9,240.5 90.8,239.0 92.5,237.5 94.0,235.7 94.2,233.4 96.5,233.0 95.6,230.8 96.2,228.8 97.8,228.3 99.6,227.7 101.0,226.6 102.5,224.5 105.5,224.5 107.5,225.0 108.5,226.6 110.5,228.4 111.2,231.2 113.1,230.1 115.1,230.2 117.1,230.7 120.0,230.0 121.5,229.6 123.4,229.7 125.2,231.1 127.1,229.3 130.0,228.8 132.5,227.8 133.9,226.4 136.7,226.7 138.8,226.2 139.0,224.4 140.3,223.1 142.4,222.2 142.5,220.0 144.2,217.3 146.5,217.0 148.3,215.2 150.2,213.3 150.0,210.0 151.9,208.6 155.3,208.0 156.7,205.5 157.5,203.8 159.1,202.6 160.5,202.0 162.8,200.2 165.0,198.8 167.8,197.3 169.2,195.1 170.7,193.9 172.5,191.5 172.4,189.2 172.5,187.5 172.5,184.2 174.9,183.0 176.4,182.2 176.9,179.8 177.5,177.5 179.2,177.4 181.1,176.8 183.5,176.0 185.0,173.8 186.7,173.8 188.8,172.5 188.8,175.0 187.7,172.4 188.9,170.3 190.5,170.0 190.1,166.7 189.7,164.3 192.5,162.5 194.3,161.2 194.7,159.8 197.9,159.1 197.8,157.2 198.7,155.3 200.0,153.0 202.1,152.2 202.3,149.8 204.8,147.4 205.8,144.3 204.5,142.5 204.5,140.5 204.8,138.0 203.6,135.2 205.5,132.5 206.6,130.6 208.1,129.8 209.1,127.0 210.0,125.0 212.1,125.5 214.4,125.0 215.5,122.7 217.5,121.2 219.1,121.4 221.3,120.6 223.0,119.2 225.0,117.5 226.5,115.3 228.5,115.1 230.0,113.8 228.8,112.5 226.3,112.9 223.3,113.1 221.2,112.5 220.0,111.2 218.8,109.2 216.7,108.0 215.1,106.7 213.1,105.9 210.0,105.0 207.2,103.5 204.5,103.2 201.6,102.0 200.0,100.0 196.9,99.7 194.4,98.0 193.0,95.8 192.5,93.8 190.9,91.3 190.0,88.7 188.1,87.6 189.4,85.1 188.8,82.5 187.0,80.3 187.7,78.8 188.3,76.5 188.3,74.5 187.0,73.2 186.8,70.0 187.5,67.8 188.3,66.5 188.2,64.8 188.4,63.1 187.8,61.3 186.5,59.9 185.2,57.0 185.5,55.0 185.5,52.9 185.3,51.5 185.8,50.1 187.5,48.8 189.0,47.2 190.3,46.5 192.2,45.0 193.3,42.2 195.7,41.8 196.2,40.0 197.5,38.0 200.0,37.0 198.1,35.6 196.1,35.3 196.9,32.7 195.0,30.0 193.5,29.9 191.6,28.6 189.0,27.0 187.5,25.0 186.3,23.8 184.2,22.2 183.4,20.9 182.5,18.8 180.6,17.6 178.2,17.5 177.1,16.3 175.0,15.5 173.2,15.3 171.0,14.8 170.4,13.0 168.0,11.2 169.4,9.0 168.8,6.2 171.2,5.0 172.5,2.4 174.1,0.8" fill="#176ab0" stroke="none"/>
<polygon points="150.0,-20.0 350.0,-20.0 350.0,125.0 150.0,125.0" fill="#dcdcdc"/>
<polygon points="197.5,361.2 197.6,359.4 199.7,358.0 200.0,355.0 201.0,353.7 201.8,351.8 203.3,350.8 205.0,350.0 205.3,348.1 204.2,346.0 205.8,343.6 207.5,342.5 206.3,340.9 207.0,338.7 206.5,336.0 207.2,334.5 206.2,332.5 204.3,331.2 203.1,330.0 201.5,327.7 202.4,326.0 203.8,325.0 204.4,322.3 206.2,320.0 205.4,317.7 205.0,315.0 207.1,314.7 208.4,314.7 210.3,314.0 212.5,312.5 214.7,311.7 217.5,311.2 219.5,313.9 220.0,316.2 221.1,317.6 222.7,318.6 225.0,320.0 226.6,320.4 228.5,320.8 231.2,322.5 230.7,325.1 232.5,327.5 231.5,329.2 230.9,330.6 230.6,332.5 230.0,335.0 228.9,336.4 226.6,335.8 223.8,337.5 223.0,339.2 222.5,341.2 224.1,342.3 226.2,342.5 228.0,341.7 229.2,340.2 230.9,339.9 232.5,338.8 233.9,337.8 235.3,336.3 235.8,334.2 236.2,332.5 238.1,332.5 239.6,331.6 241.8,332.5 245.2,333.0 247.5,332.5 249.5,332.1 251.2,331.1 252.5,329.8 255.0,330.0 256.1,327.5 256.2,325.0 256.8,322.2 258.5,321.4 258.2,319.1 257.5,317.5 259.7,315.8 261.7,315.8 263.1,314.2 265.0,312.5 265.4,310.5 267.5,308.8 265.3,308.0 263.1,309.0 261.6,307.5 260.0,306.2 257.4,306.1 254.8,305.0 252.5,304.7 250.0,305.0 249.5,302.8 248.8,300.0 248.3,297.0 247.5,295.0 248.7,293.2 250.1,292.8 250.0,290.0 252.1,288.5 253.7,287.9 255.9,286.7 257.5,286.2 260.5,286.2 263.1,284.2 264.8,282.4 266.7,281.5 267.5,280.0 269.8,278.1 270.8,275.9 273.6,276.2 275.8,274.9 277.5,275.0 279.7,274.2 281.5,271.8 284.2,269.9 285.0,267.5 286.9,265.1 289.1,264.7 290.0,263.0 290.7,260.8 291.6,259.1 293.9,259.8 296.2,258.5 296.2,255.7 298.1,253.9 299.1,252.3 300.0,250.0 290.0,200.0 260.0,150.0 150.0,150.0 20.0,250.0 20.0,340.0 21.9,340.4 23.8,340.3 25.6,341.1 26.9,341.7 29.2,340.8 32.3,341.5 34.9,342.9 36.3,344.3 37.5,345.4 39.6,346.2 42.5,345.8 44.2,346.1 46.5,346.8 48.9,345.8 51.0,344.8 52.3,343.8 54.7,342.8 57.0,343.6 60.0,345.0 61.6,342.4 64.0,341.2 65.8,341.4 68.3,341.9 71.0,342.6 72.7,341.9 74.5,341.3 76.0,341.6 77.9,341.9 80.2,342.8 83.5,342.0 85.6,341.9 87.2,341.3 88.9,340.7 91.0,341.8 92.8,343.0 95.6,343.0 97.3,343.8 100.0,345.0 150.0,350.0 151.6,350.5 153.7,352.1 156.2,352.6 159.2,352.7 160.7,353.8 161.9,355.6 164.1,355.4 165.5,355.8 167.8,356.6 170.5,356.6 172.2,357.4 173.8,357.8 176.8,359.3 180.0,360.0 183.1,360.6 184.5,358.8 186.8,359.5 188.3,360.4 190.7,360.1 192.1,360.8 194.2,361.5" fill="#21549f"/>
<polygon points="271.2,235.0 271.6,236.6 271.7,238.5 268.8,240.0 270.3,242.3 270.0,245.0 271.4,245.9 273.5,246.9 273.8,250.0 274.0,252.0 275.0,255.0 273.9,256.5 273.2,258.1 271.2,260.0 272.7,261.7 272.5,263.8 275.0,262.9 276.1,259.8 278.0,260.1 280.0,260.5 283.0,261.3 286.2,261.4 288.4,261.8 290.0,263.0 290.0,263.0 291.4,264.2 292.6,265.2 295.1,266.0 297.7,264.8 300.0,264.5 302.9,264.7 304.3,265.2 306.7,265.4 309.6,266.2 310.0,269.5 310.0,271.7 310.8,273.5 310.4,275.3 311.2,277.5 308.5,279.2 308.0,281.9 308.7,284.6 308.8,286.2 307.7,288.7 307.7,290.9 306.1,292.2 305.0,295.0 303.2,295.9 302.2,297.7 300.0,298.8 297.6,300.1 295.3,300.6 293.8,301.2 291.5,303.6 290.1,305.9 290.0,308.2 291.2,310.0 290.9,312.8 289.5,314.5 289.4,316.8 290.0,320.0 290.3,322.0 291.1,323.9 292.7,324.8 294.0,325.7 293.8,328.8 294.8,331.9 297.3,332.1 299.3,331.9 301.2,332.5 301.7,330.6 303.7,329.6 306.2,328.8 305.1,327.2 305.0,325.1 304.9,323.3 305.0,321.2 304.4,319.3 303.8,317.6 302.7,315.7 301.8,314.7 301.2,312.5 302.1,309.8 299.0,308.5 301.0,306.8 300.0,303.8 302.0,301.7 303.8,300.0 306.8,299.9 308.3,301.5 309.5,303.6 310.0,305.0 312.0,307.0 314.1,307.3 315.7,307.2 317.5,307.5 319.7,306.2 321.5,304.9 323.9,305.0 325.0,303.8 328.1,304.0 330.4,303.8 333.4,302.9 335.0,301.2 337.2,302.0 339.3,302.4 342.6,303.0 344.3,304.6 345.0,306.2 347.8,305.5 350.0,306.1 351.4,306.3 352.2,308.3 355.0,310.0 356.8,309.8 359.4,310.3 361.5,311.9 362.5,313.8 364.7,313.5 367.7,312.7 368.7,310.7 370.0,310.0 372.3,309.6 374.3,311.9 375.6,312.7 377.6,313.4 380.0,312.5 381.8,314.5 385.1,315.2 387.2,317.3 390.0,317.5 392.9,316.2 394.9,317.5 396.3,318.8 398.0,320.0 400.0,322.5 399.6,324.5 400.7,326.2 400.3,328.9 402.5,330.0 402.7,331.4 403.5,333.3 404.5,335.8 403.8,338.8 405.8,339.2 406.9,340.5 408.5,343.2 410.9,343.9 413.6,343.9 415.7,343.6 417.0,345.2 419.4,344.7 421.5,345.0 422.7,346.2 425.7,346.3 427.3,344.8 430.0,345.0 450.0,300.0 450.0,240.0 340.0,150.0 280.0,160.0 278.3,161.8 277.5,163.1 275.9,165.3 273.9,166.6 272.5,169.3 274.0,171.9 273.3,174.3 270.8,176.0 269.4,177.8 269.1,180.2 269.5,183.4 270.2,185.4 268.6,187.4 267.0,189.7 264.3,191.1 263.7,193.2 263.6,195.5 264.4,197.8 262.0,200.0 261.7,201.9 262.7,203.5 264.0,204.1 265.3,206.0 265.4,208.3 265.6,210.8 263.7,213.2 264.4,215.4 265.4,217.7 265.2,219.6 266.3,221.1 267.3,222.3 269.7,222.9 269.8,225.4 270.6,227.3 271.2,229.4 272.3,231.9" fill="#21549f"/>
<polygon points="112.5,316.2 113.5,317.6 115.1,318.5 117.5,317.5 119.1,318.2 121.1,318.7 123.2,319.4 125.0,317.0 127.7,317.8 129.0,318.6 130.7,320.2 132.3,318.6 135.0,318.8 137.6,320.1 140.2,321.3 142.8,322.9 145.0,322.5 147.2,323.0 148.6,323.3 150.9,323.7 153.2,324.9 155.0,325.0 156.7,325.4 159.1,324.9 160.6,325.7 162.5,326.2 163.4,328.5 163.4,330.3 164.0,331.7 166.2,332.5 167.5,333.3 168.7,335.1 170.0,337.5 170.1,339.3 171.0,342.0 172.5,345.0 174.6,346.2 175.2,348.6 176.4,350.1 177.5,351.2 179.4,350.5 181.5,351.9 182.8,354.9 185.0,356.2 187.8,357.9 189.5,358.5 191.2,360.0 193.8,359.6 195.9,360.5 197.5,361.2 196.3,363.7 196.2,365.9 195.0,367.5 193.3,369.4 192.4,371.4 191.7,373.4 192.5,375.0 189.3,374.9 187.5,377.5 188.2,379.7 187.1,381.9 186.2,385.0 186.7,387.7 187.8,388.9 187.5,391.2 186.2,393.8 186.1,396.3 187.1,397.9 185.8,398.8 184.0,400.0 184.5,401.9 185.4,404.1 185.2,407.2 186.0,410.0 184.1,412.6 184.6,414.8 182.7,416.4 181.5,418.1 181.0,420.4 179.6,422.6 181.7,425.0 181.6,428.2 181.0,430.4 179.5,431.3 179.0,433.9 178.5,436.4 179.4,438.4 179.4,440.2 180.1,441.8 179.2,444.2 177.5,445.0 179.4,447.5 180.0,450.0 20.0,450.0 20.0,310.0 100.0,318.0 102.2,317.5 103.2,316.5 105.1,315.1 107.6,315.8 109.2,316.3" fill="#4ba3cc"/>
<polygon points="151.2,438.8 153.0,440.0 154.3,440.7 155.9,441.8 157.5,442.5 160.3,441.3 162.5,440.0 163.1,436.8 164.8,435.7 167.5,436.2 168.5,433.3 170.0,431.2 172.2,430.1 175.0,430.0 176.2,428.1 177.4,427.3 180.0,427.5 177.4,426.0 178.2,423.9 178.8,422.5 180.0,419.6 178.6,417.5 177.5,416.2 178.8,414.3 179.7,412.8 180.0,410.0 181.2,409.0 182.7,407.7 183.8,405.0 181.2,404.5 178.8,402.5 181.0,400.1 180.5,398.3 181.2,396.2 183.8,394.6 186.2,393.8 188.8,392.5 191.3,392.7 193.8,393.8 195.2,395.3 196.4,397.0 197.5,400.0 199.9,399.5 201.6,402.1 203.9,403.0 206.0,403.5 207.5,403.8 209.5,403.6 212.5,403.3 215.1,404.0 215.7,405.6 217.5,407.5 220.5,406.7 222.4,407.8 224.1,408.4 226.6,407.7 227.8,409.0 230.0,410.0 231.8,411.3 233.4,412.8 235.0,414.0 236.2,416.2 238.0,416.9 240.0,417.5 242.2,417.6 243.5,416.6 245.5,414.8 247.5,413.8 249.5,411.6 250.4,409.3 251.6,407.5 252.5,406.2 254.5,405.9 256.6,405.4 257.8,404.2 260.0,402.5 261.9,402.5 264.7,403.1 267.5,401.2 268.6,402.9 269.1,405.2 271.2,407.5 274.1,409.1 275.4,409.8 277.5,410.0 279.1,410.0 280.9,409.2 283.6,408.5 285.6,407.2 287.5,407.5 289.2,406.9 290.7,405.8 292.3,405.0 295.0,405.0 297.2,406.0 299.2,406.6 302.5,406.2 304.4,405.2 306.1,404.7 307.4,402.9 310.0,402.5 312.4,402.8 313.0,404.4 315.3,405.5 317.4,405.0 320.0,405.0 321.8,403.2 324.6,404.2 327.2,405.7 330.0,406.2 332.0,405.3 334.7,405.2 336.9,404.5 340.0,405.0 341.5,405.7 343.0,407.0 344.7,407.5 347.5,407.5 348.2,410.8 347.9,413.0 348.8,415.0 350.6,417.0 349.5,418.7 349.2,420.3 352.5,421.0 353.6,423.5 354.4,424.9 356.2,426.4 358.1,428.7 360.0,430.0 370.0,500.0 368.8,503.0 367.0,504.2 365.7,505.9 364.0,507.9 362.0,507.4 360.4,507.1 359.1,509.9 357.6,510.2 355.9,511.2 355.8,513.9 355.8,516.3 354.3,517.5 352.4,518.4 350.0,520.0 300.0,560.0 250.0,600.0 200.0,600.0 150.0,610.0 120.0,560.0 120.0,450.0 122.4,450.2 124.0,450.1 126.9,448.8 128.4,448.3 130.0,446.7 132.9,447.4 133.8,445.9 135.6,444.0 138.1,444.9 139.9,445.0 141.8,443.7 143.8,442.4 145.8,440.5 146.8,438.5 149.4,438.2" fill="#a5dbb8"/>
<polygon points="342.5,482.5 342.6,480.5 341.2,478.8 342.2,476.2 344.1,475.1 343.8,472.5 346.6,472.8 348.5,469.9 349.9,468.4 350.3,467.0 352.5,466.2 354.7,463.9 355.0,461.2 353.1,459.7 352.2,457.3 350.3,454.8 348.8,452.5 346.1,451.5 346.0,448.4 345.6,446.3 346.2,445.0 346.6,442.1 348.8,440.0 350.1,437.7 350.3,435.5 349.8,433.5 349.2,432.3 347.5,430.0 345.8,427.5 346.4,425.4 346.5,424.0 346.9,422.2 346.2,420.0 346.8,417.6 348.8,415.0 348.9,412.8 347.6,411.3 348.7,408.9 349.6,406.0 352.5,405.0 352.4,402.4 353.0,399.5 353.8,397.7 355.0,396.2 356.4,394.7 356.8,393.3 356.8,391.3 358.8,390.0 359.0,388.1 359.6,385.8 361.0,384.4 362.5,382.5 364.6,382.7 366.7,381.8 368.8,380.9 370.0,380.0 372.2,377.9 373.3,375.2 375.7,375.6 377.5,375.0 379.3,373.5 381.5,373.0 382.5,371.4 382.5,368.8 382.7,366.9 385.2,366.2 386.5,364.5 387.5,362.5 386.4,360.6 385.5,358.5 385.5,356.4 385.0,353.8 384.1,352.6 382.8,350.7 380.5,350.9 377.5,351.2 375.8,348.3 375.7,346.4 373.8,345.5 375.3,346.7 377.4,345.2 379.6,345.6 382.5,346.2 384.4,346.3 386.9,345.8 390.0,345.0 391.6,342.6 394.4,343.2 396.8,342.3 400.0,341.2 402.1,341.6 404.7,342.7 405.6,340.8 407.5,340.0 410.3,339.9 412.0,339.5 413.8,338.8 416.2,339.8 419.3,339.1 421.2,339.9 422.3,341.6 423.9,340.7 426.5,340.9 428.7,340.7 430.0,340.0 450.0,400.0 420.0,470.0 380.0,520.0 376.8,520.2 375.2,518.9 374.6,517.2 372.8,517.7 370.5,516.7 367.8,516.9 365.5,517.0 364.7,514.9 362.7,513.4 359.7,512.3 357.8,511.0 357.5,508.5 355.5,509.0 354.0,509.0 352.0,509.6 349.7,508.3 347.8,508.7 346.2,508.3 344.9,507.2 343.4,505.8 344.3,504.0 343.7,502.1 341.4,501.9 340.0,500.0 338.5,497.9 340.2,496.3 339.1,494.7 338.8,492.6 340.7,490.1 343.0,487.6 342.7,485.4" fill="#1c62ab"/>
<polygon points="203.8,178.8 204.3,180.8 205.4,182.3 205.1,185.0 205.0,187.5 205.8,190.3 207.5,192.5 209.3,191.0 210.7,189.7 213.2,190.2 215.0,191.2 216.2,193.4 217.9,195.1 219.9,194.4 222.5,195.0 223.7,197.8 223.2,200.4 225.0,202.5 225.8,204.1 225.6,206.5 225.6,208.0 225.0,210.0 226.6,210.6 227.7,212.8 228.6,215.3 230.0,217.5 233.1,218.3 234.8,219.8 233.9,221.7 234.6,223.3 236.2,225.0 236.8,226.9 237.7,229.8 236.6,231.0 235.0,232.5 236.8,234.6 238.8,235.0 240.2,232.4 241.2,230.3 242.5,228.8 245.1,228.7 247.5,227.5 249.7,229.3 252.5,230.0 254.4,229.9 256.0,229.6 257.5,227.5 257.2,230.0 258.0,232.5 258.7,234.6 260.0,237.5 262.6,239.2 265.0,238.8 266.4,236.9 267.8,236.4 269.9,235.6 271.2,236.2 271.5,234.0 272.3,231.1 271.9,229.3 272.5,227.5 272.6,225.2 271.9,222.9 271.2,220.0 270.4,216.8 270.1,214.6 270.0,212.5 270.1,209.2 268.9,206.6 267.5,205.0 265.8,203.7 265.2,201.3 265.7,199.5 265.5,197.5 266.4,195.2 268.1,192.5 267.7,189.4 266.2,187.5 265.9,186.0 266.8,184.1 267.7,182.2 270.0,180.0 272.0,178.3 273.5,176.6 273.8,174.4 274.5,173.2 275.0,171.2 277.0,168.6 277.5,166.2 278.6,163.9 276.1,161.7 275.7,159.7 274.8,158.1 273.0,156.5 273.2,154.2 274.6,152.7 275.0,150.0 272.4,149.5 270.9,149.3 268.7,148.2 267.3,149.4 264.9,150.6 263.3,153.1 260.8,151.7 259.0,152.0 256.5,152.2 253.7,151.5 251.7,151.2 248.9,149.9 246.7,148.7 244.7,149.1 242.7,148.2 240.0,150.0 237.9,151.1 236.4,151.6 233.6,151.6 231.7,150.9 229.5,151.8 227.4,152.1 226.3,153.1 225.4,154.5 223.4,155.4 222.3,157.1 220.3,159.0 217.8,160.1 215.0,160.0 214.9,162.8 213.6,165.0 211.7,166.6 209.5,166.3 208.1,168.4 205.4,168.7 203.6,170.4 201.6,170.4 200.0,170.0 201.3,172.6 203.2,174.3 203.3,176.6" fill="#4ea6cd"/>
<polygon points="230.0,113.8 233.2,113.3 234.9,112.7 236.2,110.5 238.5,109.8 240.0,110.0 240.5,112.7 242.6,114.8 244.2,115.7 245.3,117.4 246.9,119.8 248.1,121.2 248.2,123.8 247.6,125.9 248.7,128.3 250.0,130.0 252.3,131.0 254.5,132.6 255.8,134.7 256.5,137.9 257.7,139.5 259.3,140.1 260.3,141.4 260.2,143.4 261.4,145.7 262.5,147.5 262.2,149.2 262.5,150.9 261.1,152.9 261.9,154.4 262.5,156.2 260.5,158.0 260.1,161.4 260.0,163.8 259.6,165.8 258.0,168.0 256.3,168.6 255.0,170.0 253.1,170.5 250.2,170.8 247.6,172.0 245.0,173.8 243.2,175.6 243.8,178.8 242.0,181.4 239.9,181.8 238.8,182.5 237.3,182.8 234.9,182.9 232.5,181.2 231.5,182.9 230.9,184.5 229.0,183.7 227.5,183.8 225.8,186.4 224.3,187.7 222.5,188.0 220.7,186.8 219.4,186.3 217.5,183.8 215.6,182.4 212.8,183.1 210.0,185.0 207.5,182.8 205.0,182.5 204.8,180.1 203.8,178.0 200.7,178.7 198.6,176.7 196.6,176.6 195.0,176.2 192.0,175.7 188.8,175.0 186.9,174.7 184.2,174.3 181.8,175.3 180.2,175.9 177.0,175.7 175.0,175.0 187.5,125.0 189.7,124.9 192.3,124.2 194.0,122.7 196.2,121.6 199.0,121.2 200.9,120.1 202.5,121.3 203.9,122.8 207.1,122.7 207.9,121.5 208.8,119.5 211.8,119.2 213.0,118.4 215.0,117.5 217.4,116.0 219.2,115.2 221.5,116.0 222.5,113.6 225.0,112.8 226.2,114.5 228.4,114.2" fill="#2c82bd"/>
<polygon points="236.2,111.2 236.7,108.3 236.5,105.4 237.3,103.5 235.4,101.8 237.5,100.0 239.4,98.1 241.3,97.4 242.3,95.5 243.8,95.0 246.0,92.7 248.7,92.4 250.0,91.2 252.3,92.7 255.0,92.5 257.1,94.0 257.5,95.8 259.2,95.5 261.2,95.0 263.6,96.7 265.9,98.0 267.5,98.8 270.3,99.7 271.9,101.1 273.8,102.0 276.5,101.1 278.5,100.4 280.0,98.8 280.6,100.6 282.8,100.7 285.0,102.5 287.1,105.0 290.0,106.2 291.5,105.5 293.5,105.6 295.4,105.9 297.5,105.0 298.1,107.6 298.9,108.7 300.0,110.5 301.3,113.0 302.2,115.6 305.2,115.4 307.5,117.5 307.1,120.6 306.6,123.3 307.5,125.3 307.3,128.1 308.2,130.9 309.3,134.1 309.6,136.5 310.9,138.7 312.5,140.0 312.0,141.5 310.6,143.3 310.2,145.0 309.3,147.4 307.4,148.4 304.4,149.9 302.6,151.0 299.3,151.5 296.8,152.8 295.0,155.0 292.8,155.7 290.4,156.3 288.9,158.8 286.6,159.9 284.4,161.8 281.9,164.2 279.9,165.1 278.0,166.2 275.0,165.0 272.7,163.6 270.0,163.8 266.7,163.3 265.0,161.2 262.3,160.2 260.5,158.0 260.7,155.1 258.8,152.5 258.4,150.5 256.2,149.9 256.3,147.9 255.0,146.2 252.5,145.8 250.6,144.2 250.0,142.1 250.0,140.0 247.9,139.0 246.4,138.3 245.4,137.2 245.0,135.0 243.5,134.6 242.1,132.9 239.7,131.6 241.2,128.8 239.6,127.1 238.5,125.1 238.2,122.8 236.2,122.5 234.5,120.2 234.3,118.5 233.8,116.2 233.8,114.8 234.4,112.8" fill="#176ab0"/>
<polygon points="309.5,139.5 309.4,142.0 307.2,142.7 304.8,143.7 302.5,143.8 300.4,144.4 298.3,144.2 295.0,143.8 293.0,144.5 291.6,145.3 289.4,145.6 287.5,146.2 285.5,148.1 283.9,149.4 282.5,150.0 283.0,151.5 283.1,153.9 280.4,154.5 279.5,156.2 278.3,159.1 278.7,161.0 280.0,162.5 279.6,164.7 278.0,166.2 278.3,168.0 278.3,169.8 280.0,172.5 281.4,175.3 281.2,177.9 281.2,180.0 282.0,183.3 284.2,183.9 285.0,186.2 286.5,185.2 289.1,184.8 291.0,185.1 292.5,185.0 293.7,187.5 295.0,188.7 297.1,189.1 300.0,188.8 302.2,191.1 303.8,192.9 305.0,193.8 306.5,195.6 306.8,197.9 308.0,199.2 310.0,200.0 310.0,200.0 312.2,200.5 313.9,202.1 315.8,201.9 317.5,202.5 319.8,203.3 320.9,204.8 323.7,204.5 325.0,206.2 327.1,206.7 329.1,208.1 331.2,210.0 332.8,207.6 335.0,208.8 337.3,206.7 339.9,205.9 341.7,204.6 344.7,205.3 347.1,205.3 348.8,203.1 350.0,201.3 352.1,202.4 353.9,201.6 355.5,201.1 357.3,200.4 360.0,200.0 360.0,130.0 310.0,130.0 308.4,132.5 308.5,134.6 309.5,136.9" fill="#2278b5"/>
<polygon points="262.5,208.2 264.1,209.1 266.2,210.0 265.9,212.3 268.8,213.8 269.5,217.0 268.4,218.5 267.0,220.0 265.0,220.0 262.5,219.5 261.9,217.8 259.5,217.0 260.0,215.1 258.0,213.8 258.1,211.2 260.0,210.5" fill="#ecf1c4"/>
<polygon points="427.5,246.2 427.6,247.9 427.8,250.6 429.6,251.9 430.0,255.0 431.4,256.3 433.3,257.4 435.1,257.8 436.1,259.5 436.2,262.5 437.1,263.9 437.5,266.2 436.1,269.2 433.5,269.5 431.6,269.8 430.0,268.8 431.5,270.9 430.5,272.8 428.8,275.0 429.8,276.9 431.9,277.8 433.8,280.0 434.9,282.1 434.6,283.7 436.7,284.7 437.5,286.2 439.7,287.8 442.7,288.1 444.3,289.5 446.2,288.8 444.8,289.9 443.8,292.5 442.4,294.1 439.9,295.3 438.0,295.9 435.0,296.2 433.7,297.6 431.7,298.0 430.3,301.0 428.1,301.9 425.0,302.5 423.6,304.1 421.4,306.2 420.3,309.0 417.5,310.0 417.7,313.0 417.6,315.7 415.5,316.2 416.3,317.9 417.3,319.9 417.6,321.9 417.5,323.8 419.0,326.3 420.5,327.7 421.7,328.8 424.1,329.3 425.7,330.1 427.6,331.1 428.3,332.4 430.0,335.0 500.0,330.0 540.0,300.0 545.0,250.0 420.0,230.0 420.8,232.6 422.0,234.6 423.5,237.2 425.0,239.5 426.5,242.0 426.7,244.7" fill="#234b97"/>
<polygon points="431.2,380.0 433.1,379.1 433.8,377.5 434.9,375.9 436.9,375.2 437.5,372.5 439.7,372.3 440.9,371.6 441.6,369.8 441.2,367.5 439.5,365.8 438.8,363.8 436.6,361.4 436.7,358.4 435.3,356.7 433.8,356.2 432.2,354.6 430.3,353.5 430.0,352.0 430.0,350.0 428.2,349.0 425.9,347.1 424.1,347.2 422.5,346.2 420.8,343.3 418.5,342.2 417.5,340.0 415.8,338.6 413.8,338.8 415.0,337.5 415.1,334.4 415.8,332.2 417.0,330.0 416.2,326.8 417.5,323.8 417.5,323.8 419.7,322.9 421.4,323.8 422.9,323.6 425.0,322.5 427.9,323.8 430.1,322.7 433.0,323.5 435.0,325.0 436.1,327.3 438.5,327.0 441.2,325.7 443.8,327.5 446.4,326.6 449.8,326.6 450.9,325.1 452.5,322.5 455.0,321.1 456.9,321.6 458.5,319.6 460.0,318.4 462.5,317.5 464.4,316.3 466.7,316.3 468.2,315.6 470.0,315.0 472.0,316.0 474.2,314.9 476.1,314.8 477.5,316.2 479.4,316.7 481.4,318.5 483.4,318.1 485.0,318.8 486.6,321.0 486.6,322.9 489.1,322.3 491.2,323.8 491.7,325.2 494.2,324.2 495.1,321.0 496.9,320.1 499.3,318.9 501.6,319.1 503.4,319.3 505.5,318.5 506.0,316.8 506.6,314.4 507.6,311.8 508.1,308.9 510.1,306.7 510.5,303.8 513.5,302.6 515.6,300.5 517.7,298.4 520.3,297.6 522.7,296.3 524.1,296.8 526.4,296.7 528.3,296.1 529.8,295.6 532.5,296.8 533.8,298.5 535.5,299.5 537.4,301.3 540.0,300.0 539.3,301.5 539.0,303.7 538.5,307.0 537.5,309.4 536.7,311.1 535.8,312.4 537.2,314.7 536.7,316.8 537.8,318.9 539.8,321.0 540.9,322.9 540.4,325.9 539.4,327.6 540.7,329.7 540.5,331.6 539.0,334.1 539.7,336.5 539.4,338.5 540.0,340.0 520.0,400.0 450.0,420.0 449.9,417.8 450.6,415.9 450.0,414.3 449.5,411.7 449.0,408.5 447.1,407.2 445.9,405.2 443.8,405.0 443.9,401.9 442.0,400.1 441.5,398.3 440.1,395.5 437.3,393.8 435.2,391.2 433.5,388.4 433.2,386.4 433.1,384.2 432.1,381.7" fill="#2a80bc"/>
<polygon points="431.2,379.9 433.3,378.9 435.0,378.4 437.4,379.9 439.5,381.5 441.7,380.9 443.8,381.5 446.1,382.3 448.7,381.2 450.0,379.2 451.8,378.5 453.4,377.6 456.7,378.4 457.7,379.6 460.1,380.1 460.0,381.7 461.0,384.1 460.9,386.8 461.8,389.0 464.2,390.1 466.9,389.9 468.9,389.2 470.1,388.4 471.9,387.2 473.3,387.1 475.2,388.0 476.7,387.6 477.8,388.8 479.2,390.1 479.8,387.8 482.6,386.8 482.5,383.8 483.4,381.7 482.6,379.1 482.6,376.7 484.3,376.3 486.8,376.7 488.7,378.0 491.8,379.2 492.9,380.5 495.5,381.2 498.4,381.7 500.7,382.7 502.8,382.0 504.3,383.4 505.9,380.8 508.0,380.1 509.8,379.6 512.6,379.2 514.1,378.9 515.9,377.7 516.4,375.8 518.3,374.7 519.4,372.0 520.0,370.0 519.5,373.1 520.8,375.5 521.9,377.3 522.9,378.7 524.6,380.5 526.6,380.5 527.7,382.6 527.1,384.3 528.8,385.8 529.2,387.8 531.3,387.8 533.7,388.0 535.1,389.6 535.9,392.0 535.1,393.5 535.8,396.1 536.6,397.3 538.5,398.3 540.0,400.0 540.0,401.5 539.0,403.5 537.1,405.8 535.1,406.1 532.0,406.9 529.7,407.2 526.6,408.5 525.3,410.8 524.8,413.3 524.0,414.7 521.2,415.8 520.0,418.0 520.0,420.0 480.0,470.0 440.0,500.0 437.3,498.9 435.4,500.1 434.3,501.7 431.2,503.1 428.7,503.9 427.1,505.5 424.9,506.8 422.4,506.2 419.5,506.8 417.5,507.9 415.8,508.7 413.6,509.3 410.9,508.2 408.6,507.7 406.6,507.0 404.4,507.0 403.3,509.5 400.0,510.0 398.1,509.6 395.8,511.0 393.7,510.5 392.1,512.0 390.0,512.4 388.4,512.2 387.3,509.7 385.4,507.1 383.2,506.1 381.6,506.3 379.1,505.0 377.4,504.0 375.0,505.0 374.0,502.2 372.5,500.0 374.4,498.5 374.4,496.1 376.2,494.5 378.1,494.3 380.0,492.5 381.1,490.2 383.0,488.8 384.4,487.3 385.0,485.0 386.9,482.2 385.5,480.1 387.3,478.8 388.8,477.5 389.2,475.8 388.4,473.9 389.0,471.7 388.8,470.0 388.8,468.1 389.1,466.4 388.3,463.7 387.6,461.2 386.2,460.0 386.6,458.2 386.2,456.2 384.3,455.0 382.5,452.5 384.2,450.5 385.6,449.5 386.2,447.5 388.1,448.1 389.5,449.0 392.5,450.0 395.6,450.8 397.6,451.3 400.0,451.2 401.2,448.8 399.9,447.9 397.9,447.5 395.0,447.5 396.2,445.7 394.4,443.5 393.7,441.6 393.8,440.0 392.7,439.0 391.5,437.2 391.7,434.8 392.5,432.5 393.1,430.6 392.3,429.0 392.5,425.7 393.8,423.8 394.3,420.9 397.5,420.0 399.6,419.2 400.6,417.3 404.0,417.8 406.2,417.5 408.1,415.8 409.9,415.8 412.2,415.0 413.8,415.0 413.5,413.2 414.5,411.3 416.1,408.6 418.8,407.5 417.0,405.4 417.2,403.1 419.2,401.6 420.0,400.0 421.3,398.1 422.9,395.8 422.5,392.5 422.5,390.5 421.6,388.6 423.7,387.4 425.0,385.0 426.0,383.3 427.1,381.9 429.5,380.9 431.2,380.0" fill="#8dd2bf"/>
<polygon points="531.8,266.0 530.9,267.5 531.0,269.4 528.9,270.0 528.5,272.7 525.8,274.3 525.1,276.9 523.7,278.5 523.0,281.1 523.7,282.3 524.3,284.4 526.2,286.6 527.6,287.8 529.3,290.3 528.5,292.8 526.9,294.2 525.1,294.5 522.6,296.1 522.7,296.3 522.4,298.6 523.5,300.9 524.1,303.3 524.4,304.9 526.1,306.7 527.1,308.9 527.7,311.8 526.5,314.3 526.8,316.2 525.6,318.5 524.7,320.8 524.4,323.5 522.9,325.2 522.7,327.7 522.1,329.6 520.2,331.0 518.1,331.8 516.8,334.4 515.6,336.9 513.5,336.9 511.6,337.0 511.0,339.4 509.1,340.2 507.6,340.2 505.6,340.0 504.3,339.4 502.6,341.1 501.0,342.1 500.1,343.6 497.9,344.4 495.9,345.3 493.7,347.3 491.7,347.8 490.9,349.2 490.0,351.1 488.8,350.4 486.7,350.3 485.2,349.8 483.3,349.4 481.8,349.9 480.0,350.3 479.2,353.4 479.4,355.4 480.1,357.6 480.6,359.6 483.4,360.1 485.8,361.3 488.4,361.7 490.2,363.9 493.4,364.2 492.4,366.9 494.3,368.4 494.5,370.7 496.0,371.6 496.8,373.4 498.8,375.4 500.1,376.7 503.0,376.8 503.4,380.1 503.3,381.5 504.3,383.4 505.0,385.4 506.8,386.8 508.3,388.1 511.0,390.1 512.2,391.5 514.3,391.8 515.4,394.0 516.8,395.1 518.1,396.2 520.1,397.6 521.8,398.4 522.2,400.5 523.8,401.7 523.2,404.5 524.5,407.3 524.2,409.4 525.6,412.3 527.1,414.1 529.5,415.2 528.9,417.4 530.0,420.0 600.0,420.0 600.0,200.0 515.0,200.0 515.0,264.0 516.8,262.8 519.5,264.2 521.3,264.8 522.9,264.0 524.9,263.0 528.2,263.0 529.3,264.5" fill="#3d97c7"/>
<polygon points="526.8,247.8 528.9,249.1 530.6,249.5 532.1,250.6 534.1,250.5 535.2,248.8 537.6,248.6 539.4,247.6 542.4,248.3 543.9,248.1 545.9,247.8 547.4,245.9 548.4,243.8 549.3,241.8 549.7,240.5 550.2,238.4 551.4,235.7 552.1,234.0 550.5,232.2 549.6,230.9 550.3,227.6 551.8,225.4 550.3,223.7 550.2,221.6 548.4,222.0 546.4,221.6 544.7,222.1 542.9,221.7 541.4,222.8 538.8,222.2 536.5,223.8 534.1,223.5 532.1,223.6 529.6,223.7 527.8,222.7 525.1,221.6 524.9,223.6 524.6,225.3 526.1,226.7 526.2,228.6 526.3,231.4 525.6,233.5 524.4,235.9 525.1,238.4 525.1,240.5 527.7,242.1 528.1,244.6" fill="#9ad6bd"/>
<polygon points="571.2,256.8 570.8,260.1 572.3,263.1 570.3,265.2 568.2,266.9 568.7,269.4 567.4,272.3 566.9,274.3 567.3,276.9 567.6,279.9 567.8,282.1 568.0,285.0 568.0,420.0 700.0,420.0 770.0,300.0 770.0,150.0 560.0,150.0" fill="#54add0"/>
<polygon points="624.3,245.9 626.8,245.1 628.6,244.9 630.1,243.4 632.5,244.5 634.4,244.1 636.8,242.6 637.6,244.0 639.5,244.9 641.7,244.9 643.5,243.4 645.7,245.1 648.6,243.5 651.8,242.6 655.1,242.1 656.9,242.0 658.5,241.8 659.2,239.6 661.2,239.2 663.5,238.4 664.5,236.7 665.0,235.2 666.9,233.4 667.9,231.0 669.4,230.2 670.2,228.4 671.8,226.1 673.5,224.3 674.8,223.6 676.3,221.8 678.5,223.4 680.5,222.5 682.3,221.2 685.2,220.1 687.8,219.8 689.5,219.8 691.2,218.6 691.9,216.7 694.7,215.8 696.5,214.1 698.6,213.4 700.3,213.8 702.3,213.0 703.8,212.5 705.2,210.9 707.9,210.0 710.0,210.0 711.9,209.2 713.6,211.7 713.2,214.9 711.9,216.7 712.5,218.2 714.2,219.6 715.4,221.1 715.3,223.4 714.8,225.4 714.4,226.8 711.9,227.4 710.3,228.4 708.1,230.3 705.2,231.8 703.2,233.5 701.1,235.1 700.0,237.0 698.6,238.4 696.9,241.0 696.9,243.1 697.4,244.6 699.1,246.0 700.2,248.5 703.2,249.2 704.0,247.0 704.8,245.6 706.4,245.6 708.2,246.0 710.0,246.2 711.9,246.8 760.0,260.0 770.0,150.0 600.0,150.0 600.0,240.0 602.2,239.5 603.3,240.4 605.1,241.4 606.8,240.4 608.1,239.1 610.4,240.8 612.5,241.5 614.3,242.3 616.3,244.7 619.2,244.4 621.8,244.0" fill="#62b8c8"/>
<polygon points="701.1,245.9 698.9,245.4 698.5,242.8 699.1,240.6 698.6,238.4 696.7,239.8 693.6,240.1 692.7,241.8 691.5,243.3 688.6,243.4 687.1,245.8 684.3,246.4 683.6,248.5 681.7,250.0 680.6,251.1 678.5,253.5 678.2,255.6 678.8,257.0 676.9,258.3 675.2,258.5 673.0,260.9 673.5,263.5 673.2,266.2 671.9,268.5 670.3,269.2 668.3,269.1 666.9,271.8 665.3,274.2 663.5,275.2 660.9,275.6 660.2,278.5 659.8,280.6 658.5,282.7 659.3,284.6 660.2,286.8 661.9,288.5 662.6,290.1 662.6,292.0 665.2,293.5 667.2,293.0 669.8,291.8 672.3,292.0 674.1,291.6 675.0,289.8 677.8,290.7 681.0,290.9 684.1,290.3 686.9,290.2 689.3,288.9 691.2,288.6 692.8,286.1 693.5,284.1 695.6,283.0 696.6,281.0 699.1,280.5 701.8,280.3 703.3,281.7 705.5,279.7 707.6,278.6 710.2,278.4 711.9,276.8 713.7,274.0 713.0,272.1 712.8,270.4 714.8,268.1 715.1,266.0 714.1,262.8 714.4,260.8 714.0,258.4 713.7,256.4 715.0,254.6 713.3,251.8 712.6,248.9 711.9,246.8 709.8,247.5 707.3,248.1 705.4,248.6 703.6,247.5" fill="#e8f5dc"/>
<polygon points="686.1,276.7 685.2,278.3 682.8,279.6 680.2,280.0 678.1,281.8 675.2,280.8 673.0,282.3 670.2,282.5 668.7,285.4 667.0,286.0 665.2,286.7 663.1,287.4 661.9,288.4 660.8,289.7 659.4,291.7 659.1,294.6 659.1,296.3 657.7,298.4 655.6,300.9 655.5,302.8 656.0,305.0 654.8,306.3 653.2,307.1 653.1,309.1 654.3,311.7 654.2,313.8 653.4,315.4 653.5,318.4 654.3,320.9 655.2,322.4 656.6,324.2 658.5,326.7 660.6,327.4 662.0,326.5 664.4,326.8 666.4,327.1 667.8,328.0 670.2,328.4 672.2,327.1 673.3,325.6 676.2,325.5 677.8,326.6 679.7,327.9 682.4,329.1 685.1,329.3 687.6,328.2 689.0,326.8 690.5,326.2 692.7,327.4 694.2,327.2 696.3,326.4 698.0,324.8 699.9,325.6 702.0,327.1 703.6,328.4 705.4,326.1 705.8,324.4 705.6,322.6 705.0,320.8 703.3,318.3 702.7,315.8 700.8,314.2 700.1,312.4 699.2,310.8 701.6,308.8 703.3,307.7 704.9,305.3 704.7,303.2 703.7,301.6 702.1,300.2 701.5,297.1 702.0,295.0 702.6,293.4 703.4,292.0 703.6,290.0 701.4,289.0 698.7,287.5 697.1,286.8 695.3,286.2 695.6,283.9 693.9,281.0 692.3,280.6 690.2,280.0 687.1,278.6" fill="#8fd3c0"/>
<polygon points="636.8,320.1 638.5,319.7 640.2,318.4 642.5,317.0 645.2,315.1 646.7,314.9 648.5,314.2 649.4,316.5 651.8,316.7 652.5,318.3 653.5,320.1 654.3,320.9 655.7,319.5 658.1,319.5 660.7,319.8 662.7,322.1 665.2,324.0 667.2,324.9 668.6,326.7 670.7,327.2 673.4,327.2 675.7,325.9 677.8,326.9 680.6,327.7 682.8,326.8 684.5,326.5 686.9,325.1 686.9,386.8 636.8,386.8 636.8,333.4 636.0,331.2 636.3,329.7 637.3,327.5 637.0,325.2 636.1,322.5" fill="#9cd8bb"/>
<polygon points="633.5,313.7 633.1,315.3 633.5,317.6 635.2,320.1 635.5,321.6 635.4,323.8 636.0,326.7 637.4,329.6 636.0,332.6 635.4,334.0 634.0,335.5 635.0,338.1 634.5,340.2 635.1,342.0 636.4,343.1 635.2,345.4 637.3,346.5 637.5,348.3 636.8,351.0 636.6,354.4 635.8,356.1 636.1,359.0 635.0,360.8 633.7,362.2 633.4,364.8 633.1,368.2 635.2,370.1 633.6,371.2 632.6,372.9 629.9,371.5 627.6,371.6 624.8,372.0 622.3,372.3 620.2,371.0 618.6,370.8 616.4,371.4 614.7,373.7 612.4,372.5 609.6,373.1 607.5,372.0 605.9,371.5 603.4,370.1 603.4,320.1 606.8,319.4 608.5,317.5 610.4,318.1 612.5,315.5 614.8,314.0 617.4,313.3 619.5,311.9 620.9,312.2 622.9,312.7 624.8,313.7 627.5,313.3 629.7,311.5 631.8,311.3 633.5,310.1 632.9,311.8" fill="#3a93c4"/>
<polygon points="573.7,288.6 574.4,286.9 575.4,285.3 576.8,282.9 575.4,280.2 576.7,279.1 577.9,277.7 580.2,278.5 582.1,276.1 584.9,275.6 587.1,275.6 590.2,275.6 592.1,276.1 594.8,275.2 597.1,276.9 600.1,276.4 602.2,278.1 604.8,278.8 606.3,279.8 608.0,277.7 610.0,276.8 611.4,275.6 613.9,273.8 615.5,272.7 617.4,271.7 618.9,271.0 620.4,271.8 623.0,271.9 623.5,270.1 626.4,271.6 627.9,271.0 630.1,271.0 629.6,272.9 628.5,275.2 629.6,276.5 631.8,276.8 635.2,277.2 636.8,279.3 639.3,281.5 641.8,282.7 643.8,285.2 645.2,286.8 646.0,288.6 646.0,290.2 646.0,290.2 644.4,291.3 643.5,292.5 642.4,295.0 640.3,295.3 638.7,295.9 636.8,296.7 634.2,297.3 632.0,298.5 630.1,298.4 570.1,311.7 570.0,308.5 568.2,307.0 566.8,306.2 566.9,303.6 567.9,302.0 567.9,299.6 567.3,297.9 567.1,295.7 568.9,293.1 569.8,289.9 570.1,286.7 571.8,288.8" fill="#dbefd6"/>
<polygon points="361.2,507.5 360.6,505.3 360.0,503.8 358.4,502.0 357.8,499.9 356.6,497.8 357.5,495.0 356.0,492.9 355.4,490.6 353.6,488.8 352.5,487.5 349.5,488.4 347.2,487.5 345.3,485.9 343.8,483.8 342.5,482.5 340.0,481.2 338.8,479.5 336.3,478.6 335.4,477.1 335.0,475.0 333.7,472.3 333.6,470.3 332.5,467.5 330.9,465.2 330.4,463.0 330.0,461.2 328.3,461.7 326.5,460.6 324.8,461.5 322.5,462.5 321.2,461.6 318.9,460.9 316.9,459.2 315.0,458.8 313.1,459.1 311.0,459.6 308.2,459.9 305.0,460.0 302.8,458.5 302.2,457.0 301.7,455.2 299.9,455.5 297.5,455.0 296.4,454.0 295.0,452.4 292.4,452.4 291.2,453.8 290.6,455.7 289.0,457.4 287.5,460.0 286.0,461.7 285.3,463.3 285.0,465.5 283.8,467.5 282.7,470.2 281.2,472.1 279.4,472.9 278.8,475.0 277.7,477.0 277.8,478.7 278.6,480.6 277.5,482.5 275.3,483.1 273.6,484.9 272.4,486.5 271.8,488.3 272.5,491.2 272.9,493.1 272.7,494.8 272.0,497.5 269.0,498.3 267.7,499.9 266.5,500.9 264.4,503.5 262.0,505.0 262.0,565.0 264.5,563.5 267.0,563.4 268.6,564.8 270.9,566.0 273.3,565.9 275.0,566.4 277.3,567.6 279.2,567.0 280.8,567.3 283.2,567.0 285.9,568.5 287.9,569.8 290.2,569.0 292.6,568.9 294.9,570.1 297.0,570.4 300.0,570.0 350.0,540.0 351.5,538.1 351.2,536.1 351.5,534.5 353.5,533.4 354.2,531.1 354.7,528.9 355.4,527.4 357.3,526.7 359.2,526.4 360.3,525.0 361.3,523.5 362.3,521.5 362.3,519.9 363.9,518.3 364.3,516.0 366.8,517.2 368.7,516.2 370.0,515.0 369.6,513.4 368.0,511.6 366.0,509.7 363.5,508.1" fill="#52a5cc"/>
<polygon points="185.5,542.2 187.0,540.8 188.7,540.3 190.4,539.3 191.9,538.9 193.8,537.7 196.3,535.5 198.9,534.5 202.0,533.6 203.4,532.1 204.0,530.7 207.3,531.0 209.1,532.6 211.7,531.5 214.2,530.1 215.2,531.3 217.3,532.0 218.9,530.6 220.6,529.4 220.9,526.6 221.9,523.7 220.6,520.7 220.6,518.6 223.2,519.0 225.7,519.2 227.5,521.0 228.8,522.0 230.9,521.2 232.1,520.5 234.9,519.8 237.1,519.6 238.5,520.5 241.0,518.6 241.3,516.4 240.4,514.1 242.0,512.1 243.6,511.6 245.9,511.2 247.4,509.0 250.0,507.8 251.3,505.8 254.4,505.6 255.1,502.6 255.8,501.2 257.0,499.4 258.3,498.2 258.4,496.4 260.0,495.0 262.2,493.0 264.6,492.9 266.2,492.5 267.0,494.7 268.8,495.3 270.6,495.6 272.0,497.5 272.3,499.4 273.0,502.0 271.5,504.3 269.1,505.8 269.3,508.6 269.1,510.9 270.0,512.7 270.4,514.1 271.5,515.7 274.2,516.7 271.5,516.9 270.4,518.6 269.3,521.2 266.6,523.0 268.3,525.1 268.7,527.0 267.9,528.8 266.3,531.5 267.1,533.4 268.5,535.2 267.0,537.9 266.2,539.7 267.2,541.5 264.5,542.7 262.8,544.1 264.6,546.4 266.6,546.6 269.1,547.9 269.3,550.0 269.1,553.0 270.3,556.0 269.8,558.1 271.0,560.1 270.4,562.8 272.0,564.2 272.5,566.8 272.7,569.9 273.9,572.2 274.0,573.8 274.4,576.5 275.9,579.0 276.7,580.3 278.8,581.6 281.2,583.2 282.5,585.2 282.7,587.2 284.2,589.0 285.3,591.3 284.8,594.4 286.5,596.3 286.1,598.0 285.0,600.0 310.0,650.0 260.0,690.0 257.3,689.7 255.0,689.2 253.4,688.8 250.3,689.7 248.2,690.0 245.0,689.9 243.0,687.5 240.6,688.9 238.9,689.4 237.1,689.7 235.3,689.4 232.5,689.5 230.0,690.0 190.0,640.0 187.9,639.0 187.4,637.2 185.1,636.2 183.2,633.9 183.2,630.9 181.9,629.1 179.6,626.6 180.2,624.8 180.4,622.8 180.1,620.5 179.4,618.1 180.5,616.1 181.3,614.7 179.7,612.6 179.6,609.3 179.3,607.7 178.1,606.2 175.8,604.8 174.7,602.6 175.0,600.0 175.5,597.4 176.1,595.7 176.4,593.7 178.2,592.5 178.4,591.0 180.5,589.3 180.4,586.2 181.0,584.9 183.7,583.0 183.6,579.8 184.5,577.5 186.3,576.4 184.8,573.4 185.7,571.9 184.3,569.8 184.8,567.1 185.1,564.9 184.2,561.9 185.9,560.7 187.4,559.4 188.6,557.5 189.3,555.6 189.6,553.7 191.2,551.7 190.6,548.6 188.7,547.0 187.4,545.4 186.2,543.6" fill="#2f86be"/>
<polygon points="269.8,558.1 271.4,558.9 272.3,560.6 274.5,559.9 275.5,558.8 277.0,559.4 279.1,560.1 281.9,560.0 283.9,560.7 285.7,560.7 287.7,559.1 289.6,558.1 291.1,558.0 293.0,558.1 294.7,555.6 296.9,556.1 298.5,556.4 301.1,554.3 302.5,553.4 304.9,553.0 306.4,554.0 308.4,554.6 309.5,552.6 311.3,551.7 313.1,549.2 313.8,547.3 314.9,544.5 316.4,542.8 319.3,542.8 320.7,540.9 323.2,540.0 325.7,539.0 328.6,538.0 330.0,536.2 331.5,535.0 334.2,533.6 335.9,533.1 337.5,532.5 339.4,530.7 342.5,530.0 344.7,532.3 347.5,533.8 346.7,531.0 348.0,529.4 348.8,527.5 350.1,526.3 352.5,525.0 355.5,524.1 357.5,522.5 360.7,521.9 362.4,521.2 365.0,521.2 364.8,517.9 366.2,516.2 365.8,514.2 364.1,513.4 361.2,512.5 362.9,510.0 361.2,507.5 363.2,507.6 365.0,507.0 367.2,506.6 368.7,505.2 370.0,504.5 371.1,501.5 372.5,500.0 372.5,500.0 375.1,499.3 376.7,498.4 377.7,497.2 380.0,497.5 382.9,496.6 385.3,497.3 386.5,494.9 389.0,494.1 390.0,492.5 393.3,492.1 395.4,491.9 397.5,490.0 399.1,488.2 400.8,486.2 403.0,485.9 405.0,485.0 407.4,482.7 409.8,482.6 412.3,480.8 414.5,478.6 415.0,476.6 415.0,475.0 417.4,475.5 419.4,474.9 420.7,474.4 422.9,473.8 425.0,472.5 425.7,471.0 427.5,470.0 428.9,471.6 430.4,473.4 433.2,474.7 432.5,477.5 435.8,478.1 437.7,478.7 440.0,480.0 441.9,479.4 443.4,478.7 445.9,476.6 447.5,475.0 449.6,474.6 450.3,472.6 451.8,472.2 453.8,471.2 455.7,472.5 457.8,473.0 459.1,473.5 459.7,475.6 461.2,476.5 463.5,477.7 463.4,480.9 466.1,482.7 467.7,482.8 469.5,482.1 471.5,484.4 472.8,486.7 474.7,487.8 476.2,488.1 478.0,488.5 480.0,490.0 400.0,600.0 350.0,660.0 300.0,660.0 299.2,658.6 297.3,657.9 296.8,655.9 296.2,653.3 294.7,650.6 293.6,648.1 293.7,646.3 291.3,646.1 289.6,646.3 287.7,643.7 288.4,642.1 290.9,641.2 292.3,639.6 293.4,638.6 293.9,636.1 295.3,634.8 296.1,632.5 296.6,631.0 294.8,629.5 292.8,628.4 291.9,626.3 292.1,624.6 289.5,623.8 287.7,622.0 288.0,620.2 287.4,618.4 284.5,618.2 284.0,616.2 282.5,613.7 280.4,613.3 278.1,613.1 275.7,612.7 274.2,615.0 272.6,616.5 270.4,618.2 268.7,618.2 266.6,616.9 265.6,615.3 265.3,613.1 262.2,613.0 260.2,613.7 260.2,615.7 258.9,616.9 257.2,616.2 255.7,615.6 254.6,613.0 254.7,610.7 253.8,609.3 253.0,607.0 252.5,604.2 252.8,601.7 253.2,599.1 251.7,597.1 250.0,595.2 248.5,592.7 249.3,590.1 250.3,592.4 251.9,595.1 251.6,593.3 252.4,591.7 250.0,590.0 249.7,586.8 249.3,584.9 250.7,583.7 252.5,582.4 255.3,581.1 258.3,581.1 257.3,578.9 258.9,577.3 257.4,575.2 257.0,572.2 258.8,570.1 258.3,567.1 258.9,564.3 257.7,563.6 256.4,561.9 258.5,560.1 258.9,558.1 261.1,559.1 264.0,557.5 266.7,557.1" fill="#2a7fbb"/>
<polygon points="342.0,624.0 339.8,622.8 337.5,622.8 334.3,623.4 332.5,625.2 330.5,625.0 329.1,626.5 327.0,628.6 325.0,629.0 322.0,628.8 320.4,630.6 317.5,630.2 315.8,631.7 314.2,633.2 311.8,634.0 310.0,634.0 313.0,633.8 314.4,632.6 316.4,632.2 314.4,633.9 312.6,634.8 310.9,637.1 308.7,637.3 305.6,637.6 303.6,638.6 300.6,639.5 298.5,639.9 298.3,641.9 297.2,643.7 294.7,644.1 293.7,646.3 290.9,646.3 289.5,645.1 287.7,644.3 285.8,643.6 284.5,641.8 282.1,640.7 279.4,641.2 277.4,641.7 276.6,643.3 274.2,643.7 273.3,645.5 271.1,647.5 271.8,649.9 270.4,652.6 269.0,654.7 267.9,656.5 267.2,659.7 269.5,660.8 271.7,661.6 273.0,664.1 271.1,665.3 269.1,666.7 267.5,668.6 265.3,667.9 263.5,668.6 261.5,669.2 259.5,670.1 257.8,668.2 256.4,671.1 253.7,672.4 251.3,671.8 250.0,673.2 247.4,674.3 244.6,674.1 242.3,675.0 240.2,673.7 238.5,673.7 236.8,676.0 237.2,678.2 235.3,680.0 234.2,681.1 232.8,682.5 231.8,685.1 229.9,685.8 229.1,688.2 228.0,690.0 245.0,760.0 245.7,762.1 246.2,764.4 248.0,766.9 250.8,767.7 252.9,767.9 255.0,770.1 257.3,772.6 260.5,773.5 262.0,775.0 264.2,777.1 267.0,777.2 269.4,778.5 272.1,780.1 274.6,780.9 275.9,782.4 278.8,781.1 281.9,780.5 284.2,781.2 285.0,782.7 286.7,784.1 289.1,784.1 291.7,783.2 293.1,785.0 295.9,786.9 298.4,787.1 300.0,790.0 360.0,720.0 360.0,630.0 357.6,630.1 355.5,629.5 353.1,628.2 351.5,626.2 349.5,625.7 347.7,626.2 345.0,625.7 343.9,624.9" fill="#67bbc6"/>
<polygon points="199.5,642.4 201.8,643.3 204.0,645.0 206.2,646.4 207.5,648.0 209.1,648.8 210.0,651.8 211.2,652.9 212.9,653.9 215.7,655.7 217.2,656.8 216.8,659.0 217.7,661.0 218.7,662.2 221.9,662.8 222.4,664.2 223.7,665.9 227.0,665.4 227.7,667.0 228.4,668.6 230.7,669.0 232.1,667.9 233.5,669.8 235.9,671.8 238.5,673.7 237.1,675.8 234.7,676.9 235.9,678.4 237.2,679.4 239.7,680.8 241.0,682.0 240.6,684.1 239.8,685.8 240.8,687.5 243.6,688.4 245.2,690.9 246.1,693.3 247.9,694.7 248.5,696.8 249.4,697.8 249.5,699.5 250.0,701.5 249.8,703.9 248.9,706.1 250.0,707.8 251.7,708.8 252.6,710.2 253.9,711.0 256.2,711.5 257.4,712.9 260.0,714.0 260.6,715.6 259.9,718.0 259.3,719.5 258.8,721.5 258.0,724.3 258.3,726.1 260.0,729.0 261.5,729.9 262.5,731.5 262.0,733.3 263.3,735.5 262.2,737.8 260.0,739.0 260.0,741.4 260.5,743.6 258.8,746.5 259.1,748.1 258.4,750.3 259.9,752.3 260.0,754.0 258.3,756.1 259.2,759.2 258.4,761.3 257.5,762.8 256.6,764.8 256.5,767.3 254.7,767.7 253.3,768.5 253.4,770.9 251.7,772.4 250.0,775.0 200.0,720.0 190.0,640.0 192.1,640.5 195.4,640.2 197.4,642.1" fill="#1c64ac"/>
<polygon points="169.5,560.4 171.9,561.3 174.6,561.3 176.9,560.6 178.5,561.5 181.0,562.2 182.5,562.1 184.5,561.7 185.6,564.3 185.1,567.1 185.8,568.7 186.5,571.0 184.8,573.4 184.6,576.0 184.5,578.4 183.6,579.8 183.6,581.5 182.8,583.2 181.0,584.9 180.4,586.4 178.2,586.7 175.6,585.6 172.7,586.6 170.8,587.5 171.1,584.7 170.7,582.7 170.5,580.2 170.6,578.3 170.2,576.1 169.0,574.8 167.4,573.3 168.5,571.0 168.3,569.3 167.3,567.6 167.2,565.0 165.5,563.6 164.4,561.9 166.7,560.3" fill="#c4e8c3"/>
<polyline points="199.5,37.5 201.2,36.5 203.3,38.0 205.5,39.6 207.5,40.0 209.1,41.3 210.8,40.8 213.1,40.7 214.6,41.7 215.9,42.8 217.5,45.0 218.7,46.5 220.8,47.1 222.5,49.1 223.3,51.0 225.0,53.8 226.9,56.2 227.9,58.4 230.5,60.3 232.5,61.2 234.1,63.2 235.7,64.6 236.7,67.1 238.4,68.5 240.0,68.8 242.3,70.6 243.9,73.3 245.7,74.9 247.5,77.5 249.2,79.0 251.0,78.9 252.3,81.0 255.0,82.5 257.6,82.3 258.9,84.1 260.6,86.1 262.5,86.2" fill="none" stroke="#ffffff" stroke-opacity="0.7" stroke-width="0.9"/>
</g>
</g>
<g transform="translate(0,0)" fill="#dedede"><path d="M675.5,607.5 L677.5,609 L678,616 L677,622 L678.5,628 L677.5,636 L675.5,642 L674.5,650 L672.5,656 L671.5,667 L670,660 L669,652 L670.5,644 L672,636 L672.5,628 L672,620 L673.5,612 Z"/><ellipse cx="667.5" cy="686" rx="2.6" ry="4.5"/><ellipse cx="680" cy="647" rx="1" ry="3" opacity="0.7"/><ellipse cx="707" cy="780.5" rx="3" ry="1.8" opacity="0.8"/><circle cx="116" cy="649" r="1.3" opacity="0.55"/><circle cx="115" cy="661.5" r="1.3" opacity="0.55"/><circle cx="125" cy="671.5" r="1.3" opacity="0.55"/><circle cx="122.5" cy="683" r="1.3" opacity="0.55"/><circle cx="175" cy="681.5" r="1.3" opacity="0.55"/><circle cx="126" cy="713" r="1.3" opacity="0.55"/><circle cx="161" cy="713" r="1.3" opacity="0.55"/><circle cx="145" cy="760" r="1.3" opacity="0.55"/></g>
<g transform="translate(730.5,2.5) scale(0.9775,0.9786)" fill="#dedede"><path d="M675.5,607.5 L677.5,609 L678,616 L677,622 L678.5,628 L677.5,636 L675.5,642 L674.5,650 L672.5,656 L671.5,667 L670,660 L669,652 L670.5,644 L672,636 L672.5,628 L672,620 L673.5,612 Z"/><ellipse cx="667.5" cy="686" rx="2.6" ry="4.5"/><ellipse cx="680" cy="647" rx="1" ry="3" opacity="0.7"/><circle cx="116" cy="649" r="1.3" opacity="0.55"/><circle cx="115" cy="661.5" r="1.3" opacity="0.55"/><circle cx="125" cy="671.5" r="1.3" opacity="0.55"/><circle cx="122.5" cy="683" r="1.3" opacity="0.55"/><circle cx="175" cy="681.5" r="1.3" opacity="0.55"/><circle cx="126" cy="713" r="1.3" opacity="0.55"/><circle cx="161" cy="713" r="1.3" opacity="0.55"/><circle cx="145" cy="760" r="1.3" opacity="0.55"/></g>
<circle cx="257.6" cy="156.6" r="1.2" fill="#f4fbf6"/><circle cx="982.6" cy="156.8" r="1.2" fill="#e6f3fb"/>
<g font-family='"Liberation Serif","DejaVu Serif",serif'>
<text x="251.3" y="124.3" font-size="16.5" fill="#141414" stroke="#141414" stroke-width="0.35" textLength="123.2" lengthAdjust="spacingAndGlyphs">Himachal Pradesh</text>
<text x="202.0" y="157.5" font-size="16.5" fill="#141414" stroke="#141414" stroke-width="0.35" textLength="46.0" lengthAdjust="spacingAndGlyphs">Punjab</text>
<text x="292.5" y="173.0" font-size="16.5" fill="#141414" stroke="#141414" stroke-width="0.35" textLength="83.8" lengthAdjust="spacingAndGlyphs">Uttarakhand</text>
<text x="203.2" y="202.5" font-size="16.5" fill="#141414" stroke="#141414" stroke-width="0.35" textLength="56.8" lengthAdjust="spacingAndGlyphs">Haryana</text>
<text x="272.5" y="219.5" font-size="16.5" fill="#e4eef4" stroke="#e4eef4" stroke-width="0.12" textLength="34.5" lengthAdjust="spacingAndGlyphs">Delhi</text>
<text x="131.3" y="270.0" font-size="16.5" fill="#c6e5f1" stroke="#c6e5f1" stroke-width="0.12" textLength="66.2" lengthAdjust="spacingAndGlyphs">Rajasthan</text>
<text x="317.0" y="269.5" font-size="16.5" fill="#c6e5f1" stroke="#c6e5f1" stroke-width="0.12" textLength="94.3" lengthAdjust="spacingAndGlyphs">Uttar Pradesh</text>
<text x="454.5" y="293.8" font-size="16.5" fill="#c6e5f1" stroke="#c6e5f1" stroke-width="0.12" textLength="36.0" lengthAdjust="spacingAndGlyphs">Bihar</text>
<text x="481.3" y="231.3" font-size="16.5" fill="#141414" stroke="#141414" stroke-width="0.35" textLength="45.0" lengthAdjust="spacingAndGlyphs">Sikkim</text>
<text x="586.3" y="198.0" font-size="16.5" fill="#141414" stroke="#141414" stroke-width="0.35" textLength="128.7" lengthAdjust="spacingAndGlyphs">Arunachal Pradesh</text>
<text x="617.0" y="263.0" font-size="16.5" fill="#141414" stroke="#141414" stroke-width="0.35" textLength="43.5" lengthAdjust="spacingAndGlyphs">Assam</text>
<text x="682.0" y="268.8" font-size="16.5" fill="#141414" stroke="#141414" stroke-width="0.35" textLength="61.8" lengthAdjust="spacingAndGlyphs">Nagaland</text>
<text x="686.3" y="319.5" font-size="16.5" fill="#141414" stroke="#141414" stroke-width="0.35" textLength="57.5" lengthAdjust="spacingAndGlyphs">Manipur</text>
<text x="562.5" y="325.0" font-size="16.5" fill="#141414" stroke="#141414" stroke-width="0.35" textLength="52.0" lengthAdjust="spacingAndGlyphs">Tripura</text>
<text x="621.0" y="389.8" font-size="16.5" fill="#141414" stroke="#141414" stroke-width="0.35" textLength="60.0" lengthAdjust="spacingAndGlyphs">Mizoram</text>
<text x="503.8" y="367.5" font-size="16.5" fill="#141414" stroke="#141414" stroke-width="0.35" textLength="84.2" lengthAdjust="spacingAndGlyphs">West Bengal</text>
<text x="109.3" y="367.0" font-size="16.5" fill="#141414" stroke="#141414" stroke-width="0.35" textLength="50.0" lengthAdjust="spacingAndGlyphs">Gujarat</text>
<text x="236.3" y="367.0" font-size="16.5" fill="#141414" stroke="#141414" stroke-width="0.35" textLength="112.5" lengthAdjust="spacingAndGlyphs">Madhya Pradesh</text>
<text x="177.0" y="464.5" font-size="16.5" fill="#141414" stroke="#141414" stroke-width="0.35" textLength="86.0" lengthAdjust="spacingAndGlyphs">Maharashtra</text>
<text x="435.0" y="436.3" font-size="16.5" fill="#141414" stroke="#141414" stroke-width="0.35" textLength="45.5" lengthAdjust="spacingAndGlyphs">Odisha</text>
<text x="278.0" y="516.3" font-size="16.5" fill="#141414" stroke="#141414" stroke-width="0.35" textLength="69.5" lengthAdjust="spacingAndGlyphs">Telangana</text>
<text x="279.5" y="592.5" font-size="16.5" fill="#141414" stroke="#141414" stroke-width="0.35" textLength="110.0" lengthAdjust="spacingAndGlyphs">Andhra Pradesh</text>
<text x="200.5" y="636.3" font-size="16.5" fill="#141414" stroke="#141414" stroke-width="0.35" textLength="69.0" lengthAdjust="spacingAndGlyphs">Karnataka</text>
<text x="274.3" y="690.3" font-size="16.5" fill="#141414" stroke="#141414" stroke-width="0.35" textLength="77.5" lengthAdjust="spacingAndGlyphs">Tamil Nadu</text>
<text x="188.0" y="718.5" font-size="16.5" fill="#141414" stroke="#141414" stroke-width="0.35" textLength="42.8" lengthAdjust="spacingAndGlyphs">Kerala</text>
<text x="982.0" y="123.0" font-size="16.5" fill="#141414" stroke="#141414" stroke-width="0.35" textLength="123.0" lengthAdjust="spacingAndGlyphs">Himachal Pradesh</text>
<text x="933.8" y="160.0" font-size="16.5" fill="#d2e5f5" stroke="#d2e5f5" stroke-width="0.12" textLength="46.2" lengthAdjust="spacingAndGlyphs">Punjab</text>
<text x="1023.0" y="172.0" font-size="16.5" fill="#141414" stroke="#141414" stroke-width="0.35" textLength="84.5" lengthAdjust="spacingAndGlyphs">Uttarakhand</text>
<text x="1003.0" y="218.0" font-size="16.5" fill="#e4eef4" stroke="#e4eef4" stroke-width="0.12" textLength="34.5" lengthAdjust="spacingAndGlyphs">Delhi</text>
<text x="862.0" y="268.0" font-size="16.5" fill="#d2e5f5" stroke="#d2e5f5" stroke-width="0.12" textLength="66.0" lengthAdjust="spacingAndGlyphs">Rajasthan</text>
<text x="1047.5" y="268.0" font-size="16.5" fill="#d2e5f5" stroke="#d2e5f5" stroke-width="0.12" textLength="93.8" lengthAdjust="spacingAndGlyphs">Uttar Pradesh</text>
<text x="1184.8" y="291.3" font-size="16.5" fill="#d2e5f5" stroke="#d2e5f5" stroke-width="0.12" textLength="36.7" lengthAdjust="spacingAndGlyphs">Bihar</text>
<text x="1203.5" y="230.0" font-size="16.5" fill="#141414" stroke="#141414" stroke-width="0.35" textLength="45.0" lengthAdjust="spacingAndGlyphs">Sikkim</text>
<text x="1308.5" y="197.0" font-size="16.5" fill="#141414" stroke="#141414" stroke-width="0.35" textLength="128.8" lengthAdjust="spacingAndGlyphs">Arunachal Pradesh</text>
<text x="1339.0" y="261.8" font-size="16.5" fill="#141414" stroke="#141414" stroke-width="0.35" textLength="43.8" lengthAdjust="spacingAndGlyphs">Assam</text>
<text x="1403.5" y="267.0" font-size="16.5" fill="#141414" stroke="#141414" stroke-width="0.35" textLength="62.0" lengthAdjust="spacingAndGlyphs">Nagaland</text>
<text x="1409.0" y="317.0" font-size="16.5" fill="#141414" stroke="#141414" stroke-width="0.35" textLength="57.0" lengthAdjust="spacingAndGlyphs">Manipur</text>
<text x="1284.8" y="320.0" font-size="16.5" fill="#141414" stroke="#141414" stroke-width="0.35" textLength="51.6" lengthAdjust="spacingAndGlyphs">Tripura</text>
<text x="1347.5" y="389.0" font-size="16.5" fill="#141414" stroke="#141414" stroke-width="0.35" textLength="60.5" lengthAdjust="spacingAndGlyphs">Mizoram</text>
<text x="1239.5" y="365.5" font-size="16.5" textLength="83.0" lengthAdjust="spacingAndGlyphs" stroke-width="0.35" xml:space="preserve"><tspan fill="#d2e5f5" stroke="#d2e5f5" stroke-width="0.12">West</tspan><tspan fill="#141414" stroke="#141414" stroke-width="0.35"> Bengal</tspan></text>
<text x="840.0" y="366.3" font-size="16.5" fill="#141414" stroke="#141414" stroke-width="0.35" textLength="49.5" lengthAdjust="spacingAndGlyphs">Gujarat</text>
<text x="967.0" y="366.3" font-size="16.5" fill="#d2e5f5" stroke="#d2e5f5" stroke-width="0.12" textLength="112.5" lengthAdjust="spacingAndGlyphs">Madhya Pradesh</text>
<text x="904.4" y="458.8" font-size="16.5" fill="#141414" stroke="#141414" stroke-width="0.35" textLength="85.6" lengthAdjust="spacingAndGlyphs">Maharashtra</text>
<text x="1150.0" y="435.0" font-size="16.5" fill="#141414" stroke="#141414" stroke-width="0.35" textLength="45.8" lengthAdjust="spacingAndGlyphs">Odisha</text>
<text x="1006.3" y="505.5" font-size="16.5" fill="#d2e5f5" stroke="#d2e5f5" stroke-width="0.12" textLength="68.7" lengthAdjust="spacingAndGlyphs">Telangana</text>
<text x="1012.0" y="591.3" font-size="16.5" textLength="109.3" lengthAdjust="spacingAndGlyphs" stroke-width="0.35" xml:space="preserve"><tspan fill="#d2e5f5" stroke="#d2e5f5" stroke-width="0.12">Andhra</tspan><tspan fill="#141414" stroke="#141414" stroke-width="0.35"> Pradesh</tspan></text>
<text x="931.6" y="626.6" font-size="16.5" fill="#d2e5f5" stroke="#d2e5f5" stroke-width="0.12" textLength="68.9" lengthAdjust="spacingAndGlyphs">Karnataka</text>
<text x="1005.0" y="689.3" font-size="16.5" fill="#141414" stroke="#141414" stroke-width="0.35" textLength="77.5" lengthAdjust="spacingAndGlyphs">Tamil Nadu</text>
<text x="918.8" y="719.5" font-size="16.5" fill="#141414" stroke="#141414" stroke-width="0.35" textLength="43.0" lengthAdjust="spacingAndGlyphs">Kerala</text>
<text transform="translate(386.3,402.5) rotate(-57.5)" text-anchor="middle" font-size="16.5" fill="#c6e5f1" stroke="#c6e5f1" stroke-width="0.12" textLength="86" lengthAdjust="spacingAndGlyphs" y="5">Chhattisgarh</text>
<text transform="translate(1112,401.3) rotate(-57.5)" text-anchor="middle" font-size="16.5" fill="#d2e5f5" stroke="#d2e5f5" stroke-width="0.12" textLength="86" lengthAdjust="spacingAndGlyphs" y="5">Chhattisgarh</text>
<text x="415.5" y="22.6" font-size="23" fill="#111" stroke="#111" stroke-width="0.35" textLength="99.8" lengthAdjust="spacingAndGlyphs">April 2020</text>
<text x="1148.5" y="24.3" font-size="23" fill="#111" stroke="#111" stroke-width="0.35" textLength="93.8" lengthAdjust="spacingAndGlyphs">June 2020</text>
<rect x="418.8" y="724.5" width="287.5" height="21.8" fill="url(#gl)"/>
<text x="401.3" y="768.8" font-size="22.5" fill="#111" stroke="#111" stroke-width="0.35" textLength="30.0" lengthAdjust="spacingAndGlyphs">-82</text>
<text x="681.3" y="768.8" font-size="22.5" fill="#111" stroke="#111" stroke-width="0.35" textLength="28.7" lengthAdjust="spacingAndGlyphs">-31</text>
</g>
<rect x="1158.3" y="715.1" width="279.1" height="22" fill="url(#gr)"/>
<g font-family='"Liberation Sans","DejaVu Sans",sans-serif'>
<text x="1145.4" y="760.6" font-size="22" fill="#111" stroke="#111" stroke-width="0.35" textLength="30.8" lengthAdjust="spacingAndGlyphs">-38</text>
<text x="1424.0" y="760.6" font-size="22" fill="#111" stroke="#111" stroke-width="0.35" textLength="23.4" lengthAdjust="spacingAndGlyphs">38</text>
</g>
<path d="M1445,0 H1474 V1.8 H1447.5 Q1445.4,1.5 1445,0 Z" fill="#5c5c5c"/>
<path d="M1417.4,812 V789.6 Q1417.4,785.2 1421.8,785.2 H1474 V812 Z" fill="#5f5f5f"/>
<rect x="1417.4" y="785.2" width="56.6" height="1" fill="#4e4e4e" opacity="0.6"/>
<rect x="1471.2" y="791" width="1.2" height="21" fill="#4a4a4a"/>
<rect x="1434.3" y="810.8" width="20.6" height="1.2" fill="#f4f4f4"/>
<ellipse cx="1423.2" cy="773" rx="2.4" ry="2.6" fill="#e6e6e6"/>
</svg></body></html>
